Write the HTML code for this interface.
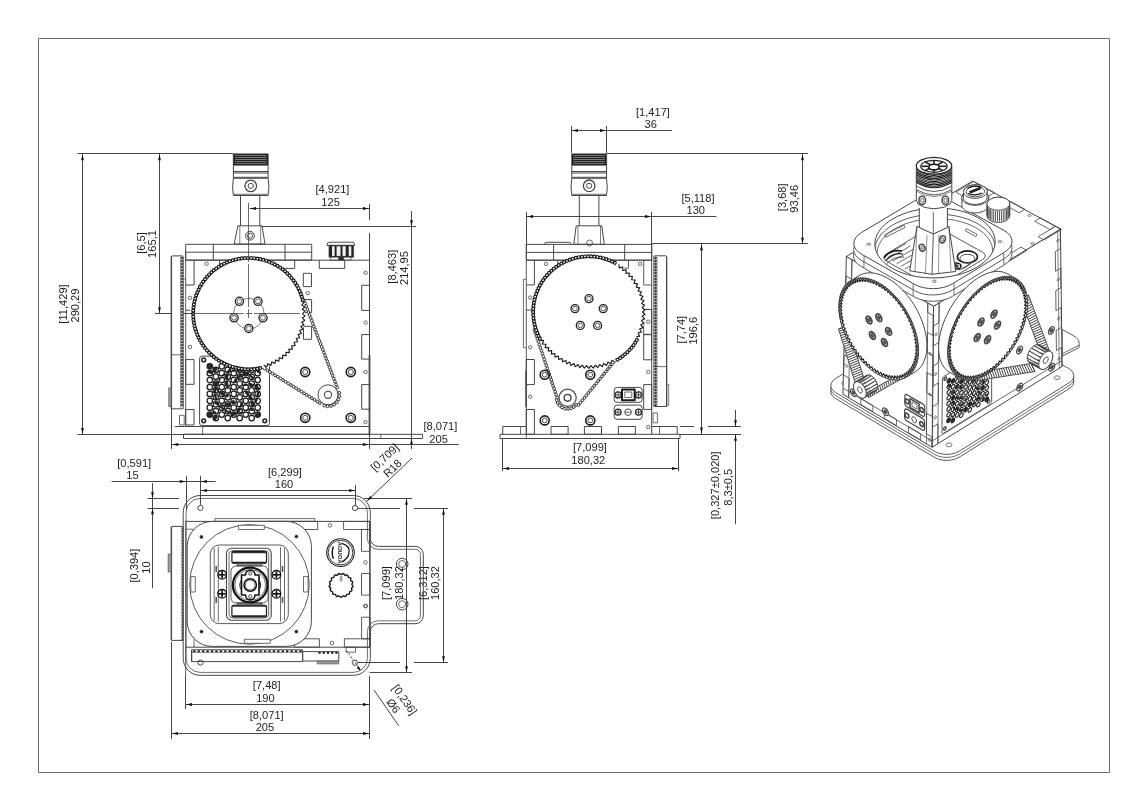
<!DOCTYPE html>
<html><head><meta charset="utf-8"><style>
html,body{margin:0;padding:0;background:#fff;}
svg{display:block;will-change:transform;}
text{font-family:"Liberation Sans",sans-serif;fill:#1e1e1e;stroke:none;}
</style></head><body>
<svg width="1148" height="811" viewBox="0 0 1148 811">
<rect width="1148" height="811" fill="#fff"/>
<g fill="none" stroke="#474747" stroke-width="1" stroke-linecap="butt" stroke-linejoin="round">
<rect x="38.5" y="38.5" width="1071" height="734" stroke="#6a6a6a"/>
<line x1="77.5" y1="153.5" x2="233" y2="153.5"/>
<line x1="82.5" y1="154" x2="82.5" y2="434"/>
<path d="M82.5 154.2 L83.9 160.2 L81.1 160.2 Z" fill="#111" stroke="none"/>
<path d="M82.5 434 L81.1 428 L83.9 428 Z" fill="#111" stroke="none"/>
<line x1="77.5" y1="434.5" x2="185" y2="434.5"/>
<line x1="159.5" y1="154" x2="159.5" y2="313.5"/>
<path d="M159.5 154.2 L160.9 160.2 L158.1 160.2 Z" fill="#111" stroke="none"/>
<path d="M159.5 313.3 L158.1 307.3 L160.9 307.3 Z" fill="#111" stroke="none"/>
<line x1="155" y1="313.5" x2="192" y2="313.5"/>
<text transform="translate(67.25 304) rotate(-90)" text-anchor="middle" font-size="11.1">[11,429]</text>
<text transform="translate(79.15 305.5) rotate(-90)" text-anchor="middle" font-size="11.1">290,29</text>
<text transform="translate(144.75 243) rotate(-90)" text-anchor="middle" font-size="11.1">[6,5]</text>
<text transform="translate(156.15 244) rotate(-90)" text-anchor="middle" font-size="11.1">165,1</text>
<line x1="249.5" y1="208.5" x2="369" y2="208.5"/>
<path d="M250 208.5 L256 207.1 L256 209.9 Z" fill="#111" stroke="none"/>
<path d="M369 208.5 L363 209.9 L363 207.1 Z" fill="#111" stroke="none"/>
<line x1="369.5" y1="204" x2="369.5" y2="220"/>
<text x="332.5" y="193.35" text-anchor="middle" font-size="11.1">[4,921]</text>
<text x="330.6" y="206.15" text-anchor="middle" font-size="11.1">125</text>
<line x1="262" y1="226.5" x2="416" y2="226.5"/>
<line x1="411.5" y1="211" x2="411.5" y2="449"/>
<path d="M411.5 226.3 L410.1 220.3 L412.9 220.3 Z" fill="#111" stroke="none"/>
<path d="M411.5 438.6 L412.9 444.6 L410.1 444.6 Z" fill="#111" stroke="none"/>
<text transform="translate(395.95 266.7) rotate(-90)" text-anchor="middle" font-size="11.1">[8,463]</text>
<text transform="translate(408.25 268) rotate(-90)" text-anchor="middle" font-size="11.1">214,95</text>
<line x1="172" y1="444.5" x2="459" y2="444.5"/>
<path d="M172.2 444.5 L178.2 443.1 L178.2 445.9 Z" fill="#111" stroke="none"/>
<path d="M368.8 444.5 L362.8 445.9 L362.8 443.1 Z" fill="#111" stroke="none"/>
<line x1="171.5" y1="408" x2="171.5" y2="449"/>
<line x1="369.5" y1="426" x2="369.5" y2="449"/>
<text x="440.4" y="429.55" text-anchor="middle" font-size="11.1">[8,071]</text>
<text x="438.6" y="442.65" text-anchor="middle" font-size="11.1">205</text>
<line x1="571.5" y1="126" x2="571.5" y2="153"/>
<line x1="606.5" y1="126" x2="606.5" y2="153"/>
<line x1="571.5" y1="130.5" x2="672" y2="130.5"/>
<path d="M572 130.5 L578 129.1 L578 131.9 Z" fill="#111" stroke="none"/>
<path d="M606 130.5 L600 131.9 L600 129.1 Z" fill="#111" stroke="none"/>
<text x="653" y="115.75" text-anchor="middle" font-size="11.1">[1,417]</text>
<text x="650.7" y="128.35" text-anchor="middle" font-size="11.1">36</text>
<line x1="606.5" y1="153.5" x2="808" y2="153.5"/>
<line x1="802.5" y1="154" x2="802.5" y2="244"/>
<path d="M802.5 154.2 L803.9 160.2 L801.1 160.2 Z" fill="#111" stroke="none"/>
<path d="M802.5 243.8 L801.1 237.8 L803.9 237.8 Z" fill="#111" stroke="none"/>
<line x1="652" y1="243.5" x2="808" y2="243.5"/>
<text transform="translate(785.95 197.3) rotate(-90)" text-anchor="middle" font-size="11.1">[3,68]</text>
<text transform="translate(798.15 198.8) rotate(-90)" text-anchor="middle" font-size="11.1">93,46</text>
<line x1="526.5" y1="212" x2="526.5" y2="244"/>
<line x1="651.5" y1="212" x2="651.5" y2="244"/>
<line x1="526.5" y1="216.5" x2="716.5" y2="216.5"/>
<path d="M527 216.5 L533 215.1 L533 217.9 Z" fill="#111" stroke="none"/>
<path d="M651 216.5 L645 217.9 L645 215.1 Z" fill="#111" stroke="none"/>
<text x="698" y="201.75" text-anchor="middle" font-size="11.1">[5,118]</text>
<text x="695.8" y="213.75" text-anchor="middle" font-size="11.1">130</text>
<line x1="701.5" y1="244" x2="701.5" y2="434"/>
<path d="M701.5 244.2 L702.9 250.2 L700.1 250.2 Z" fill="#111" stroke="none"/>
<path d="M701.5 433.5 L700.1 427.5 L702.9 427.5 Z" fill="#111" stroke="none"/>
<text transform="translate(684.95 329.7) rotate(-90)" text-anchor="middle" font-size="11.1">[7,74]</text>
<text transform="translate(697.25 330.7) rotate(-90)" text-anchor="middle" font-size="11.1">196,6</text>
<line x1="502.5" y1="439" x2="502.5" y2="471"/>
<line x1="678.5" y1="439" x2="678.5" y2="471"/>
<line x1="502.5" y1="468.5" x2="678.5" y2="468.5"/>
<path d="M503 468.5 L509 467.1 L509 469.9 Z" fill="#111" stroke="none"/>
<path d="M678 468.5 L672 469.9 L672 467.1 Z" fill="#111" stroke="none"/>
<text x="590" y="450.95" text-anchor="middle" font-size="11.1">[7,099]</text>
<text x="588.3" y="463.85" text-anchor="middle" font-size="11.1">180,32</text>
<line x1="735.5" y1="410" x2="735.5" y2="426"/>
<line x1="735.5" y1="434.5" x2="735.5" y2="524"/>
<path d="M735.5 426.3 L734.1 420.3 L736.9 420.3 Z" fill="#111" stroke="none"/>
<path d="M735.5 434.7 L736.9 440.7 L734.1 440.7 Z" fill="#111" stroke="none"/>
<path d="M680 426.5 L694 426.5 M708 426.5 L741 426.5" stroke-dasharray="14 0"/>
<line x1="680" y1="434.5" x2="741" y2="434.5"/>
<text transform="translate(719.25 485.3) rotate(-90)" text-anchor="middle" font-size="11.1">[0,327&#177;0,020]</text>
<text transform="translate(731.95 487.3) rotate(-90)" text-anchor="middle" font-size="11.1">8,3&#177;0,5</text>
<line x1="111.5" y1="481.5" x2="215.5" y2="481.5"/>
<path d="M185.8 481.5 L179.8 482.9 L179.8 480.1 Z" fill="#111" stroke="none"/>
<path d="M201 481.5 L207 480.1 L207 482.9 Z" fill="#111" stroke="none"/>
<line x1="186.5" y1="476" x2="186.5" y2="510"/>
<line x1="200.5" y1="476" x2="200.5" y2="505"/>
<text x="134.2" y="466.95" text-anchor="middle" font-size="11.1">[0,591]</text>
<text x="132.4" y="478.95" text-anchor="middle" font-size="11.1">15</text>
<line x1="200.5" y1="490.5" x2="355.5" y2="490.5"/>
<path d="M201 490.5 L207 489.1 L207 491.9 Z" fill="#111" stroke="none"/>
<path d="M355 490.5 L349 491.9 L349 489.1 Z" fill="#111" stroke="none"/>
<line x1="355.5" y1="485" x2="355.5" y2="505"/>
<text x="285" y="475.75" text-anchor="middle" font-size="11.1">[6,299]</text>
<text x="284" y="488.15" text-anchor="middle" font-size="11.1">160</text>
<line x1="152.5" y1="483" x2="152.5" y2="588"/>
<path d="M152.5 498.3 L151.1 492.3 L153.9 492.3 Z" fill="#111" stroke="none"/>
<path d="M152.5 508.2 L153.9 514.2 L151.1 514.2 Z" fill="#111" stroke="none"/>
<line x1="147.5" y1="498.5" x2="179" y2="498.5"/>
<line x1="147.5" y1="508.5" x2="179" y2="508.5"/>
<text transform="translate(138.35 565.6) rotate(-90)" text-anchor="middle" font-size="11.1">[0,394]</text>
<text transform="translate(150.45 567.5) rotate(-90)" text-anchor="middle" font-size="11.1">10</text>
<line x1="364" y1="498.5" x2="412" y2="498.5"/>
<line x1="369.6" y1="672.5" x2="412" y2="672.5"/>
<path d="M358 508.5 L400 508.5 M414 508.5 L448 508.5"/>
<path d="M358 662.5 L400 662.5 M414 662.5 L448 662.5"/>
<line x1="406.5" y1="498.5" x2="406.5" y2="672.5"/>
<path d="M406.5 498.8 L407.9 504.8 L405.1 504.8 Z" fill="#111" stroke="none"/>
<path d="M406.5 672.2 L405.1 666.2 L407.9 666.2 Z" fill="#111" stroke="none"/>
<line x1="443.5" y1="508.5" x2="443.5" y2="662.5"/>
<path d="M443.5 508.8 L444.9 514.8 L442.1 514.8 Z" fill="#111" stroke="none"/>
<path d="M443.5 662.2 L442.1 656.2 L444.9 656.2 Z" fill="#111" stroke="none"/>
<text transform="translate(390.45 583) rotate(-90)" text-anchor="middle" font-size="11.1">[7,099]</text>
<text transform="translate(402.65 583) rotate(-90)" text-anchor="middle" font-size="11.1">180,32</text>
<text transform="translate(426.95 583) rotate(-90)" text-anchor="middle" font-size="11.1">[6,312]</text>
<text transform="translate(439.25 583) rotate(-90)" text-anchor="middle" font-size="11.1">160,32</text>
<line x1="185.5" y1="676" x2="185.5" y2="709"/>
<line x1="171.5" y1="642" x2="171.5" y2="739"/>
<line x1="369.5" y1="676" x2="369.5" y2="739"/>
<line x1="185.5" y1="704.5" x2="369.5" y2="704.5"/>
<path d="M186 704.5 L192 703.1 L192 705.9 Z" fill="#111" stroke="none"/>
<path d="M369 704.5 L363 705.9 L363 703.1 Z" fill="#111" stroke="none"/>
<line x1="171.5" y1="733.5" x2="369.5" y2="733.5"/>
<path d="M172 733.5 L178 732.1 L178 734.9 Z" fill="#111" stroke="none"/>
<path d="M369 733.5 L363 734.9 L363 732.1 Z" fill="#111" stroke="none"/>
<text x="266.7" y="689.25" text-anchor="middle" font-size="11.1">[7,48]</text>
<text x="265.4" y="701.85" text-anchor="middle" font-size="11.1">190</text>
<text x="266.7" y="718.55" text-anchor="middle" font-size="11.1">[8,071]</text>
<text x="264.9" y="731.05" text-anchor="middle" font-size="11.1">205</text>
<line x1="366.5" y1="501.5" x2="412" y2="458"/>
<path d="M366.8 501.2 L370.17 496.04 L372.11 498.07 Z" fill="#111" stroke="none"/>
<text transform="translate(387.3 460.1) rotate(-43.6)" text-anchor="middle" font-size="11.1">[0,709]</text>
<text transform="translate(395 471) rotate(-43.6)" text-anchor="middle" font-size="11.1">R18</text>
<line x1="374" y1="690" x2="398.7" y2="725.8"/>
<path d="M346.5 650.5 L361 671" stroke-dasharray="2.2 1.4"/>
<path d="M360.8 671.2 L356.68 668.04 L358.92 666.36 Z" fill="#111" stroke="none"/>
<text transform="translate(401.6 702) rotate(55)" text-anchor="middle" font-size="11.1">[0,236]</text>
<text transform="translate(390.3 708) rotate(55)" text-anchor="middle" font-size="11.1">&#216;6</text>
<rect x="233.2" y="153.8" width="35.1" height="11.5" stroke-width="0.6" fill="#1c1c1c"/>
<line x1="234.9" y1="155.6" x2="266.6" y2="155.6" stroke="#9a9a9a" stroke-width="0.75"/>
<line x1="234.9" y1="157.55" x2="266.6" y2="157.55" stroke="#9a9a9a" stroke-width="0.75"/>
<line x1="234.9" y1="159.5" x2="266.6" y2="159.5" stroke="#9a9a9a" stroke-width="0.75"/>
<line x1="234.9" y1="161.45" x2="266.6" y2="161.45" stroke="#9a9a9a" stroke-width="0.75"/>
<line x1="234.9" y1="163.4" x2="266.6" y2="163.4" stroke="#9a9a9a" stroke-width="0.75"/>
<line x1="233.4" y1="171.5" x2="268.1" y2="171.5"/>
<line x1="233.4" y1="173" x2="268.1" y2="173"/>
<line x1="233.7" y1="177.3" x2="267.8" y2="177.3"/>
<line x1="233.7" y1="178.3" x2="267.8" y2="178.3"/>
<path d="M233.4 165.3 L233.4 178 Q231.8 187 233.4 195.5 L268.1 195.5 Q269.7 187 268.1 178 L268.1 165.3"/>
<line x1="233.9" y1="194.3" x2="267.6" y2="194.3" stroke-width="0.8"/>
<circle cx="250.75" cy="185.9" r="5.8" stroke-width="1.3"/>
<circle cx="250.75" cy="185.9" r="2.6"/>
<line x1="240.5" y1="195.5" x2="240.5" y2="225.8"/>
<line x1="259.8" y1="195.5" x2="259.8" y2="225.8"/>
<path d="M237.9 225.8 L262 225.8 L265 244 L234.2 244 Z"/>
<line x1="239.8" y1="226" x2="239.8" y2="244" stroke-width="0.7"/>
<line x1="260.7" y1="226" x2="260.7" y2="244" stroke-width="0.7"/>
<circle cx="250" cy="235.7" r="4.4"/>
<circle cx="250" cy="235.7" r="2.6"/>
<rect x="185.7" y="244.3" width="126" height="15.8"/>
<line x1="185.7" y1="252.2" x2="311.6" y2="252.2"/>
<line x1="213.3" y1="244.3" x2="213.3" y2="260"/>
<line x1="285" y1="244.3" x2="285" y2="260"/>
<path d="M327 245.5 Q326.5 242.2 330 242.2 L351.5 242.2 Q355 242.2 354.4 245.5 Z" fill="#fff"/>
<rect x="329" y="245.2" width="24.6" height="12" stroke-width="0.8" fill="#222"/>
<rect x="332" y="246.3" width="2.6" height="9.6" fill="#f2f2f2" stroke="none"/>
<rect x="336.6" y="246.3" width="3.9" height="9.6" fill="#f2f2f2" stroke="none"/>
<rect x="342.5" y="246.3" width="3.2" height="9.6" fill="#f2f2f2" stroke="none"/>
<rect x="348.7" y="246.3" width="2.6" height="9.6" fill="#f2f2f2" stroke="none"/>
<rect x="330.4" y="257.2" width="20.6" height="3" stroke-width="0.8" fill="#fff"/>
<rect x="338.5" y="257.2" width="5.3" height="3" stroke-width="0.6" fill="#222"/>
<line x1="185.7" y1="260.2" x2="369.5" y2="260.2"/>
<line x1="185.7" y1="252" x2="185.7" y2="426.5" stroke-width="0.9"/>
<line x1="369.5" y1="233" x2="369.5" y2="355"/>
<line x1="369.5" y1="355" x2="369.5" y2="434" stroke-width="1.8"/>
<line x1="185.7" y1="426.5" x2="369.5" y2="426.5"/>
<path d="M319.3 260.2 L319.3 268.4 L344.7 268.4 L344.7 260.2"/>
<path d="M219.6 260.2 L219.6 268.4 L294.7 268.4 L294.7 260.2"/>
<path d="M185.7 285 L194.1 285 L194.1 260.2"/>
<path d="M185.7 310.2 L190 310.2"/>
<rect x="185.7" y="359.6" width="8.3" height="24.7"/>
<rect x="185.7" y="409.5" width="8.3" height="15.5"/>
<rect x="361.7" y="285.3" width="7.8" height="25.1"/>
<rect x="361.7" y="334.6" width="7.8" height="24.5"/>
<rect x="361.7" y="384.6" width="7.8" height="24.6"/>
<rect x="303.3" y="273.3" width="8.2" height="13.3"/>
<rect x="303.5" y="299.5" width="8.1" height="13"/>
<rect x="303.5" y="326.3" width="8.1" height="13"/>
<circle cx="206.6" cy="263.8" r="1.7" stroke-width="0.8"/>
<circle cx="190" cy="297.8" r="1.7" stroke-width="0.8"/>
<circle cx="365.6" cy="272.8" r="1.7" stroke-width="0.8"/>
<circle cx="365.6" cy="322.6" r="1.7" stroke-width="0.8"/>
<circle cx="307.7" cy="293.1" r="1.7" stroke-width="0.8"/>
<circle cx="365.5" cy="372" r="1.7" stroke-width="0.8"/>
<circle cx="365.5" cy="422.1" r="1.7" stroke-width="0.8"/>
<circle cx="190" cy="347" r="1.7" stroke-width="0.8"/>
<line x1="202.7" y1="426.5" x2="202.7" y2="434.3" stroke-width="0.8"/>
<line x1="185" y1="434.3" x2="369.5" y2="434.3"/>
<rect x="183.5" y="434.3" width="239.1" height="4.2"/>
<line x1="380.8" y1="434.3" x2="380.8" y2="438.5" stroke-width="0.8"/>
<line x1="175" y1="426.5" x2="185.7" y2="426.5"/>
<path d="M171.4 408.8 L171.4 257 Q171.4 255.9 172.5 255.9 L182.1 255.9 Q183.2 255.9 183.2 257 L183.2 408.8 Z" fill="#fff"/>
<line x1="171.4" y1="256.5" x2="171.4" y2="408.8" stroke-width="1.4"/>
<line x1="171.4" y1="354.8" x2="183.2" y2="354.8" stroke-width="0.8"/>
<circle cx="182" cy="258" r="0.95" stroke-width="0.7" fill="#222"/>
<circle cx="182" cy="261" r="0.95" stroke-width="0.7" fill="#222"/>
<circle cx="182" cy="264" r="0.95" stroke-width="0.7" fill="#222"/>
<circle cx="182" cy="267" r="0.95" stroke-width="0.7" fill="#222"/>
<circle cx="182" cy="270" r="0.95" stroke-width="0.7" fill="#222"/>
<circle cx="182" cy="273" r="0.95" stroke-width="0.7" fill="#222"/>
<circle cx="182" cy="276" r="0.95" stroke-width="0.7" fill="#222"/>
<circle cx="182" cy="279" r="0.95" stroke-width="0.7" fill="#222"/>
<circle cx="182" cy="282" r="0.95" stroke-width="0.7" fill="#222"/>
<circle cx="182" cy="285" r="0.95" stroke-width="0.7" fill="#222"/>
<circle cx="182" cy="288" r="0.95" stroke-width="0.7" fill="#222"/>
<circle cx="182" cy="291" r="0.95" stroke-width="0.7" fill="#222"/>
<circle cx="182" cy="294" r="0.95" stroke-width="0.7" fill="#222"/>
<circle cx="182" cy="297" r="0.95" stroke-width="0.7" fill="#222"/>
<circle cx="182" cy="300" r="0.95" stroke-width="0.7" fill="#222"/>
<circle cx="182" cy="303" r="0.95" stroke-width="0.7" fill="#222"/>
<circle cx="182" cy="306" r="0.95" stroke-width="0.7" fill="#222"/>
<circle cx="182" cy="309" r="0.95" stroke-width="0.7" fill="#222"/>
<circle cx="182" cy="312" r="0.95" stroke-width="0.7" fill="#222"/>
<circle cx="182" cy="315" r="0.95" stroke-width="0.7" fill="#222"/>
<circle cx="182" cy="318" r="0.95" stroke-width="0.7" fill="#222"/>
<circle cx="182" cy="321" r="0.95" stroke-width="0.7" fill="#222"/>
<circle cx="182" cy="324" r="0.95" stroke-width="0.7" fill="#222"/>
<circle cx="182" cy="327" r="0.95" stroke-width="0.7" fill="#222"/>
<circle cx="182" cy="330" r="0.95" stroke-width="0.7" fill="#222"/>
<circle cx="182" cy="333" r="0.95" stroke-width="0.7" fill="#222"/>
<circle cx="182" cy="336" r="0.95" stroke-width="0.7" fill="#222"/>
<circle cx="182" cy="339" r="0.95" stroke-width="0.7" fill="#222"/>
<circle cx="182" cy="342" r="0.95" stroke-width="0.7" fill="#222"/>
<circle cx="182" cy="345" r="0.95" stroke-width="0.7" fill="#222"/>
<circle cx="182" cy="348" r="0.95" stroke-width="0.7" fill="#222"/>
<circle cx="182" cy="351" r="0.95" stroke-width="0.7" fill="#222"/>
<circle cx="182" cy="354" r="0.95" stroke-width="0.7" fill="#222"/>
<circle cx="182" cy="357" r="0.95" stroke-width="0.7" fill="#222"/>
<circle cx="182" cy="360" r="0.95" stroke-width="0.7" fill="#222"/>
<circle cx="182" cy="363" r="0.95" stroke-width="0.7" fill="#222"/>
<circle cx="182" cy="366" r="0.95" stroke-width="0.7" fill="#222"/>
<circle cx="182" cy="369" r="0.95" stroke-width="0.7" fill="#222"/>
<circle cx="182" cy="372" r="0.95" stroke-width="0.7" fill="#222"/>
<circle cx="182" cy="375" r="0.95" stroke-width="0.7" fill="#222"/>
<circle cx="182" cy="378" r="0.95" stroke-width="0.7" fill="#222"/>
<circle cx="182" cy="381" r="0.95" stroke-width="0.7" fill="#222"/>
<circle cx="182" cy="384" r="0.95" stroke-width="0.7" fill="#222"/>
<circle cx="182" cy="387" r="0.95" stroke-width="0.7" fill="#222"/>
<circle cx="182" cy="390" r="0.95" stroke-width="0.7" fill="#222"/>
<circle cx="182" cy="393" r="0.95" stroke-width="0.7" fill="#222"/>
<circle cx="182" cy="396" r="0.95" stroke-width="0.7" fill="#222"/>
<circle cx="182" cy="399" r="0.95" stroke-width="0.7" fill="#222"/>
<circle cx="182" cy="402" r="0.95" stroke-width="0.7" fill="#222"/>
<circle cx="182" cy="405" r="0.95" stroke-width="0.7" fill="#222"/>
<line x1="180.6" y1="257" x2="180.6" y2="408" stroke-width="0.6"/>
<rect x="168.7" y="388" width="2.7" height="18.5" stroke-width="0.6" fill="#999"/>
<rect x="179.5" y="415.4" width="4.7" height="9.6" stroke-width="0.8"/>
<line x1="183.2" y1="279" x2="186" y2="279" stroke-width="0.7"/>
<rect x="199.6" y="356.1" width="69.9" height="69.5" rx="2.5" fill="#fff"/>
<circle cx="203.7" cy="359.9" r="1.9" stroke-width="1.5" stroke="#222"/>
<circle cx="203.7" cy="420.8" r="1.9" stroke-width="1.5" stroke="#222"/>
<circle cx="264.8" cy="420.8" r="1.9" stroke-width="1.5" stroke="#222"/>
<circle cx="264.8" cy="359.9" r="1.9" stroke-width="1.5" stroke="#222"/>
<clipPath id="fg1"><circle cx="209.8" cy="366.3" r="2.7"/><circle cx="209.8" cy="373.2" r="2.7"/><circle cx="209.8" cy="380.1" r="2.7"/><circle cx="209.8" cy="387" r="2.7"/><circle cx="209.8" cy="393.9" r="2.7"/><circle cx="209.8" cy="400.8" r="2.7"/><circle cx="209.8" cy="407.7" r="2.7"/><circle cx="209.8" cy="414.6" r="2.7"/><circle cx="215.78" cy="369.75" r="2.7"/><circle cx="215.78" cy="376.65" r="2.7"/><circle cx="215.78" cy="383.55" r="2.7"/><circle cx="215.78" cy="390.45" r="2.7"/><circle cx="215.78" cy="397.35" r="2.7"/><circle cx="215.78" cy="404.25" r="2.7"/><circle cx="215.78" cy="411.15" r="2.7"/><circle cx="215.78" cy="418.05" r="2.7"/><circle cx="221.76" cy="366.3" r="2.7"/><circle cx="221.76" cy="373.2" r="2.7"/><circle cx="221.76" cy="380.1" r="2.7"/><circle cx="221.76" cy="387" r="2.7"/><circle cx="221.76" cy="393.9" r="2.7"/><circle cx="221.76" cy="400.8" r="2.7"/><circle cx="221.76" cy="407.7" r="2.7"/><circle cx="221.76" cy="414.6" r="2.7"/><circle cx="227.74" cy="369.75" r="2.7"/><circle cx="227.74" cy="376.65" r="2.7"/><circle cx="227.74" cy="383.55" r="2.7"/><circle cx="227.74" cy="390.45" r="2.7"/><circle cx="227.74" cy="397.35" r="2.7"/><circle cx="227.74" cy="404.25" r="2.7"/><circle cx="227.74" cy="411.15" r="2.7"/><circle cx="227.74" cy="418.05" r="2.7"/><circle cx="233.72" cy="366.3" r="2.7"/><circle cx="233.72" cy="373.2" r="2.7"/><circle cx="233.72" cy="380.1" r="2.7"/><circle cx="233.72" cy="387" r="2.7"/><circle cx="233.72" cy="393.9" r="2.7"/><circle cx="233.72" cy="400.8" r="2.7"/><circle cx="233.72" cy="407.7" r="2.7"/><circle cx="233.72" cy="414.6" r="2.7"/><circle cx="239.7" cy="369.75" r="2.7"/><circle cx="239.7" cy="376.65" r="2.7"/><circle cx="239.7" cy="383.55" r="2.7"/><circle cx="239.7" cy="390.45" r="2.7"/><circle cx="239.7" cy="397.35" r="2.7"/><circle cx="239.7" cy="404.25" r="2.7"/><circle cx="239.7" cy="411.15" r="2.7"/><circle cx="239.7" cy="418.05" r="2.7"/><circle cx="245.68" cy="366.3" r="2.7"/><circle cx="245.68" cy="373.2" r="2.7"/><circle cx="245.68" cy="380.1" r="2.7"/><circle cx="245.68" cy="387" r="2.7"/><circle cx="245.68" cy="393.9" r="2.7"/><circle cx="245.68" cy="400.8" r="2.7"/><circle cx="245.68" cy="407.7" r="2.7"/><circle cx="245.68" cy="414.6" r="2.7"/><circle cx="251.66" cy="369.75" r="2.7"/><circle cx="251.66" cy="376.65" r="2.7"/><circle cx="251.66" cy="383.55" r="2.7"/><circle cx="251.66" cy="390.45" r="2.7"/><circle cx="251.66" cy="397.35" r="2.7"/><circle cx="251.66" cy="404.25" r="2.7"/><circle cx="251.66" cy="411.15" r="2.7"/><circle cx="251.66" cy="418.05" r="2.7"/><circle cx="257.64" cy="366.3" r="2.7"/><circle cx="257.64" cy="373.2" r="2.7"/><circle cx="257.64" cy="380.1" r="2.7"/><circle cx="257.64" cy="387" r="2.7"/><circle cx="257.64" cy="393.9" r="2.7"/><circle cx="257.64" cy="400.8" r="2.7"/><circle cx="257.64" cy="407.7" r="2.7"/><circle cx="257.64" cy="414.6" r="2.7"/></clipPath>
<g clip-path="url(#fg1)">
<circle cx="236.5" cy="392" r="21.5" stroke-width="2.2" stroke="#222"/>
<path d="M245.5 392 L247.31 393.22 L248.93 394.84 L250.3 396.84 L251.36 399.18 L252.04 401.8 L252.31 404.65 L252.11 407.68 L251.42 410.8" stroke-width="3.2" stroke="#262626"/>
<path d="M242.11 399.04 L242.28 401.21 L242.03 403.49 L241.32 405.81 L240.15 408.09 L238.53 410.26 L236.46 412.25 L233.98 413.98 L231.1 415.39" stroke-width="3.2" stroke="#262626"/>
<path d="M234.5 400.77 L232.91 402.26 L230.96 403.48 L228.71 404.38 L226.2 404.89 L223.49 404.97 L220.65 404.6 L217.74 403.73 L214.85 402.36" stroke-width="3.2" stroke="#262626"/>
<path d="M228.39 395.9 L226.23 395.59 L224.07 394.83 L221.97 393.62 L220 391.98 L218.24 389.92 L216.77 387.46 L215.63 384.65 L214.9 381.53" stroke-width="3.2" stroke="#262626"/>
<path d="M228.39 388.1 L227.29 386.21 L226.54 384.04 L226.17 381.65 L226.23 379.09 L226.75 376.43 L227.75 373.74 L229.24 371.1 L231.22 368.59" stroke-width="3.2" stroke="#262626"/>
<path d="M234.5 383.23 L235.29 381.19 L236.51 379.25 L238.15 377.47 L240.19 375.92 L242.59 374.67 L245.32 373.77 L248.31 373.29 L251.51 373.27" stroke-width="3.2" stroke="#262626"/>
<path d="M242.11 384.96 L244.19 384.31 L246.47 384.06 L248.89 384.23 L251.37 384.86 L253.85 385.96 L256.25 387.53 L258.49 389.57 L260.5 392.06" stroke-width="3.2" stroke="#262626"/>
<circle cx="211.5" cy="368" r="6" fill="#2a2a2a" stroke="none"/>
<circle cx="261.5" cy="368" r="6" fill="#2a2a2a" stroke="none"/>
<circle cx="211.5" cy="416" r="6" fill="#2a2a2a" stroke="none"/>
<circle cx="261.5" cy="416" r="6" fill="#2a2a2a" stroke="none"/>
</g>
<circle cx="209.8" cy="366.3" r="2.75" stroke-width="1.25" stroke="#1e1e1e"/>
<circle cx="209.8" cy="373.2" r="2.75" stroke-width="1.25" stroke="#1e1e1e"/>
<circle cx="209.8" cy="380.1" r="2.75" stroke-width="1.25" stroke="#1e1e1e"/>
<circle cx="209.8" cy="387" r="2.75" stroke-width="1.25" stroke="#1e1e1e"/>
<circle cx="209.8" cy="393.9" r="2.75" stroke-width="1.25" stroke="#1e1e1e"/>
<circle cx="209.8" cy="400.8" r="2.75" stroke-width="1.25" stroke="#1e1e1e"/>
<circle cx="209.8" cy="407.7" r="2.75" stroke-width="1.25" stroke="#1e1e1e"/>
<circle cx="209.8" cy="414.6" r="2.75" stroke-width="1.25" stroke="#1e1e1e"/>
<circle cx="215.78" cy="369.75" r="2.75" stroke-width="1.25" stroke="#1e1e1e"/>
<circle cx="215.78" cy="376.65" r="2.75" stroke-width="1.25" stroke="#1e1e1e"/>
<circle cx="215.78" cy="383.55" r="2.75" stroke-width="1.25" stroke="#1e1e1e"/>
<circle cx="215.78" cy="390.45" r="2.75" stroke-width="1.25" stroke="#1e1e1e"/>
<circle cx="215.78" cy="397.35" r="2.75" stroke-width="1.25" stroke="#1e1e1e"/>
<circle cx="215.78" cy="404.25" r="2.75" stroke-width="1.25" stroke="#1e1e1e"/>
<circle cx="215.78" cy="411.15" r="2.75" stroke-width="1.25" stroke="#1e1e1e"/>
<circle cx="215.78" cy="418.05" r="2.75" stroke-width="1.25" stroke="#1e1e1e"/>
<circle cx="221.76" cy="366.3" r="2.75" stroke-width="1.25" stroke="#1e1e1e"/>
<circle cx="221.76" cy="373.2" r="2.75" stroke-width="1.25" stroke="#1e1e1e"/>
<circle cx="221.76" cy="380.1" r="2.75" stroke-width="1.25" stroke="#1e1e1e"/>
<circle cx="221.76" cy="387" r="2.75" stroke-width="1.25" stroke="#1e1e1e"/>
<circle cx="221.76" cy="393.9" r="2.75" stroke-width="1.25" stroke="#1e1e1e"/>
<circle cx="221.76" cy="400.8" r="2.75" stroke-width="1.25" stroke="#1e1e1e"/>
<circle cx="221.76" cy="407.7" r="2.75" stroke-width="1.25" stroke="#1e1e1e"/>
<circle cx="221.76" cy="414.6" r="2.75" stroke-width="1.25" stroke="#1e1e1e"/>
<circle cx="227.74" cy="369.75" r="2.75" stroke-width="1.25" stroke="#1e1e1e"/>
<circle cx="227.74" cy="376.65" r="2.75" stroke-width="1.25" stroke="#1e1e1e"/>
<circle cx="227.74" cy="383.55" r="2.75" stroke-width="1.25" stroke="#1e1e1e"/>
<circle cx="227.74" cy="390.45" r="2.75" stroke-width="1.25" stroke="#1e1e1e"/>
<circle cx="227.74" cy="397.35" r="2.75" stroke-width="1.25" stroke="#1e1e1e"/>
<circle cx="227.74" cy="404.25" r="2.75" stroke-width="1.25" stroke="#1e1e1e"/>
<circle cx="227.74" cy="411.15" r="2.75" stroke-width="1.25" stroke="#1e1e1e"/>
<circle cx="227.74" cy="418.05" r="2.75" stroke-width="1.25" stroke="#1e1e1e"/>
<circle cx="233.72" cy="366.3" r="2.75" stroke-width="1.25" stroke="#1e1e1e"/>
<circle cx="233.72" cy="373.2" r="2.75" stroke-width="1.25" stroke="#1e1e1e"/>
<circle cx="233.72" cy="380.1" r="2.75" stroke-width="1.25" stroke="#1e1e1e"/>
<circle cx="233.72" cy="387" r="2.75" stroke-width="1.25" stroke="#1e1e1e"/>
<circle cx="233.72" cy="393.9" r="2.75" stroke-width="1.25" stroke="#1e1e1e"/>
<circle cx="233.72" cy="400.8" r="2.75" stroke-width="1.25" stroke="#1e1e1e"/>
<circle cx="233.72" cy="407.7" r="2.75" stroke-width="1.25" stroke="#1e1e1e"/>
<circle cx="233.72" cy="414.6" r="2.75" stroke-width="1.25" stroke="#1e1e1e"/>
<circle cx="239.7" cy="369.75" r="2.75" stroke-width="1.25" stroke="#1e1e1e"/>
<circle cx="239.7" cy="376.65" r="2.75" stroke-width="1.25" stroke="#1e1e1e"/>
<circle cx="239.7" cy="383.55" r="2.75" stroke-width="1.25" stroke="#1e1e1e"/>
<circle cx="239.7" cy="390.45" r="2.75" stroke-width="1.25" stroke="#1e1e1e"/>
<circle cx="239.7" cy="397.35" r="2.75" stroke-width="1.25" stroke="#1e1e1e"/>
<circle cx="239.7" cy="404.25" r="2.75" stroke-width="1.25" stroke="#1e1e1e"/>
<circle cx="239.7" cy="411.15" r="2.75" stroke-width="1.25" stroke="#1e1e1e"/>
<circle cx="239.7" cy="418.05" r="2.75" stroke-width="1.25" stroke="#1e1e1e"/>
<circle cx="245.68" cy="366.3" r="2.75" stroke-width="1.25" stroke="#1e1e1e"/>
<circle cx="245.68" cy="373.2" r="2.75" stroke-width="1.25" stroke="#1e1e1e"/>
<circle cx="245.68" cy="380.1" r="2.75" stroke-width="1.25" stroke="#1e1e1e"/>
<circle cx="245.68" cy="387" r="2.75" stroke-width="1.25" stroke="#1e1e1e"/>
<circle cx="245.68" cy="393.9" r="2.75" stroke-width="1.25" stroke="#1e1e1e"/>
<circle cx="245.68" cy="400.8" r="2.75" stroke-width="1.25" stroke="#1e1e1e"/>
<circle cx="245.68" cy="407.7" r="2.75" stroke-width="1.25" stroke="#1e1e1e"/>
<circle cx="245.68" cy="414.6" r="2.75" stroke-width="1.25" stroke="#1e1e1e"/>
<circle cx="251.66" cy="369.75" r="2.75" stroke-width="1.25" stroke="#1e1e1e"/>
<circle cx="251.66" cy="376.65" r="2.75" stroke-width="1.25" stroke="#1e1e1e"/>
<circle cx="251.66" cy="383.55" r="2.75" stroke-width="1.25" stroke="#1e1e1e"/>
<circle cx="251.66" cy="390.45" r="2.75" stroke-width="1.25" stroke="#1e1e1e"/>
<circle cx="251.66" cy="397.35" r="2.75" stroke-width="1.25" stroke="#1e1e1e"/>
<circle cx="251.66" cy="404.25" r="2.75" stroke-width="1.25" stroke="#1e1e1e"/>
<circle cx="251.66" cy="411.15" r="2.75" stroke-width="1.25" stroke="#1e1e1e"/>
<circle cx="251.66" cy="418.05" r="2.75" stroke-width="1.25" stroke="#1e1e1e"/>
<circle cx="257.64" cy="366.3" r="2.75" stroke-width="1.25" stroke="#1e1e1e"/>
<circle cx="257.64" cy="373.2" r="2.75" stroke-width="1.25" stroke="#1e1e1e"/>
<circle cx="257.64" cy="380.1" r="2.75" stroke-width="1.25" stroke="#1e1e1e"/>
<circle cx="257.64" cy="387" r="2.75" stroke-width="1.25" stroke="#1e1e1e"/>
<circle cx="257.64" cy="393.9" r="2.75" stroke-width="1.25" stroke="#1e1e1e"/>
<circle cx="257.64" cy="400.8" r="2.75" stroke-width="1.25" stroke="#1e1e1e"/>
<circle cx="257.64" cy="407.7" r="2.75" stroke-width="1.25" stroke="#1e1e1e"/>
<circle cx="257.64" cy="414.6" r="2.75" stroke-width="1.25" stroke="#1e1e1e"/>
<circle cx="305.2" cy="372" r="4.6" stroke-width="1.6" stroke="#1a1a1a"/>
<circle cx="305.2" cy="372" r="2.5" stroke-width="1"/>
<circle cx="350.8" cy="372" r="4.6" stroke-width="1.6" stroke="#1a1a1a"/>
<circle cx="350.8" cy="372" r="2.5" stroke-width="1"/>
<circle cx="305.2" cy="417.8" r="4.6" stroke-width="1.6" stroke="#1a1a1a"/>
<circle cx="305.2" cy="417.8" r="2.5" stroke-width="1"/>
<circle cx="350.8" cy="417.8" r="4.6" stroke-width="1.6" stroke="#1a1a1a"/>
<circle cx="350.8" cy="417.8" r="2.5" stroke-width="1"/>
<circle cx="304" cy="300.5" r="1.4" stroke-width="0.95" fill="#fff" stroke="#2a2a2a"/>
<circle cx="305.11" cy="303.4" r="1.4" stroke-width="0.95" fill="#fff" stroke="#2a2a2a"/>
<circle cx="306.21" cy="306.29" r="1.4" stroke-width="0.95" fill="#fff" stroke="#2a2a2a"/>
<circle cx="307.32" cy="309.19" r="1.4" stroke-width="0.95" fill="#fff" stroke="#2a2a2a"/>
<circle cx="308.42" cy="312.08" r="1.4" stroke-width="0.95" fill="#fff" stroke="#2a2a2a"/>
<circle cx="309.53" cy="314.98" r="1.4" stroke-width="0.95" fill="#fff" stroke="#2a2a2a"/>
<circle cx="310.64" cy="317.88" r="1.4" stroke-width="0.95" fill="#fff" stroke="#2a2a2a"/>
<circle cx="311.74" cy="320.77" r="1.4" stroke-width="0.95" fill="#fff" stroke="#2a2a2a"/>
<circle cx="312.85" cy="323.67" r="1.4" stroke-width="0.95" fill="#fff" stroke="#2a2a2a"/>
<circle cx="313.95" cy="326.56" r="1.4" stroke-width="0.95" fill="#fff" stroke="#2a2a2a"/>
<circle cx="315.06" cy="329.46" r="1.4" stroke-width="0.95" fill="#fff" stroke="#2a2a2a"/>
<circle cx="316.17" cy="332.36" r="1.4" stroke-width="0.95" fill="#fff" stroke="#2a2a2a"/>
<circle cx="317.27" cy="335.25" r="1.4" stroke-width="0.95" fill="#fff" stroke="#2a2a2a"/>
<circle cx="318.38" cy="338.15" r="1.4" stroke-width="0.95" fill="#fff" stroke="#2a2a2a"/>
<circle cx="319.48" cy="341.04" r="1.4" stroke-width="0.95" fill="#fff" stroke="#2a2a2a"/>
<circle cx="320.59" cy="343.94" r="1.4" stroke-width="0.95" fill="#fff" stroke="#2a2a2a"/>
<circle cx="321.7" cy="346.84" r="1.4" stroke-width="0.95" fill="#fff" stroke="#2a2a2a"/>
<circle cx="322.8" cy="349.73" r="1.4" stroke-width="0.95" fill="#fff" stroke="#2a2a2a"/>
<circle cx="323.91" cy="352.63" r="1.4" stroke-width="0.95" fill="#fff" stroke="#2a2a2a"/>
<circle cx="325.01" cy="355.52" r="1.4" stroke-width="0.95" fill="#fff" stroke="#2a2a2a"/>
<circle cx="326.12" cy="358.42" r="1.4" stroke-width="0.95" fill="#fff" stroke="#2a2a2a"/>
<circle cx="327.23" cy="361.32" r="1.4" stroke-width="0.95" fill="#fff" stroke="#2a2a2a"/>
<circle cx="328.33" cy="364.21" r="1.4" stroke-width="0.95" fill="#fff" stroke="#2a2a2a"/>
<circle cx="329.44" cy="367.11" r="1.4" stroke-width="0.95" fill="#fff" stroke="#2a2a2a"/>
<circle cx="330.54" cy="370" r="1.4" stroke-width="0.95" fill="#fff" stroke="#2a2a2a"/>
<circle cx="331.65" cy="372.9" r="1.4" stroke-width="0.95" fill="#fff" stroke="#2a2a2a"/>
<circle cx="332.76" cy="375.8" r="1.4" stroke-width="0.95" fill="#fff" stroke="#2a2a2a"/>
<circle cx="333.86" cy="378.69" r="1.4" stroke-width="0.95" fill="#fff" stroke="#2a2a2a"/>
<circle cx="334.97" cy="381.59" r="1.4" stroke-width="0.95" fill="#fff" stroke="#2a2a2a"/>
<circle cx="336.07" cy="384.48" r="1.4" stroke-width="0.95" fill="#fff" stroke="#2a2a2a"/>
<circle cx="337.18" cy="387.38" r="1.4" stroke-width="0.95" fill="#fff" stroke="#2a2a2a"/>
<circle cx="262" cy="367" r="1.4" stroke-width="0.95" fill="#fff" stroke="#2a2a2a"/>
<circle cx="264.63" cy="368.64" r="1.4" stroke-width="0.95" fill="#fff" stroke="#2a2a2a"/>
<circle cx="267.26" cy="370.29" r="1.4" stroke-width="0.95" fill="#fff" stroke="#2a2a2a"/>
<circle cx="269.89" cy="371.93" r="1.4" stroke-width="0.95" fill="#fff" stroke="#2a2a2a"/>
<circle cx="272.52" cy="373.57" r="1.4" stroke-width="0.95" fill="#fff" stroke="#2a2a2a"/>
<circle cx="275.14" cy="375.21" r="1.4" stroke-width="0.95" fill="#fff" stroke="#2a2a2a"/>
<circle cx="277.77" cy="376.86" r="1.4" stroke-width="0.95" fill="#fff" stroke="#2a2a2a"/>
<circle cx="280.4" cy="378.5" r="1.4" stroke-width="0.95" fill="#fff" stroke="#2a2a2a"/>
<circle cx="283.03" cy="380.14" r="1.4" stroke-width="0.95" fill="#fff" stroke="#2a2a2a"/>
<circle cx="285.66" cy="381.79" r="1.4" stroke-width="0.95" fill="#fff" stroke="#2a2a2a"/>
<circle cx="288.29" cy="383.43" r="1.4" stroke-width="0.95" fill="#fff" stroke="#2a2a2a"/>
<circle cx="290.92" cy="385.07" r="1.4" stroke-width="0.95" fill="#fff" stroke="#2a2a2a"/>
<circle cx="293.55" cy="386.72" r="1.4" stroke-width="0.95" fill="#fff" stroke="#2a2a2a"/>
<circle cx="296.17" cy="388.36" r="1.4" stroke-width="0.95" fill="#fff" stroke="#2a2a2a"/>
<circle cx="298.8" cy="390" r="1.4" stroke-width="0.95" fill="#fff" stroke="#2a2a2a"/>
<circle cx="301.43" cy="391.64" r="1.4" stroke-width="0.95" fill="#fff" stroke="#2a2a2a"/>
<circle cx="304.06" cy="393.29" r="1.4" stroke-width="0.95" fill="#fff" stroke="#2a2a2a"/>
<circle cx="306.69" cy="394.93" r="1.4" stroke-width="0.95" fill="#fff" stroke="#2a2a2a"/>
<circle cx="309.32" cy="396.57" r="1.4" stroke-width="0.95" fill="#fff" stroke="#2a2a2a"/>
<circle cx="311.95" cy="398.22" r="1.4" stroke-width="0.95" fill="#fff" stroke="#2a2a2a"/>
<circle cx="314.58" cy="399.86" r="1.4" stroke-width="0.95" fill="#fff" stroke="#2a2a2a"/>
<circle cx="317.2" cy="401.5" r="1.4" stroke-width="0.95" fill="#fff" stroke="#2a2a2a"/>
<circle cx="319.83" cy="403.15" r="1.4" stroke-width="0.95" fill="#fff" stroke="#2a2a2a"/>
<circle cx="328" cy="394.8" r="10" stroke-width="1" fill="#fff"/>
<circle cx="328" cy="394.8" r="3.6" stroke-width="1.1"/>
<circle cx="339.33" cy="392.8" r="1.4" stroke-width="0.95" fill="#fff" stroke="#2a2a2a"/>
<circle cx="339.41" cy="396.2" r="1.4" stroke-width="0.95" fill="#fff" stroke="#2a2a2a"/>
<circle cx="338.51" cy="399.48" r="1.4" stroke-width="0.95" fill="#fff" stroke="#2a2a2a"/>
<circle cx="336.68" cy="402.34" r="1.4" stroke-width="0.95" fill="#fff" stroke="#2a2a2a"/>
<circle cx="334.09" cy="404.55" r="1.4" stroke-width="0.95" fill="#fff" stroke="#2a2a2a"/>
<circle cx="330.98" cy="405.91" r="1.4" stroke-width="0.95" fill="#fff" stroke="#2a2a2a"/>
<circle cx="327.6" cy="406.29" r="1.4" stroke-width="0.95" fill="#fff" stroke="#2a2a2a"/>
<circle cx="324.26" cy="405.67" r="1.4" stroke-width="0.95" fill="#fff" stroke="#2a2a2a"/>
<circle cx="248.8" cy="313.6" r="56.4" fill="#fff" stroke="none"/>
<path d="M302.4 313.6 L305.05 315.87 L302.23 317.91 L304.69 320.39 L301.71 322.2 L303.96 324.86 L300.84 326.43 L302.88 329.26 L299.64 330.57 L301.44 333.56 L298.11 334.61 L299.66 337.74 L296.26 338.51 L297.56 341.75 L294.1 342.25 L295.13 345.58 L291.65 345.8 L292.41 349.21 L288.92 349.14 L289.4 352.6 L285.93 352.26 L286.13 355.74 L282.7 355.12 L282.62 358.61 L279.25 357.71 L278.89 361.18 L275.6 360.02 L274.96 363.45 L271.78 362.02 L270.87 365.39 L267.81 363.72 L266.63 367 L263.71 365.08" stroke-width="1.15" stroke="#1a1a1a"/>
<path d="M300.84 300.77 L303.96 302.34 L301.71 305 L304.69 306.81 L302.23 309.29 L305.05 311.33 L302.4 313.6" stroke-width="1.15" stroke="#1a1a1a"/>
<circle cx="260.33" cy="368.09" r="1.45" stroke-width="1.15" fill="#fff" stroke="#151515"/>
<circle cx="258.52" cy="366.82" r="0.55" fill="#333" stroke="none"/>
<circle cx="257.28" cy="368.65" r="1.45" stroke-width="1.15" fill="#fff" stroke="#151515"/>
<circle cx="255.55" cy="367.28" r="0.55" fill="#333" stroke="none"/>
<circle cx="254.21" cy="369.04" r="1.45" stroke-width="1.15" fill="#fff" stroke="#151515"/>
<circle cx="252.56" cy="367.57" r="0.55" fill="#333" stroke="none"/>
<circle cx="251.12" cy="369.25" r="1.45" stroke-width="1.15" fill="#fff" stroke="#151515"/>
<circle cx="249.55" cy="367.69" r="0.55" fill="#333" stroke="none"/>
<circle cx="248.03" cy="369.29" r="1.45" stroke-width="1.15" fill="#fff" stroke="#151515"/>
<circle cx="246.54" cy="367.65" r="0.55" fill="#333" stroke="none"/>
<circle cx="244.93" cy="369.17" r="1.45" stroke-width="1.15" fill="#fff" stroke="#151515"/>
<circle cx="243.54" cy="367.44" r="0.55" fill="#333" stroke="none"/>
<circle cx="241.85" cy="368.86" r="1.45" stroke-width="1.15" fill="#fff" stroke="#151515"/>
<circle cx="240.56" cy="367.07" r="0.55" fill="#333" stroke="none"/>
<circle cx="238.79" cy="368.39" r="1.45" stroke-width="1.15" fill="#fff" stroke="#151515"/>
<circle cx="237.6" cy="366.53" r="0.55" fill="#333" stroke="none"/>
<circle cx="235.76" cy="367.75" r="1.45" stroke-width="1.15" fill="#fff" stroke="#151515"/>
<circle cx="234.68" cy="365.82" r="0.55" fill="#333" stroke="none"/>
<circle cx="232.77" cy="366.94" r="1.45" stroke-width="1.15" fill="#fff" stroke="#151515"/>
<circle cx="231.8" cy="364.96" r="0.55" fill="#333" stroke="none"/>
<circle cx="229.83" cy="365.97" r="1.45" stroke-width="1.15" fill="#fff" stroke="#151515"/>
<circle cx="228.97" cy="363.93" r="0.55" fill="#333" stroke="none"/>
<circle cx="226.95" cy="364.84" r="1.45" stroke-width="1.15" fill="#fff" stroke="#151515"/>
<circle cx="226.2" cy="362.75" r="0.55" fill="#333" stroke="none"/>
<circle cx="224.14" cy="363.54" r="1.45" stroke-width="1.15" fill="#fff" stroke="#151515"/>
<circle cx="223.5" cy="361.42" r="0.55" fill="#333" stroke="none"/>
<circle cx="221.4" cy="362.09" r="1.45" stroke-width="1.15" fill="#fff" stroke="#151515"/>
<circle cx="220.89" cy="359.94" r="0.55" fill="#333" stroke="none"/>
<circle cx="218.75" cy="360.5" r="1.45" stroke-width="1.15" fill="#fff" stroke="#151515"/>
<circle cx="218.35" cy="358.32" r="0.55" fill="#333" stroke="none"/>
<circle cx="216.19" cy="358.75" r="1.45" stroke-width="1.15" fill="#fff" stroke="#151515"/>
<circle cx="215.92" cy="356.56" r="0.55" fill="#333" stroke="none"/>
<circle cx="213.73" cy="356.87" r="1.45" stroke-width="1.15" fill="#fff" stroke="#151515"/>
<circle cx="213.58" cy="354.66" r="0.55" fill="#333" stroke="none"/>
<circle cx="211.38" cy="354.85" r="1.45" stroke-width="1.15" fill="#fff" stroke="#151515"/>
<circle cx="211.35" cy="352.64" r="0.55" fill="#333" stroke="none"/>
<circle cx="209.14" cy="352.71" r="1.45" stroke-width="1.15" fill="#fff" stroke="#151515"/>
<circle cx="209.24" cy="350.5" r="0.55" fill="#333" stroke="none"/>
<circle cx="207.03" cy="350.45" r="1.45" stroke-width="1.15" fill="#fff" stroke="#151515"/>
<circle cx="207.25" cy="348.25" r="0.55" fill="#333" stroke="none"/>
<circle cx="205.05" cy="348.07" r="1.45" stroke-width="1.15" fill="#fff" stroke="#151515"/>
<circle cx="205.39" cy="345.88" r="0.55" fill="#333" stroke="none"/>
<circle cx="203.2" cy="345.58" r="1.45" stroke-width="1.15" fill="#fff" stroke="#151515"/>
<circle cx="203.66" cy="343.42" r="0.55" fill="#333" stroke="none"/>
<circle cx="201.49" cy="343" r="1.45" stroke-width="1.15" fill="#fff" stroke="#151515"/>
<circle cx="202.07" cy="340.87" r="0.55" fill="#333" stroke="none"/>
<circle cx="199.93" cy="340.33" r="1.45" stroke-width="1.15" fill="#fff" stroke="#151515"/>
<circle cx="200.63" cy="338.23" r="0.55" fill="#333" stroke="none"/>
<circle cx="198.52" cy="337.57" r="1.45" stroke-width="1.15" fill="#fff" stroke="#151515"/>
<circle cx="199.34" cy="335.51" r="0.55" fill="#333" stroke="none"/>
<circle cx="197.27" cy="334.74" r="1.45" stroke-width="1.15" fill="#fff" stroke="#151515"/>
<circle cx="198.2" cy="332.73" r="0.55" fill="#333" stroke="none"/>
<circle cx="196.17" cy="331.84" r="1.45" stroke-width="1.15" fill="#fff" stroke="#151515"/>
<circle cx="197.21" cy="329.89" r="0.55" fill="#333" stroke="none"/>
<circle cx="195.24" cy="328.89" r="1.45" stroke-width="1.15" fill="#fff" stroke="#151515"/>
<circle cx="196.38" cy="327" r="0.55" fill="#333" stroke="none"/>
<circle cx="194.47" cy="325.89" r="1.45" stroke-width="1.15" fill="#fff" stroke="#151515"/>
<circle cx="195.72" cy="324.06" r="0.55" fill="#333" stroke="none"/>
<circle cx="193.87" cy="322.85" r="1.45" stroke-width="1.15" fill="#fff" stroke="#151515"/>
<circle cx="195.22" cy="321.1" r="0.55" fill="#333" stroke="none"/>
<circle cx="193.44" cy="319.78" r="1.45" stroke-width="1.15" fill="#fff" stroke="#151515"/>
<circle cx="194.89" cy="318.11" r="0.55" fill="#333" stroke="none"/>
<circle cx="193.19" cy="316.7" r="1.45" stroke-width="1.15" fill="#fff" stroke="#151515"/>
<circle cx="194.72" cy="315.1" r="0.55" fill="#333" stroke="none"/>
<circle cx="193.1" cy="313.6" r="1.45" stroke-width="1.15" fill="#fff" stroke="#151515"/>
<circle cx="194.72" cy="312.1" r="0.55" fill="#333" stroke="none"/>
<circle cx="193.19" cy="310.5" r="1.45" stroke-width="1.15" fill="#fff" stroke="#151515"/>
<circle cx="194.89" cy="309.09" r="0.55" fill="#333" stroke="none"/>
<circle cx="193.44" cy="307.42" r="1.45" stroke-width="1.15" fill="#fff" stroke="#151515"/>
<circle cx="195.22" cy="306.1" r="0.55" fill="#333" stroke="none"/>
<circle cx="193.87" cy="304.35" r="1.45" stroke-width="1.15" fill="#fff" stroke="#151515"/>
<circle cx="195.72" cy="303.14" r="0.55" fill="#333" stroke="none"/>
<circle cx="194.47" cy="301.31" r="1.45" stroke-width="1.15" fill="#fff" stroke="#151515"/>
<circle cx="196.38" cy="300.2" r="0.55" fill="#333" stroke="none"/>
<circle cx="195.24" cy="298.31" r="1.45" stroke-width="1.15" fill="#fff" stroke="#151515"/>
<circle cx="197.21" cy="297.31" r="0.55" fill="#333" stroke="none"/>
<circle cx="196.17" cy="295.36" r="1.45" stroke-width="1.15" fill="#fff" stroke="#151515"/>
<circle cx="198.2" cy="294.47" r="0.55" fill="#333" stroke="none"/>
<circle cx="197.27" cy="292.46" r="1.45" stroke-width="1.15" fill="#fff" stroke="#151515"/>
<circle cx="199.34" cy="291.69" r="0.55" fill="#333" stroke="none"/>
<circle cx="198.52" cy="289.63" r="1.45" stroke-width="1.15" fill="#fff" stroke="#151515"/>
<circle cx="200.63" cy="288.97" r="0.55" fill="#333" stroke="none"/>
<circle cx="199.93" cy="286.87" r="1.45" stroke-width="1.15" fill="#fff" stroke="#151515"/>
<circle cx="202.07" cy="286.33" r="0.55" fill="#333" stroke="none"/>
<circle cx="201.49" cy="284.2" r="1.45" stroke-width="1.15" fill="#fff" stroke="#151515"/>
<circle cx="203.66" cy="283.78" r="0.55" fill="#333" stroke="none"/>
<circle cx="203.2" cy="281.62" r="1.45" stroke-width="1.15" fill="#fff" stroke="#151515"/>
<circle cx="205.39" cy="281.32" r="0.55" fill="#333" stroke="none"/>
<circle cx="205.05" cy="279.13" r="1.45" stroke-width="1.15" fill="#fff" stroke="#151515"/>
<circle cx="207.25" cy="278.95" r="0.55" fill="#333" stroke="none"/>
<circle cx="207.03" cy="276.75" r="1.45" stroke-width="1.15" fill="#fff" stroke="#151515"/>
<circle cx="209.24" cy="276.7" r="0.55" fill="#333" stroke="none"/>
<circle cx="209.14" cy="274.49" r="1.45" stroke-width="1.15" fill="#fff" stroke="#151515"/>
<circle cx="211.35" cy="274.56" r="0.55" fill="#333" stroke="none"/>
<circle cx="211.38" cy="272.35" r="1.45" stroke-width="1.15" fill="#fff" stroke="#151515"/>
<circle cx="213.58" cy="272.54" r="0.55" fill="#333" stroke="none"/>
<circle cx="213.73" cy="270.33" r="1.45" stroke-width="1.15" fill="#fff" stroke="#151515"/>
<circle cx="215.92" cy="270.64" r="0.55" fill="#333" stroke="none"/>
<circle cx="216.19" cy="268.45" r="1.45" stroke-width="1.15" fill="#fff" stroke="#151515"/>
<circle cx="218.35" cy="268.88" r="0.55" fill="#333" stroke="none"/>
<circle cx="218.75" cy="266.7" r="1.45" stroke-width="1.15" fill="#fff" stroke="#151515"/>
<circle cx="220.89" cy="267.26" r="0.55" fill="#333" stroke="none"/>
<circle cx="221.4" cy="265.11" r="1.45" stroke-width="1.15" fill="#fff" stroke="#151515"/>
<circle cx="223.5" cy="265.78" r="0.55" fill="#333" stroke="none"/>
<circle cx="224.14" cy="263.66" r="1.45" stroke-width="1.15" fill="#fff" stroke="#151515"/>
<circle cx="226.2" cy="264.45" r="0.55" fill="#333" stroke="none"/>
<circle cx="226.95" cy="262.36" r="1.45" stroke-width="1.15" fill="#fff" stroke="#151515"/>
<circle cx="228.97" cy="263.27" r="0.55" fill="#333" stroke="none"/>
<circle cx="229.83" cy="261.23" r="1.45" stroke-width="1.15" fill="#fff" stroke="#151515"/>
<circle cx="231.8" cy="262.24" r="0.55" fill="#333" stroke="none"/>
<circle cx="232.77" cy="260.26" r="1.45" stroke-width="1.15" fill="#fff" stroke="#151515"/>
<circle cx="234.68" cy="261.38" r="0.55" fill="#333" stroke="none"/>
<circle cx="235.76" cy="259.45" r="1.45" stroke-width="1.15" fill="#fff" stroke="#151515"/>
<circle cx="237.6" cy="260.67" r="0.55" fill="#333" stroke="none"/>
<circle cx="238.79" cy="258.81" r="1.45" stroke-width="1.15" fill="#fff" stroke="#151515"/>
<circle cx="240.56" cy="260.13" r="0.55" fill="#333" stroke="none"/>
<circle cx="241.85" cy="258.34" r="1.45" stroke-width="1.15" fill="#fff" stroke="#151515"/>
<circle cx="243.54" cy="259.76" r="0.55" fill="#333" stroke="none"/>
<circle cx="244.93" cy="258.03" r="1.45" stroke-width="1.15" fill="#fff" stroke="#151515"/>
<circle cx="246.54" cy="259.55" r="0.55" fill="#333" stroke="none"/>
<circle cx="248.03" cy="257.91" r="1.45" stroke-width="1.15" fill="#fff" stroke="#151515"/>
<circle cx="249.55" cy="259.51" r="0.55" fill="#333" stroke="none"/>
<circle cx="251.12" cy="257.95" r="1.45" stroke-width="1.15" fill="#fff" stroke="#151515"/>
<circle cx="252.56" cy="259.63" r="0.55" fill="#333" stroke="none"/>
<circle cx="254.21" cy="258.16" r="1.45" stroke-width="1.15" fill="#fff" stroke="#151515"/>
<circle cx="255.55" cy="259.92" r="0.55" fill="#333" stroke="none"/>
<circle cx="257.28" cy="258.55" r="1.45" stroke-width="1.15" fill="#fff" stroke="#151515"/>
<circle cx="258.52" cy="260.38" r="0.55" fill="#333" stroke="none"/>
<circle cx="260.33" cy="259.11" r="1.45" stroke-width="1.15" fill="#fff" stroke="#151515"/>
<circle cx="261.47" cy="261" r="0.55" fill="#333" stroke="none"/>
<circle cx="263.34" cy="259.83" r="1.45" stroke-width="1.15" fill="#fff" stroke="#151515"/>
<circle cx="264.37" cy="261.79" r="0.55" fill="#333" stroke="none"/>
<circle cx="266.31" cy="260.72" r="1.45" stroke-width="1.15" fill="#fff" stroke="#151515"/>
<circle cx="267.22" cy="262.73" r="0.55" fill="#333" stroke="none"/>
<circle cx="269.22" cy="261.78" r="1.45" stroke-width="1.15" fill="#fff" stroke="#151515"/>
<circle cx="270.02" cy="263.84" r="0.55" fill="#333" stroke="none"/>
<circle cx="272.07" cy="262.99" r="1.45" stroke-width="1.15" fill="#fff" stroke="#151515"/>
<circle cx="272.76" cy="265.09" r="0.55" fill="#333" stroke="none"/>
<circle cx="274.84" cy="264.36" r="1.45" stroke-width="1.15" fill="#fff" stroke="#151515"/>
<circle cx="275.41" cy="266.5" r="0.55" fill="#333" stroke="none"/>
<circle cx="277.54" cy="265.89" r="1.45" stroke-width="1.15" fill="#fff" stroke="#151515"/>
<circle cx="277.99" cy="268.05" r="0.55" fill="#333" stroke="none"/>
<circle cx="280.15" cy="267.56" r="1.45" stroke-width="1.15" fill="#fff" stroke="#151515"/>
<circle cx="280.48" cy="269.74" r="0.55" fill="#333" stroke="none"/>
<circle cx="282.66" cy="269.37" r="1.45" stroke-width="1.15" fill="#fff" stroke="#151515"/>
<circle cx="282.87" cy="271.57" r="0.55" fill="#333" stroke="none"/>
<circle cx="285.06" cy="271.32" r="1.45" stroke-width="1.15" fill="#fff" stroke="#151515"/>
<circle cx="285.15" cy="273.53" r="0.55" fill="#333" stroke="none"/>
<circle cx="287.36" cy="273.4" r="1.45" stroke-width="1.15" fill="#fff" stroke="#151515"/>
<circle cx="287.32" cy="275.61" r="0.55" fill="#333" stroke="none"/>
<circle cx="289.53" cy="275.61" r="1.45" stroke-width="1.15" fill="#fff" stroke="#151515"/>
<circle cx="289.37" cy="277.81" r="0.55" fill="#333" stroke="none"/>
<circle cx="291.58" cy="277.93" r="1.45" stroke-width="1.15" fill="#fff" stroke="#151515"/>
<circle cx="291.3" cy="280.12" r="0.55" fill="#333" stroke="none"/>
<circle cx="293.5" cy="280.36" r="1.45" stroke-width="1.15" fill="#fff" stroke="#151515"/>
<circle cx="293.09" cy="282.54" r="0.55" fill="#333" stroke="none"/>
<circle cx="295.27" cy="282.9" r="1.45" stroke-width="1.15" fill="#fff" stroke="#151515"/>
<circle cx="294.75" cy="285.04" r="0.55" fill="#333" stroke="none"/>
<circle cx="296.91" cy="285.53" r="1.45" stroke-width="1.15" fill="#fff" stroke="#151515"/>
<circle cx="296.27" cy="287.64" r="0.55" fill="#333" stroke="none"/>
<circle cx="298.39" cy="288.24" r="1.45" stroke-width="1.15" fill="#fff" stroke="#151515"/>
<circle cx="297.64" cy="290.32" r="0.55" fill="#333" stroke="none"/>
<circle cx="299.73" cy="291.04" r="1.45" stroke-width="1.15" fill="#fff" stroke="#151515"/>
<circle cx="298.85" cy="293.07" r="0.55" fill="#333" stroke="none"/>
<circle cx="300.9" cy="293.9" r="1.45" stroke-width="1.15" fill="#fff" stroke="#151515"/>
<circle cx="299.92" cy="295.88" r="0.55" fill="#333" stroke="none"/>
<circle cx="301.92" cy="296.83" r="1.45" stroke-width="1.15" fill="#fff" stroke="#151515"/>
<circle cx="300.82" cy="298.75" r="0.55" fill="#333" stroke="none"/>
<circle cx="302.77" cy="299.81" r="1.45" stroke-width="1.15" fill="#fff" stroke="#151515"/>
<circle cx="248.8" cy="313.6" r="15.3" stroke-width="0.7"/>
<circle cx="239.4" cy="301.3" r="4.1" fill="#fff" stroke="none"/>
<circle cx="239.4" cy="301.3" r="4.1" stroke-width="1.3" stroke="#222"/>
<circle cx="239.4" cy="301.3" r="2.4" stroke-width="0.9"/>
<circle cx="258" cy="301.3" r="4.1" fill="#fff" stroke="none"/>
<circle cx="258" cy="301.3" r="4.1" stroke-width="1.3" stroke="#222"/>
<circle cx="258" cy="301.3" r="2.4" stroke-width="0.9"/>
<circle cx="234" cy="317.8" r="4.1" fill="#fff" stroke="none"/>
<circle cx="234" cy="317.8" r="4.1" stroke-width="1.3" stroke="#222"/>
<circle cx="234" cy="317.8" r="2.4" stroke-width="0.9"/>
<circle cx="263" cy="317.8" r="4.1" fill="#fff" stroke="none"/>
<circle cx="263" cy="317.8" r="4.1" stroke-width="1.3" stroke="#222"/>
<circle cx="263" cy="317.8" r="2.4" stroke-width="0.9"/>
<circle cx="248.8" cy="328.4" r="4.1" fill="#fff" stroke="none"/>
<circle cx="248.8" cy="328.4" r="4.1" stroke-width="1.3" stroke="#222"/>
<circle cx="248.8" cy="328.4" r="2.4" stroke-width="0.9"/>
<path d="M192 313.5 L244 313.5 M246 313.5 L252 313.5 M254 313.5 L300 313.5" stroke-width="0.8"/>
<path d="M248.5 203 L248.5 262 M248.5 264 L248.5 307 M248.5 309 L248.5 318" stroke-width="0.8"/>
<rect x="571.6" y="153.8" width="35.1" height="11.5" stroke-width="0.6" fill="#1c1c1c"/>
<line x1="573.3" y1="155.6" x2="605" y2="155.6" stroke="#9a9a9a" stroke-width="0.75"/>
<line x1="573.3" y1="157.55" x2="605" y2="157.55" stroke="#9a9a9a" stroke-width="0.75"/>
<line x1="573.3" y1="159.5" x2="605" y2="159.5" stroke="#9a9a9a" stroke-width="0.75"/>
<line x1="573.3" y1="161.45" x2="605" y2="161.45" stroke="#9a9a9a" stroke-width="0.75"/>
<line x1="573.3" y1="163.4" x2="605" y2="163.4" stroke="#9a9a9a" stroke-width="0.75"/>
<line x1="571.8" y1="171.5" x2="606.5" y2="171.5"/>
<line x1="571.8" y1="173" x2="606.5" y2="173"/>
<line x1="572.1" y1="177.3" x2="606.2" y2="177.3"/>
<line x1="572.1" y1="178.3" x2="606.2" y2="178.3"/>
<path d="M571.8 165.3 L571.8 178 Q570.2 187 571.8 195.5 L606.5 195.5 Q608.1 187 606.5 178 L606.5 165.3"/>
<line x1="572.3" y1="194.3" x2="606" y2="194.3" stroke-width="0.8"/>
<circle cx="589.15" cy="185.8" r="5.8" stroke-width="1.3"/>
<circle cx="589.15" cy="185.8" r="2.6"/>
<line x1="579.3" y1="195.5" x2="579.3" y2="225.8"/>
<line x1="598.9" y1="195.5" x2="598.9" y2="225.8"/>
<path d="M576.2 225.8 L601.8 225.8 L604.3 244.3 L573.8 244.3 Z"/>
<line x1="578" y1="226" x2="578" y2="244" stroke-width="0.7"/>
<line x1="600.5" y1="226" x2="600.5" y2="244" stroke-width="0.7"/>
<circle cx="589.5" cy="243" r="3" stroke-width="0.8"/>
<path d="M544.4 244.4 L545.5 242.3 L569.8 242.3 L570.9 244.4"/>
<rect x="526.3" y="244.4" width="125.4" height="15.8"/>
<line x1="526.3" y1="252.4" x2="651.7" y2="252.4"/>
<line x1="553.6" y1="244.4" x2="553.6" y2="260.2"/>
<line x1="624.7" y1="244.4" x2="624.7" y2="260.2"/>
<line x1="526.3" y1="260.2" x2="651.7" y2="260.2"/>
<line x1="526.3" y1="244" x2="526.3" y2="434.3" stroke-width="0.9"/>
<line x1="526.1" y1="370.4" x2="526.1" y2="407.3" stroke-width="1.6"/>
<line x1="651.7" y1="244" x2="651.7" y2="434.3"/>
<path d="M523.4 279.3 L523.4 347.7 L526.3 347.7" stroke-width="0.8"/>
<path d="M523.4 279.3 L526.3 279.3" stroke-width="0.8"/>
<path d="M526.3 284.9 L534.4 284.9 L534.4 260.2"/>
<line x1="526.3" y1="310.1" x2="534.4" y2="310.1"/>
<rect x="526.3" y="359.5" width="8.1" height="25.1"/>
<rect x="526.3" y="409.5" width="8.1" height="24.8"/>
<path d="M651.7 285 L643.7 285 L643.7 260.2" stroke-width="0.9"/>
<rect x="643.7" y="309.5" width="8" height="25.2"/>
<rect x="643.7" y="334.3" width="8" height="25.5"/>
<rect x="643.7" y="384.6" width="8" height="24.8"/>
<path d="M557.8 260.2 L557.8 268.2 L628.5 268.2 L628.5 260.2" stroke-width="0.9"/>
<circle cx="546" cy="263.9" r="1.7" stroke-width="0.8"/>
<circle cx="530.2" cy="297.6" r="1.7" stroke-width="0.8"/>
<circle cx="530.2" cy="347.3" r="1.7" stroke-width="0.8"/>
<circle cx="530.2" cy="396.7" r="1.7" stroke-width="0.8"/>
<circle cx="648.2" cy="371.8" r="1.7" stroke-width="0.8"/>
<circle cx="648.2" cy="427.1" r="1.7" stroke-width="0.8"/>
<circle cx="640.1" cy="263.9" r="1.7" stroke-width="0.8"/>
<circle cx="648.2" cy="321.7" r="1.7" stroke-width="0.8"/>
<rect x="500" y="434.3" width="180" height="4.2"/>
<line x1="526.3" y1="434.3" x2="526.3" y2="438.5" stroke-width="0.8"/>
<path d="M502.8 434.3 L502.8 426.5 L526.3 426.5"/>
<line x1="520.5" y1="426.5" x2="520.5" y2="434.3" stroke-width="0.8"/>
<rect x="551" y="426.5" width="17.1" height="7.8"/>
<rect x="584.4" y="426.5" width="17.1" height="7.8"/>
<rect x="618.4" y="426.5" width="17" height="7.8"/>
<path d="M651.7 426.5 L677.2 426.5 L677.2 434.3"/>
<line x1="659.5" y1="426.5" x2="659.5" y2="434.3" stroke-width="0.8"/>
<path d="M653.9 406.5 L653.9 256.8 Q653.9 255.8 655 255.8 L665.6 255.8 Q666.6 255.8 666.6 256.8 L666.6 406.5 Z" fill="#fff"/>
<line x1="666.6" y1="256.5" x2="666.6" y2="406.5" stroke-width="1.2"/>
<line x1="653.9" y1="366.6" x2="666.6" y2="366.6" stroke-width="0.8"/>
<circle cx="655.6" cy="258" r="1" stroke-width="0.7" fill="#222"/>
<circle cx="655.6" cy="261" r="1" stroke-width="0.7" fill="#222"/>
<circle cx="655.6" cy="264" r="1" stroke-width="0.7" fill="#222"/>
<circle cx="655.6" cy="267" r="1" stroke-width="0.7" fill="#222"/>
<circle cx="655.6" cy="270" r="1" stroke-width="0.7" fill="#222"/>
<circle cx="655.6" cy="273" r="1" stroke-width="0.7" fill="#222"/>
<circle cx="655.6" cy="276" r="1" stroke-width="0.7" fill="#222"/>
<circle cx="655.6" cy="279" r="1" stroke-width="0.7" fill="#222"/>
<circle cx="655.6" cy="282" r="1" stroke-width="0.7" fill="#222"/>
<circle cx="655.6" cy="285" r="1" stroke-width="0.7" fill="#222"/>
<circle cx="655.6" cy="288" r="1" stroke-width="0.7" fill="#222"/>
<circle cx="655.6" cy="291" r="1" stroke-width="0.7" fill="#222"/>
<circle cx="655.6" cy="294" r="1" stroke-width="0.7" fill="#222"/>
<circle cx="655.6" cy="297" r="1" stroke-width="0.7" fill="#222"/>
<circle cx="655.6" cy="300" r="1" stroke-width="0.7" fill="#222"/>
<circle cx="655.6" cy="303" r="1" stroke-width="0.7" fill="#222"/>
<circle cx="655.6" cy="306" r="1" stroke-width="0.7" fill="#222"/>
<circle cx="655.6" cy="309" r="1" stroke-width="0.7" fill="#222"/>
<circle cx="655.6" cy="312" r="1" stroke-width="0.7" fill="#222"/>
<circle cx="655.6" cy="315" r="1" stroke-width="0.7" fill="#222"/>
<circle cx="655.6" cy="318" r="1" stroke-width="0.7" fill="#222"/>
<circle cx="655.6" cy="321" r="1" stroke-width="0.7" fill="#222"/>
<circle cx="655.6" cy="324" r="1" stroke-width="0.7" fill="#222"/>
<circle cx="655.6" cy="327" r="1" stroke-width="0.7" fill="#222"/>
<circle cx="655.6" cy="330" r="1" stroke-width="0.7" fill="#222"/>
<circle cx="655.6" cy="333" r="1" stroke-width="0.7" fill="#222"/>
<circle cx="655.6" cy="336" r="1" stroke-width="0.7" fill="#222"/>
<circle cx="655.6" cy="339" r="1" stroke-width="0.7" fill="#222"/>
<circle cx="655.6" cy="342" r="1" stroke-width="0.7" fill="#222"/>
<circle cx="655.6" cy="345" r="1" stroke-width="0.7" fill="#222"/>
<circle cx="655.6" cy="348" r="1" stroke-width="0.7" fill="#222"/>
<circle cx="655.6" cy="351" r="1" stroke-width="0.7" fill="#222"/>
<circle cx="655.6" cy="354" r="1" stroke-width="0.7" fill="#222"/>
<circle cx="655.6" cy="357" r="1" stroke-width="0.7" fill="#222"/>
<circle cx="655.6" cy="360" r="1" stroke-width="0.7" fill="#222"/>
<circle cx="655.6" cy="363" r="1" stroke-width="0.7" fill="#222"/>
<circle cx="655.6" cy="366" r="1" stroke-width="0.7" fill="#222"/>
<circle cx="655.6" cy="369" r="1" stroke-width="0.7" fill="#222"/>
<circle cx="655.6" cy="372" r="1" stroke-width="0.7" fill="#222"/>
<circle cx="655.6" cy="375" r="1" stroke-width="0.7" fill="#222"/>
<circle cx="655.6" cy="378" r="1" stroke-width="0.7" fill="#222"/>
<circle cx="655.6" cy="381" r="1" stroke-width="0.7" fill="#222"/>
<circle cx="655.6" cy="384" r="1" stroke-width="0.7" fill="#222"/>
<circle cx="655.6" cy="387" r="1" stroke-width="0.7" fill="#222"/>
<circle cx="655.6" cy="390" r="1" stroke-width="0.7" fill="#222"/>
<circle cx="655.6" cy="393" r="1" stroke-width="0.7" fill="#222"/>
<circle cx="655.6" cy="396" r="1" stroke-width="0.7" fill="#222"/>
<circle cx="655.6" cy="399" r="1" stroke-width="0.7" fill="#222"/>
<circle cx="655.6" cy="402" r="1" stroke-width="0.7" fill="#222"/>
<circle cx="655.6" cy="405" r="1" stroke-width="0.7" fill="#222"/>
<line x1="657" y1="257" x2="657" y2="405" stroke-width="0.6"/>
<rect x="666.6" y="384.6" width="2.1" height="20.5" stroke-width="0.7"/>
<rect x="653.1" y="412.9" width="4.3" height="9.9" stroke-width="0.8"/>
<circle cx="534.5" cy="330" r="1.4" stroke-width="0.95" fill="#fff" stroke="#2a2a2a"/>
<circle cx="535.48" cy="332.94" r="1.4" stroke-width="0.95" fill="#fff" stroke="#2a2a2a"/>
<circle cx="536.46" cy="335.88" r="1.4" stroke-width="0.95" fill="#fff" stroke="#2a2a2a"/>
<circle cx="537.44" cy="338.82" r="1.4" stroke-width="0.95" fill="#fff" stroke="#2a2a2a"/>
<circle cx="538.42" cy="341.76" r="1.4" stroke-width="0.95" fill="#fff" stroke="#2a2a2a"/>
<circle cx="539.4" cy="344.7" r="1.4" stroke-width="0.95" fill="#fff" stroke="#2a2a2a"/>
<circle cx="540.38" cy="347.65" r="1.4" stroke-width="0.95" fill="#fff" stroke="#2a2a2a"/>
<circle cx="541.36" cy="350.59" r="1.4" stroke-width="0.95" fill="#fff" stroke="#2a2a2a"/>
<circle cx="542.34" cy="353.53" r="1.4" stroke-width="0.95" fill="#fff" stroke="#2a2a2a"/>
<circle cx="543.32" cy="356.47" r="1.4" stroke-width="0.95" fill="#fff" stroke="#2a2a2a"/>
<circle cx="544.3" cy="359.41" r="1.4" stroke-width="0.95" fill="#fff" stroke="#2a2a2a"/>
<circle cx="545.28" cy="362.35" r="1.4" stroke-width="0.95" fill="#fff" stroke="#2a2a2a"/>
<circle cx="546.26" cy="365.29" r="1.4" stroke-width="0.95" fill="#fff" stroke="#2a2a2a"/>
<circle cx="547.24" cy="368.23" r="1.4" stroke-width="0.95" fill="#fff" stroke="#2a2a2a"/>
<circle cx="548.22" cy="371.17" r="1.4" stroke-width="0.95" fill="#fff" stroke="#2a2a2a"/>
<circle cx="549.2" cy="374.11" r="1.4" stroke-width="0.95" fill="#fff" stroke="#2a2a2a"/>
<circle cx="550.18" cy="377.05" r="1.4" stroke-width="0.95" fill="#fff" stroke="#2a2a2a"/>
<circle cx="551.17" cy="380" r="1.4" stroke-width="0.95" fill="#fff" stroke="#2a2a2a"/>
<circle cx="552.15" cy="382.94" r="1.4" stroke-width="0.95" fill="#fff" stroke="#2a2a2a"/>
<circle cx="553.13" cy="385.88" r="1.4" stroke-width="0.95" fill="#fff" stroke="#2a2a2a"/>
<circle cx="554.11" cy="388.82" r="1.4" stroke-width="0.95" fill="#fff" stroke="#2a2a2a"/>
<circle cx="555.09" cy="391.76" r="1.4" stroke-width="0.95" fill="#fff" stroke="#2a2a2a"/>
<circle cx="556.07" cy="394.7" r="1.4" stroke-width="0.95" fill="#fff" stroke="#2a2a2a"/>
<circle cx="557.05" cy="397.64" r="1.4" stroke-width="0.95" fill="#fff" stroke="#2a2a2a"/>
<circle cx="578.5" cy="405" r="1.4" stroke-width="0.95" fill="#fff" stroke="#2a2a2a"/>
<circle cx="580.47" cy="402.6" r="1.4" stroke-width="0.95" fill="#fff" stroke="#2a2a2a"/>
<circle cx="582.43" cy="400.21" r="1.4" stroke-width="0.95" fill="#fff" stroke="#2a2a2a"/>
<circle cx="584.4" cy="397.81" r="1.4" stroke-width="0.95" fill="#fff" stroke="#2a2a2a"/>
<circle cx="586.37" cy="395.42" r="1.4" stroke-width="0.95" fill="#fff" stroke="#2a2a2a"/>
<circle cx="588.33" cy="393.02" r="1.4" stroke-width="0.95" fill="#fff" stroke="#2a2a2a"/>
<circle cx="590.3" cy="390.62" r="1.4" stroke-width="0.95" fill="#fff" stroke="#2a2a2a"/>
<circle cx="592.27" cy="388.23" r="1.4" stroke-width="0.95" fill="#fff" stroke="#2a2a2a"/>
<circle cx="594.23" cy="385.83" r="1.4" stroke-width="0.95" fill="#fff" stroke="#2a2a2a"/>
<circle cx="596.2" cy="383.43" r="1.4" stroke-width="0.95" fill="#fff" stroke="#2a2a2a"/>
<circle cx="598.17" cy="381.04" r="1.4" stroke-width="0.95" fill="#fff" stroke="#2a2a2a"/>
<circle cx="600.13" cy="378.64" r="1.4" stroke-width="0.95" fill="#fff" stroke="#2a2a2a"/>
<circle cx="602.1" cy="376.25" r="1.4" stroke-width="0.95" fill="#fff" stroke="#2a2a2a"/>
<circle cx="604.07" cy="373.85" r="1.4" stroke-width="0.95" fill="#fff" stroke="#2a2a2a"/>
<circle cx="606.03" cy="371.45" r="1.4" stroke-width="0.95" fill="#fff" stroke="#2a2a2a"/>
<circle cx="608" cy="369.06" r="1.4" stroke-width="0.95" fill="#fff" stroke="#2a2a2a"/>
<circle cx="609.97" cy="366.66" r="1.4" stroke-width="0.95" fill="#fff" stroke="#2a2a2a"/>
<circle cx="611.93" cy="364.26" r="1.4" stroke-width="0.95" fill="#fff" stroke="#2a2a2a"/>
<circle cx="613.9" cy="361.87" r="1.4" stroke-width="0.95" fill="#fff" stroke="#2a2a2a"/>
<circle cx="615.87" cy="359.47" r="1.4" stroke-width="0.95" fill="#fff" stroke="#2a2a2a"/>
<circle cx="617.83" cy="357.08" r="1.4" stroke-width="0.95" fill="#fff" stroke="#2a2a2a"/>
<circle cx="619.8" cy="354.68" r="1.4" stroke-width="0.95" fill="#fff" stroke="#2a2a2a"/>
<circle cx="621.77" cy="352.28" r="1.4" stroke-width="0.95" fill="#fff" stroke="#2a2a2a"/>
<circle cx="567.6" cy="397.8" r="8.6" stroke-width="1.2" fill="#fff"/>
<circle cx="567.6" cy="397.8" r="3.4" stroke-width="1.4"/>
<circle cx="576.1" cy="404.93" r="1.4" stroke-width="0.95" fill="#fff" stroke="#2a2a2a"/>
<circle cx="573.81" cy="407" r="1.4" stroke-width="0.95" fill="#fff" stroke="#2a2a2a"/>
<circle cx="571.03" cy="408.36" r="1.4" stroke-width="0.95" fill="#fff" stroke="#2a2a2a"/>
<circle cx="567.99" cy="408.89" r="1.4" stroke-width="0.95" fill="#fff" stroke="#2a2a2a"/>
<circle cx="564.91" cy="408.57" r="1.4" stroke-width="0.95" fill="#fff" stroke="#2a2a2a"/>
<circle cx="562.05" cy="407.41" r="1.4" stroke-width="0.95" fill="#fff" stroke="#2a2a2a"/>
<circle cx="559.62" cy="405.51" r="1.4" stroke-width="0.95" fill="#fff" stroke="#2a2a2a"/>
<circle cx="557.8" cy="403.01" r="1.4" stroke-width="0.95" fill="#fff" stroke="#2a2a2a"/>
<circle cx="556.74" cy="400.11" r="1.4" stroke-width="0.95" fill="#fff" stroke="#2a2a2a"/>
<circle cx="588.8" cy="312" r="56.4" fill="#fff" stroke="none"/>
<path d="M642.4 312 L645.05 314.27 L642.23 316.31 L644.69 318.79 L641.71 320.6 L643.96 323.26 L640.84 324.83 L642.88 327.66 L639.64 328.97 L641.44 331.96 L638.11 333.01 L639.66 336.14 L636.26 336.91" stroke-width="1.15" stroke="#1a1a1a"/>
<path d="M614.96 361.85 L611.78 360.42 L610.87 363.79 L607.81 362.12 L606.63 365.4 L603.71 363.48 L602.27 366.66 L599.52 364.52 L597.83 367.57 L595.26 365.21 L593.33 368.12 L590.96 365.56 L588.8 368.3 L586.64 365.56 L584.27 368.12 L582.34 365.21 L579.77 367.57 L578.08 364.52 L575.33 366.66 L573.89 363.48 L570.97 365.4 L569.79 362.12 L566.73 363.79 L565.82 360.42 L562.64 361.85 L562 358.42 L558.71 359.58 L558.35 356.11 L554.98 357.01 L554.9 353.52 L551.47 354.14 L551.67 350.66 L548.2 351 L548.68 347.54 L545.19 347.61 L545.95 344.2 L542.47 343.98 L543.5 340.65 L540.04 340.15" stroke-width="1.15" stroke="#1a1a1a"/>
<path d="M618.89 264.42 L619.25 267.89 L622.62 266.99 L622.7 270.48 L626.13 269.86 L625.93 273.34 L629.4 273 L628.92 276.46 L632.41 276.39 L631.65 279.8 L635.13 280.02 L634.1 283.35 L637.56 283.85 L636.26 287.09 L639.66 287.86 L638.11 290.99 L641.44 292.04 L639.64 295.03 L642.88 296.34 L640.84 299.17 L643.96 300.74 L641.71 303.4 L644.69 305.21 L642.23 307.69 L645.05 309.73 L642.4 312" stroke-width="1.15" stroke="#1a1a1a"/>
<circle cx="636.91" cy="340.07" r="1.45" stroke-width="1.15" fill="#fff" stroke="#151515"/>
<circle cx="634.75" cy="340.56" r="0.55" fill="#333" stroke="none"/>
<circle cx="635.27" cy="342.7" r="1.45" stroke-width="1.15" fill="#fff" stroke="#151515"/>
<circle cx="633.09" cy="343.06" r="0.55" fill="#333" stroke="none"/>
<circle cx="633.5" cy="345.24" r="1.45" stroke-width="1.15" fill="#fff" stroke="#151515"/>
<circle cx="631.3" cy="345.48" r="0.55" fill="#333" stroke="none"/>
<circle cx="631.58" cy="347.67" r="1.45" stroke-width="1.15" fill="#fff" stroke="#151515"/>
<circle cx="629.37" cy="347.79" r="0.55" fill="#333" stroke="none"/>
<circle cx="629.53" cy="349.99" r="1.45" stroke-width="1.15" fill="#fff" stroke="#151515"/>
<circle cx="627.32" cy="349.99" r="0.55" fill="#333" stroke="none"/>
<circle cx="627.36" cy="352.2" r="1.45" stroke-width="1.15" fill="#fff" stroke="#151515"/>
<circle cx="625.15" cy="352.07" r="0.55" fill="#333" stroke="none"/>
<circle cx="625.06" cy="354.28" r="1.45" stroke-width="1.15" fill="#fff" stroke="#151515"/>
<circle cx="622.87" cy="354.03" r="0.55" fill="#333" stroke="none"/>
<circle cx="622.66" cy="356.23" r="1.45" stroke-width="1.15" fill="#fff" stroke="#151515"/>
<circle cx="620.48" cy="355.86" r="0.55" fill="#333" stroke="none"/>
<circle cx="620.15" cy="358.04" r="1.45" stroke-width="1.15" fill="#fff" stroke="#151515"/>
<circle cx="617.99" cy="357.55" r="0.55" fill="#333" stroke="none"/>
<circle cx="617.54" cy="359.71" r="1.45" stroke-width="1.15" fill="#fff" stroke="#151515"/>
<circle cx="615.41" cy="359.1" r="0.55" fill="#333" stroke="none"/>
<circle cx="539.93" cy="338.73" r="1.45" stroke-width="1.15" fill="#fff" stroke="#151515"/>
<circle cx="540.63" cy="336.63" r="0.55" fill="#333" stroke="none"/>
<circle cx="538.52" cy="335.97" r="1.45" stroke-width="1.15" fill="#fff" stroke="#151515"/>
<circle cx="539.34" cy="333.91" r="0.55" fill="#333" stroke="none"/>
<circle cx="537.27" cy="333.14" r="1.45" stroke-width="1.15" fill="#fff" stroke="#151515"/>
<circle cx="538.2" cy="331.13" r="0.55" fill="#333" stroke="none"/>
<circle cx="536.17" cy="330.24" r="1.45" stroke-width="1.15" fill="#fff" stroke="#151515"/>
<circle cx="537.21" cy="328.29" r="0.55" fill="#333" stroke="none"/>
<circle cx="535.24" cy="327.29" r="1.45" stroke-width="1.15" fill="#fff" stroke="#151515"/>
<circle cx="536.38" cy="325.4" r="0.55" fill="#333" stroke="none"/>
<circle cx="534.47" cy="324.29" r="1.45" stroke-width="1.15" fill="#fff" stroke="#151515"/>
<circle cx="535.72" cy="322.46" r="0.55" fill="#333" stroke="none"/>
<circle cx="533.87" cy="321.25" r="1.45" stroke-width="1.15" fill="#fff" stroke="#151515"/>
<circle cx="535.22" cy="319.5" r="0.55" fill="#333" stroke="none"/>
<circle cx="533.44" cy="318.18" r="1.45" stroke-width="1.15" fill="#fff" stroke="#151515"/>
<circle cx="534.89" cy="316.51" r="0.55" fill="#333" stroke="none"/>
<circle cx="533.19" cy="315.1" r="1.45" stroke-width="1.15" fill="#fff" stroke="#151515"/>
<circle cx="534.72" cy="313.5" r="0.55" fill="#333" stroke="none"/>
<circle cx="533.1" cy="312" r="1.45" stroke-width="1.15" fill="#fff" stroke="#151515"/>
<circle cx="534.72" cy="310.5" r="0.55" fill="#333" stroke="none"/>
<circle cx="533.19" cy="308.9" r="1.45" stroke-width="1.15" fill="#fff" stroke="#151515"/>
<circle cx="534.89" cy="307.49" r="0.55" fill="#333" stroke="none"/>
<circle cx="533.44" cy="305.82" r="1.45" stroke-width="1.15" fill="#fff" stroke="#151515"/>
<circle cx="535.22" cy="304.5" r="0.55" fill="#333" stroke="none"/>
<circle cx="533.87" cy="302.75" r="1.45" stroke-width="1.15" fill="#fff" stroke="#151515"/>
<circle cx="535.72" cy="301.54" r="0.55" fill="#333" stroke="none"/>
<circle cx="534.47" cy="299.71" r="1.45" stroke-width="1.15" fill="#fff" stroke="#151515"/>
<circle cx="536.38" cy="298.6" r="0.55" fill="#333" stroke="none"/>
<circle cx="535.24" cy="296.71" r="1.45" stroke-width="1.15" fill="#fff" stroke="#151515"/>
<circle cx="537.21" cy="295.71" r="0.55" fill="#333" stroke="none"/>
<circle cx="536.17" cy="293.76" r="1.45" stroke-width="1.15" fill="#fff" stroke="#151515"/>
<circle cx="538.2" cy="292.87" r="0.55" fill="#333" stroke="none"/>
<circle cx="537.27" cy="290.86" r="1.45" stroke-width="1.15" fill="#fff" stroke="#151515"/>
<circle cx="539.34" cy="290.09" r="0.55" fill="#333" stroke="none"/>
<circle cx="538.52" cy="288.03" r="1.45" stroke-width="1.15" fill="#fff" stroke="#151515"/>
<circle cx="540.63" cy="287.37" r="0.55" fill="#333" stroke="none"/>
<circle cx="539.93" cy="285.27" r="1.45" stroke-width="1.15" fill="#fff" stroke="#151515"/>
<circle cx="542.07" cy="284.73" r="0.55" fill="#333" stroke="none"/>
<circle cx="541.49" cy="282.6" r="1.45" stroke-width="1.15" fill="#fff" stroke="#151515"/>
<circle cx="543.66" cy="282.18" r="0.55" fill="#333" stroke="none"/>
<circle cx="543.2" cy="280.02" r="1.45" stroke-width="1.15" fill="#fff" stroke="#151515"/>
<circle cx="545.39" cy="279.72" r="0.55" fill="#333" stroke="none"/>
<circle cx="545.05" cy="277.53" r="1.45" stroke-width="1.15" fill="#fff" stroke="#151515"/>
<circle cx="547.25" cy="277.35" r="0.55" fill="#333" stroke="none"/>
<circle cx="547.03" cy="275.15" r="1.45" stroke-width="1.15" fill="#fff" stroke="#151515"/>
<circle cx="549.24" cy="275.1" r="0.55" fill="#333" stroke="none"/>
<circle cx="549.14" cy="272.89" r="1.45" stroke-width="1.15" fill="#fff" stroke="#151515"/>
<circle cx="551.35" cy="272.96" r="0.55" fill="#333" stroke="none"/>
<circle cx="551.38" cy="270.75" r="1.45" stroke-width="1.15" fill="#fff" stroke="#151515"/>
<circle cx="553.58" cy="270.94" r="0.55" fill="#333" stroke="none"/>
<circle cx="553.73" cy="268.73" r="1.45" stroke-width="1.15" fill="#fff" stroke="#151515"/>
<circle cx="555.92" cy="269.04" r="0.55" fill="#333" stroke="none"/>
<circle cx="556.19" cy="266.85" r="1.45" stroke-width="1.15" fill="#fff" stroke="#151515"/>
<circle cx="558.35" cy="267.28" r="0.55" fill="#333" stroke="none"/>
<circle cx="558.75" cy="265.1" r="1.45" stroke-width="1.15" fill="#fff" stroke="#151515"/>
<circle cx="560.89" cy="265.66" r="0.55" fill="#333" stroke="none"/>
<circle cx="561.4" cy="263.51" r="1.45" stroke-width="1.15" fill="#fff" stroke="#151515"/>
<circle cx="563.5" cy="264.18" r="0.55" fill="#333" stroke="none"/>
<circle cx="564.14" cy="262.06" r="1.45" stroke-width="1.15" fill="#fff" stroke="#151515"/>
<circle cx="566.2" cy="262.85" r="0.55" fill="#333" stroke="none"/>
<circle cx="566.95" cy="260.76" r="1.45" stroke-width="1.15" fill="#fff" stroke="#151515"/>
<circle cx="568.97" cy="261.67" r="0.55" fill="#333" stroke="none"/>
<circle cx="569.83" cy="259.63" r="1.45" stroke-width="1.15" fill="#fff" stroke="#151515"/>
<circle cx="571.8" cy="260.64" r="0.55" fill="#333" stroke="none"/>
<circle cx="572.77" cy="258.66" r="1.45" stroke-width="1.15" fill="#fff" stroke="#151515"/>
<circle cx="574.68" cy="259.78" r="0.55" fill="#333" stroke="none"/>
<circle cx="575.76" cy="257.85" r="1.45" stroke-width="1.15" fill="#fff" stroke="#151515"/>
<circle cx="577.6" cy="259.07" r="0.55" fill="#333" stroke="none"/>
<circle cx="578.79" cy="257.21" r="1.45" stroke-width="1.15" fill="#fff" stroke="#151515"/>
<circle cx="580.56" cy="258.53" r="0.55" fill="#333" stroke="none"/>
<circle cx="581.85" cy="256.74" r="1.45" stroke-width="1.15" fill="#fff" stroke="#151515"/>
<circle cx="583.54" cy="258.16" r="0.55" fill="#333" stroke="none"/>
<circle cx="584.93" cy="256.43" r="1.45" stroke-width="1.15" fill="#fff" stroke="#151515"/>
<circle cx="586.54" cy="257.95" r="0.55" fill="#333" stroke="none"/>
<circle cx="588.03" cy="256.31" r="1.45" stroke-width="1.15" fill="#fff" stroke="#151515"/>
<circle cx="589.55" cy="257.91" r="0.55" fill="#333" stroke="none"/>
<circle cx="591.12" cy="256.35" r="1.45" stroke-width="1.15" fill="#fff" stroke="#151515"/>
<circle cx="592.56" cy="258.03" r="0.55" fill="#333" stroke="none"/>
<circle cx="594.21" cy="256.56" r="1.45" stroke-width="1.15" fill="#fff" stroke="#151515"/>
<circle cx="595.55" cy="258.32" r="0.55" fill="#333" stroke="none"/>
<circle cx="597.28" cy="256.95" r="1.45" stroke-width="1.15" fill="#fff" stroke="#151515"/>
<circle cx="598.52" cy="258.78" r="0.55" fill="#333" stroke="none"/>
<circle cx="600.33" cy="257.51" r="1.45" stroke-width="1.15" fill="#fff" stroke="#151515"/>
<circle cx="601.47" cy="259.4" r="0.55" fill="#333" stroke="none"/>
<circle cx="603.34" cy="258.23" r="1.45" stroke-width="1.15" fill="#fff" stroke="#151515"/>
<circle cx="604.37" cy="260.19" r="0.55" fill="#333" stroke="none"/>
<circle cx="606.31" cy="259.12" r="1.45" stroke-width="1.15" fill="#fff" stroke="#151515"/>
<circle cx="607.22" cy="261.13" r="0.55" fill="#333" stroke="none"/>
<circle cx="609.22" cy="260.18" r="1.45" stroke-width="1.15" fill="#fff" stroke="#151515"/>
<circle cx="610.02" cy="262.24" r="0.55" fill="#333" stroke="none"/>
<circle cx="612.07" cy="261.39" r="1.45" stroke-width="1.15" fill="#fff" stroke="#151515"/>
<circle cx="612.76" cy="263.49" r="0.55" fill="#333" stroke="none"/>
<circle cx="614.84" cy="262.76" r="1.45" stroke-width="1.15" fill="#fff" stroke="#151515"/>
<circle cx="615.41" cy="264.9" r="0.55" fill="#333" stroke="none"/>
<circle cx="589" cy="298.6" r="4" stroke-width="1.3" stroke="#222"/>
<circle cx="589" cy="298.6" r="2.3" stroke-width="0.9"/>
<circle cx="575" cy="308.6" r="4" stroke-width="1.3" stroke="#222"/>
<circle cx="575" cy="308.6" r="2.3" stroke-width="0.9"/>
<circle cx="603.2" cy="308.6" r="4" stroke-width="1.3" stroke="#222"/>
<circle cx="603.2" cy="308.6" r="2.3" stroke-width="0.9"/>
<circle cx="580.3" cy="325.4" r="4" stroke-width="1.3" stroke="#222"/>
<circle cx="580.3" cy="325.4" r="2.3" stroke-width="0.9"/>
<circle cx="597.6" cy="325.4" r="4" stroke-width="1.3" stroke="#222"/>
<circle cx="597.6" cy="325.4" r="2.3" stroke-width="0.9"/>
<circle cx="544.7" cy="374.7" r="4.5" stroke-width="1.6" stroke="#1a1a1a"/>
<circle cx="544.7" cy="374.7" r="2.4" stroke-width="1"/>
<circle cx="590.3" cy="374.7" r="4.5" stroke-width="1.6" stroke="#1a1a1a"/>
<circle cx="590.3" cy="374.7" r="2.4" stroke-width="1"/>
<circle cx="544.7" cy="420.4" r="4.5" stroke-width="1.6" stroke="#1a1a1a"/>
<circle cx="544.7" cy="420.4" r="2.4" stroke-width="1"/>
<circle cx="590.3" cy="420.4" r="4.5" stroke-width="1.6" stroke="#1a1a1a"/>
<circle cx="590.3" cy="420.4" r="2.4" stroke-width="1"/>
<rect x="614.2" y="387.4" width="28" height="14.9" rx="3" stroke-width="1"/>
<rect x="614.2" y="405.1" width="28" height="14.2" rx="3" stroke-width="1"/>
<circle cx="618.1" cy="394.9" r="3" stroke-width="1.2" stroke="#222"/>
<line x1="615.85" y1="394.9" x2="620.35" y2="394.9"/>
<line x1="618.1" y1="392.65" x2="618.1" y2="397.15"/>
<circle cx="638.5" cy="394.9" r="3" stroke-width="1.2" stroke="#222"/>
<line x1="636.25" y1="394.9" x2="640.75" y2="394.9"/>
<line x1="638.5" y1="392.65" x2="638.5" y2="397.15"/>
<circle cx="618.1" cy="412.2" r="3" stroke-width="1.2" stroke="#222"/>
<line x1="615.85" y1="412.2" x2="620.35" y2="412.2"/>
<line x1="618.1" y1="409.95" x2="618.1" y2="414.45"/>
<circle cx="638.5" cy="412.2" r="3" stroke-width="1.2" stroke="#222"/>
<line x1="636.25" y1="412.2" x2="640.75" y2="412.2"/>
<line x1="638.5" y1="409.95" x2="638.5" y2="414.45"/>
<rect x="622" y="389.5" width="12.7" height="10.7" stroke-width="2" stroke="#1a1a1a"/>
<rect x="624.8" y="392" width="7" height="5.5" stroke-width="0.8"/>
<circle cx="628.1" cy="412.2" r="3.3" stroke-width="1"/>
<line x1="625" y1="412.2" x2="631.2" y2="412.2" stroke-width="0.8"/>
<path d="M200.2 495.5 L353.3 495.5 A17 17 0 0 1 370.3 512.5 L370.3 538.4 A8 8 0 0 0 378.3 546.4 L415.3 546.4 A8 8 0 0 1 423.3 554.4 L423.3 615.7 A8 8 0 0 1 415.3 623.7 L378.3 623.7 A8 8 0 0 0 370.3 631.7 L370.3 658.3 A17 17 0 0 1 353.3 675.3 L200.2 675.3 A17 17 0 0 1 183.2 658.3 L183.2 512.5 A17 17 0 0 1 200.2 495.5 Z" stroke-width="1"/>
<path d="M200.2 498.4 L353.3 498.4 A14.1 14.1 0 0 1 367.4 512.5 L367.4 538.4 A10.9 10.9 0 0 0 378.3 549.3 L415.3 549.3 A5.1 5.1 0 0 1 420.4 554.4 L420.4 615.7 A5.1 5.1 0 0 1 415.3 620.8 L378.3 620.8 A10.9 10.9 0 0 0 367.4 631.7 L367.4 658.3 A14.1 14.1 0 0 1 353.3 672.4 L200.2 672.4 A14.1 14.1 0 0 1 186.1 658.3 L186.1 512.5 A14.1 14.1 0 0 1 200.2 498.4 Z" stroke-width="0.8"/>
<circle cx="200.5" cy="507.9" r="2.6" stroke-width="1"/>
<circle cx="355" cy="508" r="2.6" stroke-width="1"/>
<circle cx="200.5" cy="662.6" r="2.6" stroke-width="1"/>
<circle cx="354.9" cy="662.7" r="2.6" stroke-width="1"/>
<circle cx="402.2" cy="564" r="5.8" stroke-width="1"/>
<circle cx="402.2" cy="564" r="3.5" stroke-width="0.8"/>
<circle cx="402.2" cy="604.2" r="5.8" stroke-width="1"/>
<circle cx="402.2" cy="604.2" r="3.5" stroke-width="0.8"/>
<line x1="185.7" y1="521.4" x2="369.9" y2="521.4"/>
<line x1="185.7" y1="647.2" x2="369.9" y2="647.2"/>
<line x1="369.9" y1="521.4" x2="369.9" y2="647.2" stroke-width="1.5"/>
<line x1="185.7" y1="521.4" x2="185.7" y2="676" stroke-width="0.9"/>
<rect x="214.9" y="518.6" width="100" height="2.8" stroke-width="0.8"/>
<rect x="267.2" y="521.4" width="50.5" height="8.1" stroke-width="0.9"/>
<rect x="343.6" y="521.4" width="26.3" height="8.1" stroke-width="0.9"/>
<rect x="294.4" y="638.8" width="25" height="8.4" stroke-width="0.9"/>
<rect x="344.4" y="638.8" width="25.5" height="8.4" stroke-width="0.9"/>
<rect x="361.5" y="529.5" width="8.4" height="21.8" stroke-width="0.9"/>
<rect x="361.5" y="573.5" width="8.4" height="21.6" stroke-width="0.9"/>
<rect x="361.6" y="617.2" width="8.3" height="21.6" stroke-width="0.9"/>
<line x1="185.7" y1="529.2" x2="193.4" y2="529.2" stroke-width="0.8"/>
<line x1="193.4" y1="529.2" x2="193.4" y2="540" stroke-width="0.8"/>
<line x1="194.1" y1="639.4" x2="194.1" y2="647.2" stroke-width="0.8"/>
<circle cx="330" cy="525.4" r="1.8" stroke-width="0.8"/>
<circle cx="365.4" cy="562.4" r="1.8" stroke-width="0.8"/>
<circle cx="365.4" cy="606" r="1.8" stroke-width="0.8"/>
<circle cx="331.9" cy="643" r="1.8" stroke-width="0.8"/>
<circle cx="365.7" cy="606.1" r="1.8" stroke-width="0.8"/>
<rect x="187.2" y="521.4" width="124.2" height="125" rx="25" stroke-width="1" fill="#fff"/>
<circle cx="201.4" cy="536.9" r="1.6" stroke-width="0.5" fill="#222"/>
<circle cx="296.4" cy="536.5" r="1.6" stroke-width="0.5" fill="#222"/>
<circle cx="201.5" cy="631.6" r="1.6" stroke-width="0.5" fill="#222"/>
<circle cx="296.3" cy="631.6" r="1.6" stroke-width="0.5" fill="#222"/>
<circle cx="249.5" cy="584.4" r="59.8" stroke-width="0.9"/>
<rect x="238.4" y="525.3" width="25.9" height="4.2" stroke-width="0.8" fill="#fff"/>
<rect x="244.3" y="639.3" width="25.9" height="4" stroke-width="0.8" fill="#fff"/>
<rect x="303.5" y="576.6" width="4.5" height="15.4" stroke-width="0.8" fill="#fff"/>
<rect x="190.8" y="576.6" width="4.5" height="15.4" stroke-width="0.8" fill="#fff"/>
<rect x="210.3" y="545" width="78" height="78.6" rx="9" stroke-width="0.9" fill="#fff"/>
<line x1="214.2" y1="548" x2="214.2" y2="620.5" stroke-width="0.8"/>
<line x1="218.3" y1="547" x2="218.3" y2="621.5" stroke-width="0.8"/>
<line x1="280.5" y1="547" x2="280.5" y2="621.5" stroke-width="0.8"/>
<line x1="284.5" y1="548" x2="284.5" y2="620.5" stroke-width="0.8"/>
<line x1="216.2" y1="566" x2="216.2" y2="572" stroke-width="1.6" stroke="#555"/>
<line x1="282.5" y1="566" x2="282.5" y2="572" stroke-width="1.6" stroke="#555"/>
<line x1="216.2" y1="597" x2="216.2" y2="603" stroke-width="1.6" stroke="#555"/>
<line x1="282.5" y1="597" x2="282.5" y2="603" stroke-width="1.6" stroke="#555"/>
<rect x="226.5" y="548.3" width="44.7" height="71.9" rx="5" stroke-width="1.1"/>
<rect x="229" y="550.5" width="39.7" height="67.5" rx="4" stroke-width="0.8"/>
<rect x="231.9" y="551.7" width="34.6" height="11.5" rx="1.5" stroke-width="1.2" stroke="#1a1a1a"/>
<line x1="232.5" y1="562.6" x2="266" y2="562.6" stroke-width="1.8" stroke="#222"/>
<line x1="232.5" y1="552.6" x2="266" y2="552.6" stroke-width="1.3" stroke="#333"/>
<rect x="231.9" y="605.3" width="34.6" height="11.5" rx="1.5" stroke-width="1.2" stroke="#1a1a1a"/>
<line x1="232.5" y1="616.2" x2="266" y2="616.2" stroke-width="1.8" stroke="#222"/>
<line x1="232.5" y1="606.2" x2="266" y2="606.2" stroke-width="1.3" stroke="#333"/>
<rect x="237" y="563.6" width="25" height="2.4" stroke-width="0.6" fill="#888"/>
<rect x="237" y="602.6" width="25" height="2.4" stroke-width="0.6" fill="#888"/>
<rect x="231" y="566" width="37" height="37" rx="5" stroke-width="0.9"/>
<circle cx="250.2" cy="585" r="17.3" stroke-width="2.2" stroke="#111"/>
<circle cx="250.2" cy="585" r="15.4" stroke-width="0.8"/>
<path d="M241.5 575 L245.5 575 A4.7 4.7 0 0 1 255 575 L259 575 L259 595 L255 595 A4.7 4.7 0 0 1 245.5 595 L241.5 595 Z" stroke-width="1.6" stroke="#111"/>
<circle cx="250.2" cy="573.5" r="1.6" stroke-width="1"/>
<circle cx="250.2" cy="596.5" r="1.6" stroke-width="1"/>
<path d="M241.5 580 A9 9 0 0 0 241.5 590" stroke-width="1" stroke="#1a1a1a"/>
<path d="M259 580 A9 9 0 0 1 259 590" stroke-width="1" stroke="#1a1a1a"/>
<circle cx="250.2" cy="585" r="6.2" stroke-width="1.5" stroke="#111"/>
<circle cx="250.2" cy="585" r="4.8" stroke-width="0.7"/>
<circle cx="222.1" cy="574.8" r="4.3" stroke-width="1.3" stroke="#111"/>
<line x1="218.66" y1="574.8" x2="225.54" y2="574.8" stroke-width="1.7" stroke="#111"/>
<line x1="222.1" y1="571.36" x2="222.1" y2="578.24" stroke-width="1.7" stroke="#111"/>
<circle cx="276.4" cy="574.8" r="4.3" stroke-width="1.3" stroke="#111"/>
<line x1="272.96" y1="574.8" x2="279.84" y2="574.8" stroke-width="1.7" stroke="#111"/>
<line x1="276.4" y1="571.36" x2="276.4" y2="578.24" stroke-width="1.7" stroke="#111"/>
<circle cx="222.1" cy="593.8" r="4.3" stroke-width="1.3" stroke="#111"/>
<line x1="218.66" y1="593.8" x2="225.54" y2="593.8" stroke-width="1.7" stroke="#111"/>
<line x1="222.1" y1="590.36" x2="222.1" y2="597.24" stroke-width="1.7" stroke="#111"/>
<circle cx="276.4" cy="593.8" r="4.3" stroke-width="1.3" stroke="#111"/>
<line x1="272.96" y1="593.8" x2="279.84" y2="593.8" stroke-width="1.7" stroke="#111"/>
<line x1="276.4" y1="590.36" x2="276.4" y2="597.24" stroke-width="1.7" stroke="#111"/>
<circle cx="340.5" cy="552.6" r="13.8" stroke-width="1.1" stroke="#222"/>
<circle cx="340.5" cy="552.6" r="12.3" stroke-width="0.9" stroke="#222"/>
<path d="M333.3 546.5 Q331.2 552.6 333.3 558.7" stroke-width="1.5" stroke="#1a1a1a"/>
<path d="M342 543.3 Q350.5 546 349 552.6 Q348.5 558.5 342 561.8" stroke-width="1.3" stroke="#1a1a1a"/>
<text x="0" y="0" text-anchor="middle" font-size="11.1"></text>
<text transform="translate(337.6 552.6) rotate(90)" text-anchor="middle" font-size="6" font-weight="bold">AOUDA</text>
<path d="M352.5 585.3 L352.95 585.92 L353.02 586.55 L352.63 587.13 L352.01 587.62 L351.55 588.1 L351.48 588.67 L351.71 589.37 L351.92 590.12 L351.79 590.74 L351.23 591.15 L350.48 591.39 L349.86 591.67 L349.57 592.16 L349.53 592.89 L349.46 593.66 L349.13 594.22 L348.48 594.41 L347.69 594.37 L347 594.39 L346.54 594.72 L346.23 595.37 L345.9 596.08 L345.4 596.5 L344.73 596.48 L344.01 596.16 L343.36 595.91 L342.8 596.03 L342.28 596.51 L341.72 597.06 L341.1 597.3 L340.48 597.06 L339.92 596.51 L339.4 596.03 L338.84 595.91 L338.19 596.16 L337.47 596.48 L336.8 596.5 L336.3 596.08 L335.97 595.37 L335.66 594.72 L335.2 594.39 L334.51 594.37 L333.72 594.41 L333.07 594.22 L332.74 593.66 L332.67 592.89 L332.63 592.16 L332.34 591.67 L331.72 591.39 L330.97 591.15 L330.41 590.74 L330.28 590.12 L330.49 589.37 L330.72 588.67 L330.65 588.1 L330.19 587.62 L329.57 587.13 L329.18 586.55 L329.25 585.92 L329.7 585.3 L330.18 584.73 L330.35 584.17 L330.11 583.56 L329.71 582.88 L329.53 582.2 L329.8 581.63 L330.43 581.2 L331.09 580.84 L331.47 580.39 L331.49 579.75 L331.36 578.97 L331.42 578.26 L331.85 577.81 L332.58 577.63 L333.34 577.54 L333.87 577.27 L334.13 576.69 L334.29 575.93 L334.59 575.27 L335.14 574.98 L335.88 575.06 L336.63 575.25 L337.23 575.22 L337.69 574.79 L338.11 574.14 L338.62 573.61 L339.23 573.51 L339.9 573.84 L340.52 574.29 L341.1 574.5 L341.68 574.29 L342.3 573.84 L342.97 573.51 L343.58 573.61 L344.09 574.14 L344.51 574.79 L344.97 575.22 L345.57 575.25 L346.32 575.06 L347.06 574.98 L347.61 575.27 L347.91 575.93 L348.07 576.69 L348.33 577.27 L348.86 577.54 L349.62 577.63 L350.35 577.81 L350.78 578.26 L350.84 578.97 L350.71 579.75 L350.73 580.39 L351.11 580.84 L351.77 581.2 L352.4 581.63 L352.67 582.2 L352.49 582.88 L352.09 583.56 L351.85 584.17 L352.02 584.73 L352.5 585.3" stroke-width="1.4" stroke="#1a1a1a"/>
<rect x="340.3" y="576.3" width="1.6" height="5" rx="0.8" stroke-width="0.7"/>
<rect x="171.4" y="526.4" width="11.6" height="114" stroke-width="1"/>
<line x1="171.4" y1="527" x2="171.4" y2="640" stroke-width="1.4"/>
<circle cx="182.3" cy="528.5" r="0.9" stroke-width="0.8"/>
<circle cx="182.3" cy="531.5" r="0.9" stroke-width="0.8"/>
<circle cx="182.3" cy="534.5" r="0.9" stroke-width="0.8"/>
<circle cx="182.3" cy="537.5" r="0.9" stroke-width="0.8"/>
<circle cx="182.3" cy="540.5" r="0.9" stroke-width="0.8"/>
<circle cx="182.3" cy="543.5" r="0.9" stroke-width="0.8"/>
<circle cx="182.3" cy="546.5" r="0.9" stroke-width="0.8"/>
<circle cx="182.3" cy="549.5" r="0.9" stroke-width="0.8"/>
<circle cx="182.3" cy="552.5" r="0.9" stroke-width="0.8"/>
<circle cx="182.3" cy="555.5" r="0.9" stroke-width="0.8"/>
<circle cx="182.3" cy="558.5" r="0.9" stroke-width="0.8"/>
<circle cx="182.3" cy="561.5" r="0.9" stroke-width="0.8"/>
<circle cx="182.3" cy="564.5" r="0.9" stroke-width="0.8"/>
<circle cx="182.3" cy="567.5" r="0.9" stroke-width="0.8"/>
<circle cx="182.3" cy="570.5" r="0.9" stroke-width="0.8"/>
<circle cx="182.3" cy="573.5" r="0.9" stroke-width="0.8"/>
<circle cx="182.3" cy="576.5" r="0.9" stroke-width="0.8"/>
<circle cx="182.3" cy="579.5" r="0.9" stroke-width="0.8"/>
<circle cx="182.3" cy="582.5" r="0.9" stroke-width="0.8"/>
<circle cx="182.3" cy="585.5" r="0.9" stroke-width="0.8"/>
<circle cx="182.3" cy="588.5" r="0.9" stroke-width="0.8"/>
<circle cx="182.3" cy="591.5" r="0.9" stroke-width="0.8"/>
<circle cx="182.3" cy="594.5" r="0.9" stroke-width="0.8"/>
<circle cx="182.3" cy="597.5" r="0.9" stroke-width="0.8"/>
<circle cx="182.3" cy="600.5" r="0.9" stroke-width="0.8"/>
<circle cx="182.3" cy="603.5" r="0.9" stroke-width="0.8"/>
<circle cx="182.3" cy="606.5" r="0.9" stroke-width="0.8"/>
<circle cx="182.3" cy="609.5" r="0.9" stroke-width="0.8"/>
<circle cx="182.3" cy="612.5" r="0.9" stroke-width="0.8"/>
<circle cx="182.3" cy="615.5" r="0.9" stroke-width="0.8"/>
<circle cx="182.3" cy="618.5" r="0.9" stroke-width="0.8"/>
<circle cx="182.3" cy="621.5" r="0.9" stroke-width="0.8"/>
<circle cx="182.3" cy="624.5" r="0.9" stroke-width="0.8"/>
<circle cx="182.3" cy="627.5" r="0.9" stroke-width="0.8"/>
<circle cx="182.3" cy="630.5" r="0.9" stroke-width="0.8"/>
<circle cx="182.3" cy="633.5" r="0.9" stroke-width="0.8"/>
<circle cx="182.3" cy="636.5" r="0.9" stroke-width="0.8"/>
<circle cx="182.3" cy="639.5" r="0.9" stroke-width="0.8"/>
<rect x="168.1" y="554.1" width="3.3" height="17.9" stroke-width="0.6" fill="#999"/>
<rect x="191.6" y="649.8" width="111" height="11.8" stroke-width="1"/>
<rect x="193.2" y="650.4" width="2.3" height="1.8" fill="#1a1a1a" stroke="none"/>
<rect x="197.62" y="650.4" width="2.3" height="1.8" fill="#1a1a1a" stroke="none"/>
<rect x="202.04" y="650.4" width="2.3" height="1.8" fill="#1a1a1a" stroke="none"/>
<rect x="206.46" y="650.4" width="2.3" height="1.8" fill="#1a1a1a" stroke="none"/>
<rect x="210.88" y="650.4" width="2.3" height="1.8" fill="#1a1a1a" stroke="none"/>
<rect x="215.3" y="650.4" width="2.3" height="1.8" fill="#1a1a1a" stroke="none"/>
<rect x="219.72" y="650.4" width="2.3" height="1.8" fill="#1a1a1a" stroke="none"/>
<rect x="224.14" y="650.4" width="2.3" height="1.8" fill="#1a1a1a" stroke="none"/>
<rect x="228.56" y="650.4" width="2.3" height="1.8" fill="#1a1a1a" stroke="none"/>
<rect x="232.98" y="650.4" width="2.3" height="1.8" fill="#1a1a1a" stroke="none"/>
<rect x="237.4" y="650.4" width="2.3" height="1.8" fill="#1a1a1a" stroke="none"/>
<rect x="241.82" y="650.4" width="2.3" height="1.8" fill="#1a1a1a" stroke="none"/>
<rect x="246.24" y="650.4" width="2.3" height="1.8" fill="#1a1a1a" stroke="none"/>
<rect x="250.66" y="650.4" width="2.3" height="1.8" fill="#1a1a1a" stroke="none"/>
<rect x="255.08" y="650.4" width="2.3" height="1.8" fill="#1a1a1a" stroke="none"/>
<rect x="259.5" y="650.4" width="2.3" height="1.8" fill="#1a1a1a" stroke="none"/>
<rect x="263.92" y="650.4" width="2.3" height="1.8" fill="#1a1a1a" stroke="none"/>
<rect x="268.34" y="650.4" width="2.3" height="1.8" fill="#1a1a1a" stroke="none"/>
<rect x="272.76" y="650.4" width="2.3" height="1.8" fill="#1a1a1a" stroke="none"/>
<rect x="277.18" y="650.4" width="2.3" height="1.8" fill="#1a1a1a" stroke="none"/>
<rect x="281.6" y="650.4" width="2.3" height="1.8" fill="#1a1a1a" stroke="none"/>
<rect x="286.02" y="650.4" width="2.3" height="1.8" fill="#1a1a1a" stroke="none"/>
<rect x="290.44" y="650.4" width="2.3" height="1.8" fill="#1a1a1a" stroke="none"/>
<rect x="294.86" y="650.4" width="2.3" height="1.8" fill="#1a1a1a" stroke="none"/>
<rect x="299.28" y="650.4" width="2.3" height="1.8" fill="#1a1a1a" stroke="none"/>
<line x1="191.6" y1="652.6" x2="302.7" y2="652.6" stroke-width="0.6"/>
<rect x="302.7" y="651.6" width="36.1" height="9.4" stroke-width="1"/>
<rect x="318.5" y="652" width="2.2" height="1.8" fill="#1a1a1a" stroke="none"/>
<rect x="322.7" y="652" width="2.2" height="1.8" fill="#1a1a1a" stroke="none"/>
<rect x="326.9" y="652" width="2.2" height="1.8" fill="#1a1a1a" stroke="none"/>
<rect x="331.1" y="652" width="2.2" height="1.8" fill="#1a1a1a" stroke="none"/>
<rect x="335.3" y="652" width="2.2" height="1.8" fill="#1a1a1a" stroke="none"/>
<rect x="317.2" y="661" width="21.6" height="3" stroke-width="0.5" fill="#999"/>
<rect x="346" y="647.2" width="9.5" height="5" stroke-width="0.8"/>
<line x1="191.6" y1="649.8" x2="191.6" y2="661.6" stroke-width="1.2"/>
<path d="M944.76 317.69 L948.23 316.05 L952.27 314.99 L956.62 314.58 L960.97 314.84 L965.03 315.76 L968.53 317.27 L1068.62 374.22 L1071.42 376.29 L1073.21 378.73 L1073.88 381.37 L1073.38 384.03 L1071.74 386.53 L1069.07 388.69 L959.2 457.18 L955.63 458.89 L951.45 460 L946.97 460.42 L942.49 460.11 L938.31 459.12 L934.72 457.49 L835.5 398.48 L832.84 396.4 L831.2 393.97 L830.67 391.34 L831.3 388.69 L833.04 386.21 L835.77 384.07 Z" stroke-width="0.9" fill="#fff"/>
<path d="M944.78 314.84 L948.25 313.21 L952.29 312.15 L956.63 311.74 L960.98 312 L965.04 312.91 L968.54 314.43 L1068.58 371.3 L1071.38 373.37 L1073.17 375.81 L1073.84 378.44 L1073.34 381.1 L1071.7 383.59 L1069.03 385.76 L959.22 454.17 L955.64 455.89 L951.47 457 L946.99 457.41 L942.51 457.11 L938.34 456.11 L934.75 454.49 L835.57 395.56 L832.92 393.48 L831.28 391.05 L830.75 388.42 L831.38 385.78 L833.12 383.3 L835.85 381.16 Z" stroke-width="0.8" fill="#fff"/>
<path d="M944.8 312 L948.27 310.37 L952.31 309.31 L956.65 308.9 L961 309.16 L965.06 310.07 L968.55 311.58 L1068.55 368.39 L1071.34 370.45 L1073.13 372.88 L1073.8 375.52 L1073.3 378.17 L1071.66 380.66 L1069 382.83 L959.23 451.18 L955.66 452.89 L951.49 454 L947.02 454.41 L942.54 454.11 L938.36 453.12 L934.78 451.49 L835.65 392.64 L833 390.57 L831.36 388.14 L830.83 385.51 L831.46 382.87 L833.2 380.4 L835.92 378.26 Z" stroke-width="0.9" fill="#fff"/>
<path d="M846.9 381.93 L847.53 382.5 L847.75 383.18 L847.51 383.87 L846.85 384.47 L845.88 384.87 L844.73 385.02 L843.59 384.9 L842.63 384.53 L841.99 383.96 L841.78 383.27 L842.02 382.59 L842.67 381.99 L843.65 381.59 L844.79 381.44 L845.93 381.56 Z" stroke-width="0.8"/>
<path d="M954.26 316.57 L954.9 317.13 L955.13 317.79 L954.91 318.47 L954.27 319.05 L953.31 319.44 L952.18 319.6 L951.04 319.48 L950.08 319.12 L949.43 318.56 L949.2 317.9 L949.42 317.22 L950.06 316.65 L951.02 316.25 L952.16 316.1 L953.29 316.21 Z" stroke-width="0.8"/>
<path d="M951.13 443.52 L951.79 444.11 L952.03 444.81 L951.8 445.52 L951.15 446.13 L950.16 446.55 L948.99 446.7 L947.83 446.58 L946.83 446.19 L946.17 445.6 L945.94 444.89 L946.16 444.18 L946.82 443.58 L947.81 443.16 L948.97 443.01 L950.14 443.13 Z" stroke-width="0.8"/>
<path d="M1059.16 376.38 L1059.83 376.95 L1060.08 377.64 L1059.87 378.33 L1059.23 378.93 L1058.26 379.34 L1057.11 379.49 L1055.94 379.37 L1054.95 378.99 L1054.28 378.42 L1054.03 377.73 L1054.24 377.04 L1054.88 376.45 L1055.85 376.04 L1057 375.88 L1058.16 376 Z" stroke-width="0.8"/>
<path d="M1062.2 329.4 L1075.5 337 Q1079.6 339.6 1079.2 343.5 L1079 347.5 L1062.2 356.2 Z" stroke-width="0.9" fill="#fff"/>
<line x1="1079" y1="345.2" x2="1062.2" y2="353.8" stroke-width="0.8"/>
<path d="M933.54 306.17 L1060.44 229.1 L1062.08 366.55 L932.12 447.22 Z" stroke-width="1" fill="#fff"/>
<path d="M846.37 256.45 L933.54 306.17 L932.12 447.22 L842.88 394.28 Z" stroke-width="1" fill="#fff"/>
<path d="M846.37 256.45 L972.55 181.05 L1060.44 229.1 L933.54 306.17 Z" stroke-width="1" fill="#fff"/>
<path d="M1057.71 230.76 L1059.28 368.29" stroke-width="0.7"/>
<path d="M939.14 302.77 L937.85 443.66" stroke-width="0.7"/>
<path d="M927.93 302.97 L926.37 443.82" stroke-width="0.7"/>
<path d="M851.84 259.57 L848.47 397.6" stroke-width="0.7"/>
<path d="M939.14 302.77 L938.96 322.6 L933.55 325.89 L933.35 345.88 L938.78 342.57 L938.59 362.67 L933.15 366.01 L932.94 386.27 L938.41 382.92 L938.22 403.3 L932.74 406.68 L932.53 427.23 L938.03 423.82 L937.85 443.66" stroke-width="0.85"/>
<path d="M927.72 302.85 L927.62 312.35 L933.23 315.56 L933.03 335.48 L927.4 332.24 L927.17 352.26 L932.83 355.53 L932.63 375.73 L926.95 372.42 L926.73 392.73 L932.42 396.06 L932.21 416.53 L926.5 413.17 L926.27 433.76 L932 437.15 L931.9 447.09" stroke-width="0.85"/>
<path d="M1060.24 229.22 L1060.47 248.58 L1055.32 251.71 L1055.54 271.21 L1060.7 268.06 L1060.93 287.67 L1055.75 290.85 L1055.97 310.62 L1061.17 307.42 L1061.4 327.31 L1056.19 330.52 L1056.41 350.57 L1061.64 347.33 L1061.87 366.68" stroke-width="0.85"/>
<path d="M852.11 259.72 L851.64 279.16 L846.09 275.97 L845.59 295.51 L851.16 298.72 L850.68 318.42 L845.1 315.18 L844.6 334.99 L850.2 338.26 L849.71 358.22 L844.09 354.93 L843.58 375 L849.22 378.33 L848.75 397.76" stroke-width="0.85"/>
<path d="M1059.05 239.91 L1058.84 240.82 L1058.26 241.65 L1057.55 242.09 L1056.96 241.96 L1056.73 241.32 L1056.94 240.41 L1057.52 239.58 L1058.24 239.14 L1058.82 239.27 Z" stroke-width="0.7"/>
<path d="M1059.51 278.73 L1059.29 279.65 L1058.71 280.49 L1057.99 280.94 L1057.4 280.81 L1057.16 280.16 L1057.38 279.24 L1057.96 278.4 L1058.68 277.96 L1059.27 278.08 Z" stroke-width="0.7"/>
<path d="M1059.89 317.81 L1059.68 318.74 L1059.09 319.59 L1058.36 320.04 L1057.77 319.92 L1057.53 319.26 L1057.75 318.32 L1058.33 317.47 L1059.06 317.02 L1059.66 317.15 Z" stroke-width="0.7"/>
<path d="M1060.36 357.94 L1060.14 358.88 L1059.56 359.75 L1058.82 360.2 L1058.22 360.07 L1057.99 359.41 L1058.2 358.46 L1058.79 357.6 L1059.53 357.14 L1060.12 357.27 Z" stroke-width="0.7"/>
<path d="M937.25 333.79 L937.01 334.73 L936.41 335.59 L935.67 336.04 L935.08 335.91 L934.86 335.25 L935.09 334.31 L935.7 333.46 L936.43 333.01 L937.03 333.13 Z" stroke-width="0.7"/>
<path d="M936.88 373.37 L936.64 374.32 L936.03 375.19 L935.29 375.65 L934.69 375.52 L934.47 374.85 L934.71 373.9 L935.31 373.03 L936.06 372.57 L936.65 372.7 Z" stroke-width="0.7"/>
<path d="M936.47 416.61 L936.23 417.58 L935.62 418.46 L934.87 418.92 L934.27 418.79 L934.04 418.11 L934.28 417.15 L934.89 416.26 L935.64 415.8 L936.24 415.93 Z" stroke-width="0.7"/>
<path d="M849.68 288.01 L849.44 288.67 L848.84 288.82 L848.12 288.4 L847.55 287.58 L847.35 286.67 L847.59 286.02 L848.19 285.87 L848.91 286.29 L849.48 287.1 Z" stroke-width="0.7"/>
<path d="M848.72 327.16 L848.47 327.82 L847.87 327.97 L847.15 327.55 L846.57 326.71 L846.37 325.79 L846.61 325.13 L847.21 324.98 L847.94 325.4 L848.51 326.24 Z" stroke-width="0.7"/>
<path d="M847.75 366.59 L847.5 367.26 L846.9 367.41 L846.17 366.98 L845.59 366.14 L845.38 365.2 L845.63 364.53 L846.23 364.39 L846.96 364.81 L847.54 365.66 Z" stroke-width="0.7"/>
<path d="M931.14 395.14 L930.9 395.82 L930.29 395.97 L929.54 395.54 L928.94 394.68 L928.72 393.73 L928.96 393.05 L929.57 392.9 L930.32 393.34 L930.92 394.19 Z" stroke-width="0.7"/>
<path d="M930.67 440.61 L930.43 441.3 L929.81 441.45 L929.06 441 L928.45 440.13 L928.23 439.16 L928.47 438.47 L929.09 438.32 L929.84 438.77 L930.44 439.64 Z" stroke-width="0.7"/>
<path d="M931.56 354.55 L931.32 355.23 L930.71 355.38 L929.97 354.95 L929.38 354.1 L929.16 353.16 L929.39 352.49 L930 352.34 L930.74 352.77 L931.34 353.62 Z" stroke-width="0.7"/>
<path d="M955.89 192.11 L973.79 181.41 L979.37 184.46 L961.46 195.18 Z" stroke-width="0.8"/>
<path d="M973.65 187.88 L979.37 184.46 L994.43 192.7 L988.71 196.13 Z" stroke-width="0.8"/>
<path d="M1004.12 204.57 L1009.84 201.12 L1024.91 209.36 L1019.18 212.82 Z" stroke-width="0.8"/>
<path d="M1034.74 221.26 L1040.41 217.83 L1055.63 226.15 L1049.95 229.59 Z" stroke-width="0.8"/>
<path d="M1038.18 236.74 L1055.63 226.15 L1061.56 229.4 L1044.11 240 Z" stroke-width="0.8"/>
<path d="M1003.81 257.59 L1021.02 247.15 L1026.95 250.42 L1009.73 260.88 Z" stroke-width="0.8"/>
<path d="M950.59 198.44 L951.08 198.98 L950.91 199.6 L950.15 200.05 L949.09 200.17 L948.13 199.91 L947.64 199.37 L947.8 198.75 L948.56 198.3 L949.62 198.18 Z" stroke-width="0.7"/>
<path d="M1000.29 198.01 L1000.79 198.55 L1000.63 199.17 L999.87 199.62 L998.8 199.74 L997.84 199.48 L997.34 198.94 L997.5 198.32 L998.25 197.87 L999.32 197.75 Z" stroke-width="0.7"/>
<path d="M1030.7 214.65 L1031.21 215.19 L1031.06 215.82 L1030.3 216.27 L1029.22 216.39 L1028.25 216.13 L1027.74 215.58 L1027.9 214.96 L1028.66 214.5 L1029.73 214.38 Z" stroke-width="0.7"/>
<path d="M1033.81 242.82 L1034.32 243.38 L1034.16 244 L1033.4 244.47 L1032.32 244.59 L1031.34 244.32 L1030.83 243.77 L1030.98 243.14 L1031.75 242.67 L1032.83 242.55 Z" stroke-width="0.7"/>
<path d="M989.91 348.11 L990.79 347.84 L991.43 348.18 L991.66 349.04 L991.66 401.33 L991.42 402.5 L990.78 403.65 L989.89 404.48 L943.71 433.11 L942.82 433.39 L942.17 433.04 L941.94 432.15 L942.39 379.34 L942.63 378.18 L943.29 377.04 L944.17 376.22 Z" stroke-width="0.9" fill="#fff"/>
<path d="M946.63 377.78 L946.36 378.84 L945.68 379.82 L944.85 380.33 L944.18 380.18 L943.94 379.43 L944.2 378.37 L944.88 377.4 L945.71 376.89 L946.38 377.03 Z" stroke-width="1.3"/>
<path d="M946.24 427.6 L945.97 428.68 L945.29 429.67 L944.45 430.19 L943.78 430.04 L943.53 429.28 L943.79 428.2 L944.48 427.21 L945.31 426.69 L945.99 426.84 Z" stroke-width="1.3"/>
<path d="M989.68 400.68 L989.42 401.75 L988.75 402.74 L987.92 403.25 L987.24 403.1 L986.99 402.35 L987.25 401.28 L987.92 400.29 L988.75 399.78 L989.42 399.93 Z" stroke-width="1.3"/>
<path d="M989.7 351.29 L989.44 352.35 L988.78 353.31 L987.95 353.82 L987.29 353.68 L987.03 352.93 L987.29 351.88 L987.95 350.91 L988.78 350.41 L989.45 350.55 Z" stroke-width="1.3"/>
<clipPath id="fgi"><path d="M950.66 379.66 L950.31 381.09 L949.4 382.4 L948.29 383.08 L947.39 382.89 L947.05 381.88 L947.41 380.45 L948.31 379.14 L949.43 378.46 L950.33 378.65 Z"/><path d="M950.62 385.26 L950.27 386.7 L949.36 388.01 L948.24 388.7 L947.35 388.5 L947.01 387.49 L947.36 386.06 L948.27 384.75 L949.39 384.06 L950.29 384.26 Z"/><path d="M950.58 390.88 L950.23 392.32 L949.32 393.63 L948.2 394.32 L947.3 394.12 L946.97 393.11 L947.32 391.68 L948.23 390.36 L949.35 389.68 L950.25 389.87 Z"/><path d="M950.54 396.51 L950.19 397.95 L949.28 399.26 L948.16 399.95 L947.26 399.75 L946.92 398.74 L947.28 397.31 L948.19 395.99 L949.31 395.3 L950.21 395.5 Z"/><path d="M950.51 402.15 L950.15 403.59 L949.24 404.91 L948.12 405.6 L947.22 405.4 L946.88 404.39 L947.24 402.95 L948.15 401.63 L949.27 400.94 L950.17 401.14 Z"/><path d="M950.47 407.8 L950.11 409.24 L949.2 410.56 L948.08 411.25 L947.17 411.05 L946.84 410.04 L947.19 408.6 L948.11 407.28 L949.23 406.58 L950.13 406.78 Z"/><path d="M950.43 413.46 L950.07 414.9 L949.16 416.23 L948.03 416.92 L947.13 416.72 L946.79 415.7 L947.15 414.26 L948.06 412.94 L949.19 412.24 L950.09 412.44 Z"/><path d="M950.39 419.13 L950.03 420.58 L949.11 421.9 L947.99 422.6 L947.09 422.4 L946.75 421.38 L947.11 419.93 L948.02 418.61 L949.14 417.91 L950.05 418.11 Z"/><path d="M954.88 379.85 L954.52 381.28 L953.62 382.59 L952.5 383.28 L951.6 383.08 L951.27 382.08 L951.62 380.65 L952.53 379.34 L953.64 378.65 L954.54 378.85 Z"/><path d="M954.84 385.46 L954.49 386.89 L953.58 388.2 L952.46 388.89 L951.56 388.69 L951.23 387.69 L951.58 386.25 L952.49 384.94 L953.61 384.26 L954.5 384.45 Z"/><path d="M954.81 391.08 L954.45 392.51 L953.54 393.83 L952.43 394.52 L951.53 394.32 L951.19 393.31 L951.54 391.87 L952.45 390.56 L953.57 389.87 L954.47 390.07 Z"/><path d="M954.77 396.71 L954.42 398.14 L953.51 399.46 L952.39 400.15 L951.49 399.95 L951.15 398.94 L951.5 397.5 L952.41 396.19 L953.53 395.5 L954.43 395.7 Z"/><path d="M954.73 402.35 L954.38 403.79 L953.47 405.1 L952.35 405.8 L951.45 405.6 L951.11 404.58 L951.47 403.14 L952.38 401.83 L953.5 401.13 L954.4 401.33 Z"/><path d="M954.7 408 L954.34 409.44 L953.43 410.76 L952.31 411.45 L951.41 411.25 L951.07 410.24 L951.43 408.79 L952.34 407.48 L953.46 406.78 L954.36 406.98 Z"/><path d="M954.66 413.66 L954.31 415.1 L953.4 416.42 L952.27 417.12 L951.37 416.92 L951.03 415.9 L951.39 414.46 L952.3 413.13 L953.42 412.44 L954.32 412.64 Z"/><path d="M954.63 419.33 L954.27 420.78 L953.36 422.1 L952.24 422.8 L951.33 422.6 L950.99 421.58 L951.35 420.13 L952.26 418.8 L953.38 418.11 L954.29 418.31 Z"/><path d="M959.12 374.45 L958.77 375.88 L957.87 377.19 L956.75 377.87 L955.85 377.68 L955.52 376.67 L955.87 375.24 L956.78 373.94 L957.89 373.25 L958.79 373.45 Z"/><path d="M959.09 380.05 L958.74 381.48 L957.83 382.79 L956.72 383.47 L955.82 383.28 L955.48 382.27 L955.83 380.84 L956.74 379.53 L957.86 378.85 L958.75 379.04 Z"/><path d="M959.06 385.66 L958.71 387.09 L957.8 388.4 L956.68 389.09 L955.79 388.89 L955.45 387.88 L955.8 386.45 L956.71 385.14 L957.82 384.45 L958.72 384.65 Z"/><path d="M959.03 391.27 L958.68 392.71 L957.77 394.02 L956.65 394.71 L955.75 394.52 L955.41 393.51 L955.77 392.07 L956.67 390.76 L957.79 390.07 L958.69 390.27 Z"/><path d="M959 396.9 L958.64 398.34 L957.73 399.66 L956.62 400.35 L955.72 400.15 L955.38 399.14 L955.73 397.7 L956.64 396.39 L957.76 395.7 L958.66 395.89 Z"/><path d="M958.97 402.54 L958.61 403.98 L957.7 405.3 L956.58 405.99 L955.68 405.8 L955.34 404.78 L955.7 403.34 L956.61 402.02 L957.73 401.33 L958.63 401.53 Z"/><path d="M958.93 408.19 L958.58 409.64 L957.67 410.96 L956.55 411.65 L955.65 411.45 L955.31 410.44 L955.66 408.99 L956.57 407.67 L957.69 406.98 L958.59 407.18 Z"/><path d="M958.9 413.85 L958.55 415.3 L957.64 416.62 L956.51 417.32 L955.61 417.12 L955.27 416.1 L955.63 414.66 L956.54 413.33 L957.66 412.64 L958.56 412.84 Z"/><path d="M963.33 374.65 L962.98 376.07 L962.08 377.38 L960.96 378.07 L960.07 377.87 L959.73 376.87 L960.08 375.44 L960.99 374.13 L962.1 373.45 L963 373.65 Z"/><path d="M963.31 380.25 L962.96 381.67 L962.05 382.98 L960.93 383.67 L960.04 383.47 L959.7 382.47 L960.05 381.04 L960.96 379.73 L962.07 379.04 L962.97 379.24 Z"/><path d="M963.28 385.85 L962.93 387.29 L962.02 388.6 L960.9 389.29 L960.01 389.09 L959.67 388.08 L960.02 386.65 L960.93 385.34 L962.04 384.65 L962.94 384.85 Z"/><path d="M963.25 391.47 L962.9 392.91 L961.99 394.22 L960.88 394.91 L959.98 394.71 L959.64 393.7 L959.99 392.27 L960.9 390.95 L962.01 390.27 L962.91 390.46 Z"/><path d="M963.22 397.1 L962.87 398.54 L961.96 399.85 L960.85 400.55 L959.94 400.35 L959.61 399.34 L959.96 397.9 L960.87 396.58 L961.98 395.89 L962.88 396.09 Z"/><path d="M963.2 402.74 L962.84 404.18 L961.93 405.5 L960.82 406.19 L959.91 405.99 L959.57 404.98 L959.93 403.54 L960.84 402.22 L961.96 401.53 L962.86 401.73 Z"/><path d="M963.17 408.39 L962.82 409.84 L961.91 411.16 L960.79 411.85 L959.88 411.65 L959.54 410.64 L959.9 409.19 L960.81 407.87 L961.93 407.18 L962.83 407.38 Z"/><path d="M963.14 414.05 L962.79 415.5 L961.88 416.82 L960.76 417.52 L959.85 417.32 L959.51 416.3 L959.87 414.86 L960.78 413.53 L961.9 412.84 L962.8 413.04 Z"/><path d="M967.57 369.26 L967.22 370.68 L966.32 371.98 L965.2 372.67 L964.31 372.47 L963.97 371.47 L964.32 370.05 L965.22 368.74 L966.33 368.06 L967.23 368.25 Z"/><path d="M967.55 374.84 L967.2 376.27 L966.29 377.58 L965.18 378.26 L964.28 378.07 L963.94 377.06 L964.29 375.63 L965.2 374.33 L966.31 373.64 L967.21 373.84 Z"/><path d="M967.52 380.44 L967.17 381.87 L966.27 383.18 L965.15 383.87 L964.25 383.67 L963.92 382.66 L964.27 381.23 L965.17 379.93 L966.28 379.24 L967.18 379.44 Z"/><path d="M967.5 386.05 L967.15 387.48 L966.24 388.79 L965.13 389.48 L964.23 389.28 L963.89 388.28 L964.24 386.84 L965.14 385.53 L966.26 384.85 L967.16 385.04 Z"/><path d="M967.47 391.67 L967.12 393.1 L966.22 394.42 L965.1 395.11 L964.2 394.91 L963.86 393.9 L964.21 392.46 L965.12 391.15 L966.24 390.46 L967.13 390.66 Z"/><path d="M967.45 397.3 L967.1 398.74 L966.19 400.05 L965.07 400.74 L964.17 400.55 L963.83 399.53 L964.19 398.1 L965.09 396.78 L966.21 396.09 L967.11 396.29 Z"/><path d="M967.43 402.94 L967.08 404.38 L966.17 405.7 L965.05 406.39 L964.15 406.19 L963.81 405.18 L964.16 403.74 L965.07 402.42 L966.19 401.73 L967.09 401.93 Z"/><path d="M967.4 408.59 L967.05 410.03 L966.14 411.36 L965.02 412.05 L964.12 411.85 L963.78 410.83 L964.13 409.39 L965.04 408.07 L966.16 407.38 L967.06 407.58 Z"/><path d="M971.78 369.45 L971.43 370.87 L970.53 372.18 L969.41 372.86 L968.52 372.67 L968.18 371.67 L968.53 370.24 L969.43 368.94 L970.54 368.25 L971.44 368.45 Z"/><path d="M971.76 375.04 L971.41 376.47 L970.51 377.77 L969.39 378.46 L968.49 378.26 L968.16 377.26 L968.5 375.83 L969.41 374.52 L970.52 373.84 L971.42 374.04 Z"/><path d="M971.74 380.64 L971.39 382.07 L970.48 383.38 L969.37 384.06 L968.47 383.87 L968.13 382.86 L968.48 381.43 L969.39 380.12 L970.5 379.44 L971.4 379.63 Z"/><path d="M971.72 386.25 L971.37 387.68 L970.46 388.99 L969.35 389.68 L968.45 389.48 L968.11 388.47 L968.46 387.04 L969.36 385.73 L970.48 385.04 L971.38 385.24 Z"/><path d="M971.7 391.87 L971.35 393.3 L970.44 394.61 L969.33 395.3 L968.43 395.11 L968.09 394.1 L968.44 392.66 L969.34 391.35 L970.46 390.66 L971.36 390.86 Z"/><path d="M971.68 397.5 L971.33 398.93 L970.42 400.25 L969.31 400.94 L968.4 400.74 L968.06 399.73 L968.41 398.29 L969.32 396.98 L970.44 396.29 L971.34 396.49 Z"/><path d="M971.66 403.14 L971.31 404.58 L970.4 405.9 L969.28 406.59 L968.38 406.39 L968.04 405.38 L968.39 403.94 L969.3 402.62 L970.42 401.93 L971.32 402.12 Z"/><path d="M971.64 408.79 L971.29 410.23 L970.38 411.55 L969.26 412.25 L968.36 412.05 L968.02 411.03 L968.37 409.59 L969.28 408.27 L970.4 407.58 L971.3 407.77 Z"/><path d="M976 364.07 L975.65 365.49 L974.75 366.79 L973.64 367.47 L972.75 367.28 L972.41 366.28 L972.75 364.86 L973.65 363.56 L974.76 362.87 L975.66 363.07 Z"/><path d="M975.98 369.64 L975.64 371.07 L974.74 372.37 L973.62 373.06 L972.73 372.86 L972.39 371.86 L972.74 370.44 L973.64 369.13 L974.75 368.45 L975.64 368.64 Z"/><path d="M975.97 375.23 L975.62 376.66 L974.72 377.97 L973.61 378.65 L972.71 378.46 L972.37 377.45 L972.72 376.03 L973.62 374.72 L974.73 374.03 L975.63 374.23 Z"/><path d="M975.95 380.83 L975.61 382.26 L974.7 383.57 L973.59 384.26 L972.69 384.06 L972.35 383.06 L972.7 381.63 L973.6 380.32 L974.72 379.63 L975.61 379.83 Z"/><path d="M975.94 386.44 L975.59 387.87 L974.69 389.19 L973.57 389.87 L972.67 389.68 L972.33 388.67 L972.68 387.24 L973.58 385.93 L974.7 385.24 L975.6 385.43 Z"/><path d="M975.92 392.06 L975.58 393.5 L974.67 394.81 L973.55 395.5 L972.65 395.3 L972.31 394.29 L972.66 392.86 L973.57 391.55 L974.68 390.86 L975.58 391.05 Z"/><path d="M975.91 397.69 L975.56 399.13 L974.65 400.45 L973.54 401.14 L972.63 400.94 L972.29 399.93 L972.64 398.49 L973.55 397.18 L974.67 396.48 L975.57 396.68 Z"/><path d="M975.89 403.34 L975.54 404.78 L974.64 406.1 L973.52 406.79 L972.62 406.59 L972.27 405.58 L972.62 404.13 L973.53 402.82 L974.65 402.12 L975.55 402.32 Z"/><path d="M980.21 364.26 L979.86 365.68 L978.96 366.98 L977.85 367.67 L976.95 367.47 L976.61 366.47 L976.96 365.05 L977.86 363.75 L978.97 363.07 L979.86 363.26 Z"/><path d="M980.19 369.84 L979.85 371.26 L978.95 372.57 L977.84 373.25 L976.94 373.06 L976.6 372.06 L976.94 370.63 L977.85 369.33 L978.96 368.64 L979.85 368.84 Z"/><path d="M980.18 375.43 L979.84 376.86 L978.93 378.16 L977.82 378.85 L976.92 378.65 L976.58 377.65 L976.93 376.22 L977.83 374.91 L978.94 374.23 L979.84 374.43 Z"/><path d="M980.17 381.03 L979.82 382.46 L978.92 383.77 L977.81 384.45 L976.91 384.26 L976.57 383.25 L976.92 381.82 L977.82 380.51 L978.93 379.83 L979.83 380.02 Z"/><path d="M980.16 386.64 L979.81 388.07 L978.91 389.38 L977.79 390.07 L976.89 389.87 L976.55 388.87 L976.9 387.43 L977.8 386.12 L978.92 385.43 L979.82 385.63 Z"/><path d="M980.15 392.26 L979.8 393.69 L978.9 395.01 L977.78 395.7 L976.88 395.5 L976.54 394.49 L976.89 393.06 L977.79 391.74 L978.91 391.05 L979.81 391.25 Z"/><path d="M980.14 397.89 L979.79 399.33 L978.88 400.65 L977.77 401.34 L976.87 401.14 L976.52 400.13 L976.87 398.69 L977.78 397.37 L978.89 396.68 L979.79 396.88 Z"/><path d="M980.13 403.53 L979.78 404.97 L978.87 406.29 L977.75 406.99 L976.85 406.79 L976.51 405.77 L976.86 404.33 L977.76 403.01 L978.88 402.32 L979.78 402.52 Z"/><path d="M984.42 358.89 L984.07 360.31 L983.18 361.61 L982.07 362.29 L981.17 362.09 L980.83 361.09 L981.18 359.67 L982.07 358.38 L983.18 357.69 L984.08 357.89 Z"/><path d="M984.41 364.46 L984.07 365.88 L983.17 367.18 L982.06 367.86 L981.16 367.67 L980.82 366.67 L981.17 365.24 L982.06 363.94 L983.17 363.26 L984.07 363.46 Z"/><path d="M984.4 370.03 L984.06 371.46 L983.16 372.76 L982.05 373.45 L981.15 373.25 L980.81 372.25 L981.15 370.82 L982.05 369.52 L983.17 368.84 L984.06 369.03 Z"/><path d="M984.4 375.62 L984.05 377.05 L983.15 378.36 L982.04 379.04 L981.14 378.85 L980.8 377.84 L981.14 376.42 L982.05 375.11 L983.16 374.42 L984.05 374.62 Z"/><path d="M984.39 381.22 L984.04 382.65 L983.14 383.96 L982.03 384.65 L981.13 384.45 L980.79 383.45 L981.13 382.02 L982.04 380.71 L983.15 380.02 L984.05 380.22 Z"/><path d="M984.38 386.83 L984.04 388.27 L983.13 389.58 L982.02 390.27 L981.12 390.07 L980.78 389.06 L981.12 387.63 L982.03 386.32 L983.14 385.63 L984.04 385.83 Z"/><path d="M984.37 392.46 L984.03 393.89 L983.12 395.21 L982.01 395.9 L981.11 395.7 L980.77 394.69 L981.11 393.25 L982.02 391.94 L983.13 391.25 L984.03 391.45 Z"/><path d="M984.37 398.09 L984.02 399.53 L983.12 400.84 L982 401.54 L981.1 401.34 L980.75 400.32 L981.1 398.89 L982.01 397.57 L983.12 396.88 L984.02 397.08 Z"/><path d="M988.62 359.08 L988.28 360.5 L987.38 361.8 L986.27 362.48 L985.38 362.29 L985.03 361.29 L985.38 359.87 L986.28 358.57 L987.38 357.89 L988.28 358.08 Z"/><path d="M988.62 364.65 L988.27 366.07 L987.38 367.37 L986.27 368.06 L985.37 367.86 L985.03 366.86 L985.37 365.44 L986.27 364.14 L987.38 363.45 L988.28 363.65 Z"/><path d="M988.61 370.23 L988.27 371.65 L987.37 372.96 L986.26 373.64 L985.36 373.45 L985.02 372.44 L985.37 371.02 L986.26 369.72 L987.37 369.03 L988.27 369.23 Z"/><path d="M988.61 375.82 L988.27 377.25 L987.37 378.55 L986.25 379.24 L985.36 379.04 L985.01 378.04 L985.36 376.61 L986.26 375.3 L987.37 374.62 L988.27 374.82 Z"/><path d="M988.61 381.42 L988.26 382.85 L987.36 384.16 L986.25 384.85 L985.35 384.65 L985.01 383.64 L985.35 382.21 L986.25 380.9 L987.37 380.22 L988.26 380.41 Z"/><path d="M988.6 387.03 L988.26 388.46 L987.36 389.78 L986.24 390.47 L985.34 390.27 L985 389.26 L985.35 387.83 L986.25 386.51 L987.36 385.83 L988.26 386.02 Z"/><path d="M988.6 392.65 L988.26 394.09 L987.35 395.4 L986.24 396.09 L985.34 395.9 L984.99 394.89 L985.34 393.45 L986.24 392.14 L987.36 391.45 L988.26 391.64 Z"/><path d="M988.6 398.29 L988.25 399.72 L987.35 401.04 L986.23 401.73 L985.33 401.53 L984.99 400.52 L985.33 399.08 L986.24 397.77 L987.35 397.08 L988.25 397.28 Z"/></clipPath>
<g clip-path="url(#fgi)">
<path d="M983.55 381.01 L983.36 383.86 L982.8 386.87 L981.88 389.98 L980.63 393.09 L979.07 396.14 L977.25 399.06 L975.21 401.76 L973 404.19 L970.67 406.27 L968.28 407.97 L965.89 409.23 L963.56 410.03 L961.35 410.34 L959.31 410.16 L957.5 409.49 L955.95 408.35 L954.72 406.77 L953.81 404.78 L953.27 402.44 L953.1 399.81 L953.31 396.95 L953.89 393.92 L954.82 390.82 L956.08 387.71 L957.65 384.66 L959.47 381.76 L961.51 379.08 L963.72 376.67 L966.04 374.61 L968.42 372.93 L970.79 371.68 L973.1 370.9 L975.3 370.59 L977.32 370.76 L979.13 371.42 L980.67 372.55 L981.91 374.11 L982.82 376.08 L983.37 378.4 Z" stroke-width="2.4" stroke="#1e1e1e"/>
<path d="M974.72 386.46 L975.99 386.67 L977.14 387.28 L978.1 388.31 L978.84 389.75 L979.33 391.59 L979.51 393.8 L979.36 396.35 L978.87 399.21" stroke-width="2.4" stroke="#222"/>
<path d="M972.3 393.68 L972.42 395.38 L972.23 397.35 L971.72 399.56 L970.89 401.93 L969.73 404.42 L968.26 406.96 L966.48 409.47 L964.44 411.89" stroke-width="2.4" stroke="#222"/>
<path d="M966.9 398.43 L965.77 400.35 L964.38 402.2 L962.78 403.92 L960.99 405.44 L959.07 406.7 L957.05 407.64 L954.99 408.21 L952.94 408.36" stroke-width="2.4" stroke="#222"/>
<path d="M962.59 397.13 L961.06 397.82 L959.53 398.15 L958.04 398.08 L956.65 397.6 L955.42 396.69 L954.38 395.33 L953.59 393.53 L953.09 391.31" stroke-width="2.4" stroke="#222"/>
<path d="M962.62 390.76 L961.85 389.71 L961.32 388.27 L961.07 386.48 L961.13 384.37 L961.5 381.98 L962.22 379.37 L963.29 376.58 L964.69 373.68" stroke-width="2.4" stroke="#222"/>
<path d="M966.96 384.13 L967.53 382.13 L968.4 380.02 L969.56 377.86 L971.01 375.72 L972.71 373.66 L974.63 371.75 L976.74 370.06 L979 368.65" stroke-width="2.4" stroke="#222"/>
<path d="M972.34 382.22 L973.81 380.79 L975.42 379.58 L977.13 378.67 L978.88 378.1 L980.63 377.91 L982.32 378.14 L983.9 378.82 L985.31 379.97" stroke-width="2.4" stroke="#222"/>
<path d="M955 379.17 L954.42 381.96 L952.85 384.7 L950.72 386.66 L948.6 387.32 L947.05 386.49 L946.5 384.4 L947.09 381.61 L948.66 378.87 L950.79 376.92 L952.91 376.26 L954.45 377.09 Z" fill="#2a2a2a" stroke="none"/>
<path d="M990.26 357.47 L989.69 360.23 L988.15 362.96 L986.04 364.91 L983.92 365.56 L982.38 364.74 L981.82 362.66 L982.39 359.89 L983.94 357.17 L986.05 355.23 L988.15 354.58 L989.69 355.4 Z" fill="#2a2a2a" stroke="none"/>
<path d="M954.75 418.39 L954.17 421.21 L952.59 423.99 L950.44 425.98 L948.31 426.64 L946.75 425.8 L946.2 423.69 L946.79 420.86 L948.37 418.08 L950.51 416.1 L952.64 415.44 L954.2 416.28 Z" fill="#2a2a2a" stroke="none"/>
<path d="M990.25 396.41 L989.68 399.21 L988.12 401.97 L986 403.95 L983.87 404.6 L982.32 403.77 L981.75 401.67 L982.32 398.86 L983.88 396.11 L986.01 394.14 L988.13 393.48 L989.68 394.31 Z" fill="#2a2a2a" stroke="none"/>
</g>
<path d="M950.7 379.64 L950.34 381.09 L949.41 382.43 L948.27 383.13 L947.36 382.93 L947.02 381.9 L947.38 380.44 L948.3 379.11 L949.44 378.41 L950.36 378.61 Z" stroke-width="1.1" stroke="#222"/>
<path d="M950.66 385.24 L950.3 386.7 L949.37 388.04 L948.23 388.74 L947.32 388.54 L946.97 387.51 L947.34 386.05 L948.26 384.72 L949.4 384.02 L950.32 384.22 Z" stroke-width="1.1" stroke="#222"/>
<path d="M950.62 390.86 L950.26 392.32 L949.33 393.66 L948.19 394.36 L947.27 394.16 L946.93 393.13 L947.29 391.67 L948.22 390.33 L949.36 389.63 L950.28 389.83 Z" stroke-width="1.1" stroke="#222"/>
<path d="M950.58 396.49 L950.22 397.95 L949.29 399.29 L948.15 400 L947.23 399.8 L946.89 398.77 L947.25 397.3 L948.18 395.96 L949.32 395.26 L950.24 395.46 Z" stroke-width="1.1" stroke="#222"/>
<path d="M950.54 402.13 L950.18 403.59 L949.25 404.94 L948.11 405.64 L947.19 405.44 L946.84 404.41 L947.21 402.94 L948.14 401.6 L949.28 400.89 L950.2 401.09 Z" stroke-width="1.1" stroke="#222"/>
<path d="M950.5 407.77 L950.14 409.25 L949.21 410.59 L948.06 411.3 L947.14 411.1 L946.8 410.06 L947.16 408.59 L948.09 407.24 L949.24 406.54 L950.16 406.74 Z" stroke-width="1.1" stroke="#222"/>
<path d="M950.46 413.43 L950.1 414.91 L949.17 416.26 L948.02 416.97 L947.1 416.76 L946.76 415.73 L947.12 414.25 L948.05 412.9 L949.2 412.2 L950.12 412.4 Z" stroke-width="1.1" stroke="#222"/>
<path d="M950.42 419.11 L950.06 420.58 L949.13 421.93 L947.98 422.64 L947.06 422.44 L946.71 421.4 L947.08 419.92 L948.01 418.57 L949.16 417.86 L950.08 418.07 Z" stroke-width="1.1" stroke="#222"/>
<path d="M954.91 379.83 L954.55 381.29 L953.63 382.62 L952.49 383.32 L951.57 383.12 L951.23 382.1 L951.59 380.64 L952.52 379.31 L953.65 378.61 L954.57 378.81 Z" stroke-width="1.1" stroke="#222"/>
<path d="M954.88 385.44 L954.52 386.9 L953.59 388.24 L952.45 388.94 L951.54 388.74 L951.19 387.71 L951.55 386.25 L952.48 384.91 L953.62 384.21 L954.53 384.41 Z" stroke-width="1.1" stroke="#222"/>
<path d="M954.84 391.06 L954.48 392.52 L953.55 393.86 L952.41 394.56 L951.5 394.36 L951.15 393.33 L951.51 391.87 L952.44 390.53 L953.58 389.83 L954.5 390.03 Z" stroke-width="1.1" stroke="#222"/>
<path d="M954.81 396.68 L954.45 398.15 L953.52 399.49 L952.38 400.2 L951.46 399.99 L951.11 398.96 L951.48 397.5 L952.4 396.16 L953.54 395.45 L954.46 395.65 Z" stroke-width="1.1" stroke="#222"/>
<path d="M954.77 402.32 L954.41 403.79 L953.48 405.14 L952.34 405.84 L951.42 405.64 L951.08 404.61 L951.44 403.14 L952.37 401.79 L953.51 401.09 L954.43 401.29 Z" stroke-width="1.1" stroke="#222"/>
<path d="M954.73 407.97 L954.37 409.44 L953.44 410.79 L952.3 411.5 L951.38 411.3 L951.04 410.26 L951.4 408.79 L952.33 407.44 L953.47 406.74 L954.39 406.94 Z" stroke-width="1.1" stroke="#222"/>
<path d="M954.7 413.63 L954.34 415.11 L953.41 416.46 L952.26 417.17 L951.34 416.96 L951 415.92 L951.36 414.45 L952.29 413.1 L953.43 412.39 L954.35 412.6 Z" stroke-width="1.1" stroke="#222"/>
<path d="M954.66 419.31 L954.3 420.78 L953.37 422.13 L952.22 422.84 L951.3 422.64 L950.96 421.6 L951.32 420.12 L952.25 418.77 L953.4 418.06 L954.32 418.27 Z" stroke-width="1.1" stroke="#222"/>
<path d="M959.16 374.43 L958.8 375.89 L957.88 377.22 L956.74 377.92 L955.83 377.72 L955.48 376.69 L955.84 375.24 L956.76 373.91 L957.9 373.21 L958.81 373.41 Z" stroke-width="1.1" stroke="#222"/>
<path d="M959.13 380.03 L958.77 381.49 L957.84 382.82 L956.71 383.52 L955.79 383.32 L955.45 382.29 L955.81 380.84 L956.73 379.5 L957.87 378.8 L958.78 379 Z" stroke-width="1.1" stroke="#222"/>
<path d="M959.1 385.63 L958.74 387.1 L957.81 388.43 L956.67 389.13 L955.76 388.93 L955.41 387.91 L955.77 386.44 L956.7 385.11 L957.83 384.41 L958.75 384.61 Z" stroke-width="1.1" stroke="#222"/>
<path d="M959.06 391.25 L958.7 392.72 L957.78 394.06 L956.64 394.76 L955.72 394.56 L955.38 393.53 L955.74 392.06 L956.66 390.73 L957.8 390.02 L958.72 390.22 Z" stroke-width="1.1" stroke="#222"/>
<path d="M959.03 396.88 L958.67 398.35 L957.75 399.69 L956.6 400.39 L955.69 400.19 L955.34 399.16 L955.7 397.69 L956.63 396.35 L957.77 395.65 L958.69 395.85 Z" stroke-width="1.1" stroke="#222"/>
<path d="M959 402.52 L958.64 403.99 L957.71 405.33 L956.57 406.04 L955.65 405.84 L955.31 404.8 L955.67 403.34 L956.6 401.99 L957.74 401.29 L958.65 401.49 Z" stroke-width="1.1" stroke="#222"/>
<path d="M958.97 408.17 L958.61 409.64 L957.68 410.99 L956.54 411.7 L955.62 411.49 L955.27 410.46 L955.63 408.99 L956.56 407.64 L957.7 406.94 L958.62 407.14 Z" stroke-width="1.1" stroke="#222"/>
<path d="M958.94 413.83 L958.58 415.31 L957.65 416.66 L956.5 417.36 L955.58 417.16 L955.24 416.12 L955.6 414.65 L956.53 413.3 L957.67 412.59 L958.59 412.8 Z" stroke-width="1.1" stroke="#222"/>
<path d="M963.37 374.63 L963.01 376.08 L962.09 377.41 L960.95 378.11 L960.04 377.91 L959.69 376.89 L960.05 375.43 L960.97 374.1 L962.11 373.4 L963.02 373.6 Z" stroke-width="1.1" stroke="#222"/>
<path d="M963.34 380.22 L962.98 381.68 L962.06 383.02 L960.92 383.72 L960.01 383.52 L959.66 382.49 L960.02 381.03 L960.94 379.7 L962.08 379 L963 379.2 Z" stroke-width="1.1" stroke="#222"/>
<path d="M963.31 385.83 L962.96 387.29 L962.03 388.63 L960.89 389.33 L959.98 389.13 L959.63 388.1 L959.99 386.64 L960.92 385.31 L962.05 384.6 L962.97 384.8 Z" stroke-width="1.1" stroke="#222"/>
<path d="M963.29 391.45 L962.93 392.91 L962 394.25 L960.86 394.96 L959.95 394.75 L959.6 393.72 L959.96 392.26 L960.89 390.92 L962.02 390.22 L962.94 390.42 Z" stroke-width="1.1" stroke="#222"/>
<path d="M963.26 397.08 L962.9 398.55 L961.97 399.89 L960.83 400.59 L959.92 400.39 L959.57 399.36 L959.93 397.89 L960.86 396.55 L962 395.85 L962.91 396.05 Z" stroke-width="1.1" stroke="#222"/>
<path d="M963.23 402.72 L962.87 404.19 L961.95 405.53 L960.8 406.24 L959.88 406.04 L959.54 405 L959.9 403.53 L960.83 402.19 L961.97 401.48 L962.89 401.69 Z" stroke-width="1.1" stroke="#222"/>
<path d="M963.2 408.37 L962.84 409.84 L961.92 411.19 L960.77 411.9 L959.85 411.69 L959.51 410.66 L959.87 409.19 L960.8 407.84 L961.94 407.13 L962.86 407.34 Z" stroke-width="1.1" stroke="#222"/>
<path d="M963.18 414.03 L962.82 415.51 L961.89 416.86 L960.74 417.56 L959.82 417.36 L959.48 416.32 L959.84 414.85 L960.77 413.5 L961.91 412.79 L962.83 413 Z" stroke-width="1.1" stroke="#222"/>
<path d="M967.6 369.23 L967.25 370.69 L966.33 372.02 L965.19 372.71 L964.28 372.51 L963.93 371.49 L964.29 370.04 L965.21 368.71 L966.34 368.01 L967.26 368.21 Z" stroke-width="1.1" stroke="#222"/>
<path d="M967.58 374.82 L967.22 376.28 L966.3 377.61 L965.17 378.31 L964.25 378.11 L963.91 377.08 L964.26 375.63 L965.19 374.3 L966.32 373.6 L967.23 373.8 Z" stroke-width="1.1" stroke="#222"/>
<path d="M967.56 380.42 L967.2 381.88 L966.28 383.21 L965.14 383.91 L964.23 383.71 L963.88 382.69 L964.24 381.23 L965.16 379.89 L966.3 379.19 L967.21 379.39 Z" stroke-width="1.1" stroke="#222"/>
<path d="M967.53 386.03 L967.18 387.49 L966.25 388.82 L965.12 389.53 L964.2 389.33 L963.85 388.3 L964.21 386.84 L965.13 385.5 L966.27 384.8 L967.19 385 Z" stroke-width="1.1" stroke="#222"/>
<path d="M967.51 391.65 L967.15 393.11 L966.23 394.45 L965.09 395.15 L964.17 394.95 L963.83 393.92 L964.18 392.46 L965.11 391.12 L966.25 390.42 L967.16 390.62 Z" stroke-width="1.1" stroke="#222"/>
<path d="M967.49 397.28 L967.13 398.74 L966.2 400.08 L965.06 400.79 L964.14 400.59 L963.8 399.56 L964.16 398.09 L965.08 396.75 L966.22 396.04 L967.14 396.25 Z" stroke-width="1.1" stroke="#222"/>
<path d="M967.46 402.92 L967.11 404.39 L966.18 405.73 L965.04 406.44 L964.12 406.23 L963.77 405.2 L964.13 403.73 L965.06 402.39 L966.2 401.68 L967.12 401.88 Z" stroke-width="1.1" stroke="#222"/>
<path d="M967.44 408.57 L967.08 410.04 L966.15 411.39 L965.01 412.09 L964.09 411.89 L963.74 410.86 L964.1 409.38 L965.03 408.04 L966.17 407.33 L967.09 407.53 Z" stroke-width="1.1" stroke="#222"/>
<path d="M971.81 369.43 L971.46 370.88 L970.54 372.21 L969.4 372.91 L968.49 372.71 L968.14 371.69 L968.5 370.23 L969.42 368.91 L970.55 368.21 L971.47 368.41 Z" stroke-width="1.1" stroke="#222"/>
<path d="M971.79 375.02 L971.44 376.47 L970.52 377.8 L969.38 378.5 L968.47 378.3 L968.12 377.28 L968.48 375.82 L969.4 374.49 L970.53 373.79 L971.45 373.99 Z" stroke-width="1.1" stroke="#222"/>
<path d="M971.77 380.61 L971.42 382.07 L970.5 383.41 L969.36 384.11 L968.44 383.91 L968.1 382.88 L968.45 381.42 L969.37 380.09 L970.51 379.39 L971.43 379.59 Z" stroke-width="1.1" stroke="#222"/>
<path d="M971.75 386.22 L971.4 387.68 L970.48 389.02 L969.34 389.72 L968.42 389.52 L968.07 388.49 L968.43 387.03 L969.35 385.7 L970.49 385 L971.41 385.2 Z" stroke-width="1.1" stroke="#222"/>
<path d="M971.73 391.84 L971.38 393.31 L970.45 394.65 L969.32 395.35 L968.4 395.15 L968.05 394.12 L968.41 392.66 L969.33 391.32 L970.47 390.61 L971.39 390.82 Z" stroke-width="1.1" stroke="#222"/>
<path d="M971.71 397.47 L971.36 398.94 L970.43 400.28 L969.29 400.99 L968.38 400.79 L968.03 399.75 L968.39 398.29 L969.31 396.95 L970.45 396.24 L971.37 396.44 Z" stroke-width="1.1" stroke="#222"/>
<path d="M971.7 403.12 L971.34 404.58 L970.41 405.93 L969.27 406.64 L968.35 406.43 L968 405.4 L968.36 403.93 L969.29 402.59 L970.43 401.88 L971.35 402.08 Z" stroke-width="1.1" stroke="#222"/>
<path d="M971.68 408.77 L971.32 410.24 L970.39 411.59 L969.25 412.29 L968.33 412.09 L967.98 411.06 L968.34 409.58 L969.27 408.24 L970.41 407.53 L971.33 407.73 Z" stroke-width="1.1" stroke="#222"/>
<path d="M976.04 364.05 L975.68 365.5 L974.76 366.82 L973.63 367.52 L972.72 367.32 L972.37 366.3 L972.73 364.85 L973.64 363.52 L974.78 362.83 L975.69 363.03 Z" stroke-width="1.1" stroke="#222"/>
<path d="M976.02 369.62 L975.67 371.08 L974.75 372.41 L973.61 373.1 L972.7 372.9 L972.35 371.88 L972.71 370.43 L973.63 369.1 L974.76 368.4 L975.67 368.6 Z" stroke-width="1.1" stroke="#222"/>
<path d="M976 375.21 L975.65 376.67 L974.73 378 L973.6 378.7 L972.68 378.5 L972.33 377.47 L972.69 376.02 L973.61 374.69 L974.74 373.99 L975.66 374.19 Z" stroke-width="1.1" stroke="#222"/>
<path d="M975.99 380.81 L975.64 382.27 L974.71 383.6 L973.58 384.3 L972.66 384.1 L972.31 383.08 L972.67 381.62 L973.59 380.29 L974.73 379.59 L975.64 379.79 Z" stroke-width="1.1" stroke="#222"/>
<path d="M975.97 386.42 L975.62 387.88 L974.7 389.22 L973.56 389.92 L972.64 389.72 L972.3 388.69 L972.65 387.23 L973.57 385.89 L974.71 385.19 L975.63 385.39 Z" stroke-width="1.1" stroke="#222"/>
<path d="M975.96 392.04 L975.6 393.5 L974.68 394.84 L973.54 395.55 L972.62 395.35 L972.28 394.32 L972.63 392.85 L973.56 391.51 L974.69 390.81 L975.61 391.01 Z" stroke-width="1.1" stroke="#222"/>
<path d="M975.94 397.67 L975.59 399.14 L974.66 400.48 L973.53 401.19 L972.61 400.98 L972.26 399.95 L972.61 398.48 L973.54 397.14 L974.68 396.44 L975.59 396.64 Z" stroke-width="1.1" stroke="#222"/>
<path d="M975.93 403.31 L975.57 404.78 L974.65 406.13 L973.51 406.83 L972.59 406.63 L972.24 405.6 L972.6 404.13 L973.52 402.78 L974.66 402.08 L975.58 402.28 Z" stroke-width="1.1" stroke="#222"/>
<path d="M980.24 364.24 L979.89 365.69 L978.97 367.02 L977.84 367.71 L976.92 367.51 L976.58 366.49 L976.93 365.04 L977.85 363.72 L978.98 363.02 L979.89 363.22 Z" stroke-width="1.1" stroke="#222"/>
<path d="M980.23 369.82 L979.88 371.27 L978.96 372.6 L977.82 373.3 L976.91 373.1 L976.56 372.08 L976.92 370.62 L977.83 369.29 L978.97 368.6 L979.88 368.8 Z" stroke-width="1.1" stroke="#222"/>
<path d="M980.22 375.41 L979.87 376.86 L978.95 378.19 L977.81 378.89 L976.9 378.69 L976.55 377.67 L976.9 376.21 L977.82 374.88 L978.95 374.18 L979.87 374.38 Z" stroke-width="1.1" stroke="#222"/>
<path d="M980.21 381.01 L979.85 382.46 L978.93 383.8 L977.8 384.5 L976.88 384.3 L976.53 383.27 L976.89 381.82 L977.81 380.48 L978.94 379.78 L979.86 379.98 Z" stroke-width="1.1" stroke="#222"/>
<path d="M980.2 386.62 L979.84 388.08 L978.92 389.41 L977.78 390.12 L976.87 389.92 L976.52 388.89 L976.87 387.43 L977.79 386.09 L978.93 385.39 L979.85 385.59 Z" stroke-width="1.1" stroke="#222"/>
<path d="M980.18 392.24 L979.83 393.7 L978.91 395.04 L977.77 395.74 L976.85 395.54 L976.5 394.51 L976.86 393.05 L977.78 391.71 L978.92 391.01 L979.84 391.21 Z" stroke-width="1.1" stroke="#222"/>
<path d="M980.17 397.87 L979.82 399.34 L978.9 400.68 L977.76 401.38 L976.84 401.18 L976.49 400.15 L976.84 398.68 L977.77 397.34 L978.9 396.64 L979.82 396.84 Z" stroke-width="1.1" stroke="#222"/>
<path d="M980.16 403.51 L979.81 404.98 L978.88 406.33 L977.74 407.03 L976.82 406.83 L976.47 405.8 L976.83 404.33 L977.75 402.98 L978.89 402.28 L979.81 402.48 Z" stroke-width="1.1" stroke="#222"/>
<path d="M984.45 358.87 L984.1 360.31 L983.19 361.64 L982.06 362.33 L981.14 362.13 L980.8 361.12 L981.15 359.67 L982.06 358.34 L983.19 357.65 L984.11 357.85 Z" stroke-width="1.1" stroke="#222"/>
<path d="M984.45 364.43 L984.1 365.88 L983.18 367.21 L982.05 367.91 L981.13 367.71 L980.78 366.69 L981.14 365.24 L982.05 363.91 L983.18 363.22 L984.1 363.41 Z" stroke-width="1.1" stroke="#222"/>
<path d="M984.44 370.01 L984.09 371.47 L983.17 372.8 L982.04 373.49 L981.12 373.29 L980.77 372.27 L981.13 370.82 L982.04 369.49 L983.18 368.79 L984.09 368.99 Z" stroke-width="1.1" stroke="#222"/>
<path d="M984.43 375.6 L984.08 377.06 L983.16 378.39 L982.03 379.09 L981.11 378.89 L980.76 377.87 L981.12 376.41 L982.03 375.08 L983.17 374.38 L984.08 374.58 Z" stroke-width="1.1" stroke="#222"/>
<path d="M984.42 381.2 L984.07 382.66 L983.15 384 L982.02 384.7 L981.1 384.5 L980.75 383.47 L981.11 382.01 L982.02 380.68 L983.16 379.98 L984.08 380.18 Z" stroke-width="1.1" stroke="#222"/>
<path d="M984.42 386.81 L984.06 388.27 L983.14 389.61 L982.01 390.31 L981.09 390.11 L980.74 389.08 L981.09 387.62 L982.01 386.29 L983.15 385.58 L984.07 385.79 Z" stroke-width="1.1" stroke="#222"/>
<path d="M984.41 392.43 L984.06 393.9 L983.14 395.24 L982 395.94 L981.08 395.74 L980.73 394.71 L981.08 393.25 L982.01 391.91 L983.14 391.2 L984.06 391.41 Z" stroke-width="1.1" stroke="#222"/>
<path d="M984.4 398.07 L984.05 399.53 L983.13 400.88 L981.99 401.58 L981.07 401.38 L980.72 400.35 L981.07 398.88 L982 397.54 L983.13 396.83 L984.05 397.04 Z" stroke-width="1.1" stroke="#222"/>
<path d="M988.66 359.06 L988.31 360.51 L987.39 361.83 L986.26 362.53 L985.35 362.33 L985 361.31 L985.35 359.86 L986.26 358.54 L987.39 357.84 L988.31 358.04 Z" stroke-width="1.1" stroke="#222"/>
<path d="M988.65 364.63 L988.3 366.08 L987.39 367.41 L986.26 368.1 L985.34 367.9 L984.99 366.88 L985.34 365.43 L986.26 364.11 L987.39 363.41 L988.3 363.61 Z" stroke-width="1.1" stroke="#222"/>
<path d="M988.65 370.21 L988.3 371.66 L987.38 372.99 L986.25 373.69 L985.33 373.49 L984.99 372.47 L985.34 371.01 L986.25 369.68 L987.39 368.99 L988.3 369.19 Z" stroke-width="1.1" stroke="#222"/>
<path d="M988.65 375.8 L988.3 377.25 L987.38 378.59 L986.24 379.29 L985.33 379.08 L984.98 378.06 L985.33 376.6 L986.25 375.27 L987.38 374.57 L988.3 374.77 Z" stroke-width="1.1" stroke="#222"/>
<path d="M988.64 381.4 L988.29 382.86 L987.37 384.19 L986.24 384.89 L985.32 384.69 L984.97 383.67 L985.32 382.21 L986.24 380.87 L987.38 380.17 L988.29 380.37 Z" stroke-width="1.1" stroke="#222"/>
<path d="M988.64 387.01 L988.29 388.47 L987.37 389.81 L986.23 390.51 L985.31 390.31 L984.96 389.28 L985.32 387.82 L986.24 386.48 L987.37 385.78 L988.29 385.98 Z" stroke-width="1.1" stroke="#222"/>
<path d="M988.64 392.63 L988.28 394.1 L987.36 395.44 L986.23 396.14 L985.31 395.94 L984.96 394.91 L985.31 393.44 L986.23 392.1 L987.37 391.4 L988.29 391.6 Z" stroke-width="1.1" stroke="#222"/>
<path d="M988.63 398.26 L988.28 399.73 L987.36 401.07 L986.22 401.78 L985.3 401.58 L984.95 400.54 L985.3 399.08 L986.23 397.74 L987.36 397.03 L988.28 397.23 Z" stroke-width="1.1" stroke="#222"/>
<path d="M1022.57 348.19 L1022.28 349.87 L1021.46 351.58 L1020.25 352.99 L1018.91 353.82 L1017.7 353.9 L1016.86 353.21 L1016.56 351.89 L1016.85 350.21 L1017.68 348.5 L1018.88 347.09 L1020.22 346.26 L1021.43 346.19 L1022.27 346.87 Z" stroke-width="1.2" fill="#fff"/>
<path d="M1021.11 349.09 L1020.82 350.31 L1020.05 351.43 L1019.1 352.01 L1018.33 351.85 L1018.03 350.99 L1018.32 349.77 L1019.08 348.65 L1020.03 348.07 L1020.81 348.23 Z" stroke-width="0.9" fill="#444"/>
<path d="M1054.36 328.6 L1054.08 330.27 L1053.27 331.97 L1052.07 333.37 L1050.74 334.2 L1049.54 334.27 L1048.69 333.59 L1048.38 332.28 L1048.67 330.61 L1049.48 328.9 L1050.68 327.5 L1052.01 326.69 L1053.21 326.61 L1054.05 327.29 Z" stroke-width="1.2" fill="#fff"/>
<path d="M1052.9 329.5 L1052.62 330.71 L1051.87 331.82 L1050.92 332.4 L1050.15 332.23 L1049.85 331.38 L1050.13 330.17 L1050.89 329.06 L1051.83 328.48 L1052.6 328.64 Z" stroke-width="0.9" fill="#444"/>
<path d="M1022.77 385.18 L1022.48 386.88 L1021.64 388.62 L1020.43 390.05 L1019.08 390.88 L1017.86 390.96 L1017.02 390.26 L1016.71 388.93 L1017 387.23 L1017.84 385.49 L1019.05 384.06 L1020.4 383.23 L1021.61 383.15 L1022.46 383.85 Z" stroke-width="1.2" fill="#fff"/>
<path d="M1021.29 386.09 L1021 387.33 L1020.23 388.46 L1019.27 389.05 L1018.49 388.88 L1018.19 388.01 L1018.48 386.78 L1019.25 385.65 L1020.21 385.05 L1020.99 385.22 Z" stroke-width="0.9" fill="#444"/>
<path d="M1054.76 365.35 L1054.48 367.04 L1053.65 368.77 L1052.45 370.19 L1051.11 371.02 L1049.9 371.1 L1049.05 370.4 L1048.74 369.08 L1049.02 367.39 L1049.85 365.66 L1051.05 364.24 L1052.38 363.41 L1053.6 363.34 L1054.44 364.03 Z" stroke-width="1.2" fill="#fff"/>
<path d="M1053.29 366.26 L1053.01 367.49 L1052.24 368.61 L1051.29 369.2 L1050.51 369.03 L1050.21 368.17 L1050.49 366.94 L1051.26 365.82 L1052.21 365.23 L1052.98 365.4 Z" stroke-width="0.9" fill="#444"/>
<path d="M932.18 441 L1062.01 360.49" stroke-width="0.8"/>
<path d="M843.04 388.2 L932.18 441" stroke-width="0.8"/>
<path d="M860.88 398.34 L872.89 405.46 L872.77 411.58 L860.74 404.44 Z" stroke-width="0.8"/>
<path d="M884.39 412.27 L896.5 419.44 L896.4 425.6 L884.28 418.41 Z" stroke-width="0.8"/>
<path d="M908.51 426.55 L920.65 433.74 L920.57 439.94 L908.43 432.73 Z" stroke-width="0.8"/>
<path d="M922.67 403.86 L923.73 404.82 L924.5 406.17 L924.78 407.57 L924.69 414.87 L924.39 415.93 L923.6 416.37 L922.52 416.07 L906.87 406.85 L905.81 405.89 L905.05 404.54 L904.78 403.14 L904.89 395.88 L905.19 394.83 L905.98 394.39 L907.05 394.69 Z" stroke-width="1.2" fill="#fff"/>
<path d="M922.5 418.37 L923.56 419.33 L924.34 420.7 L924.61 422.1 L924.53 428.86 L924.23 429.93 L923.44 430.37 L922.36 430.06 L906.67 420.79 L905.61 419.82 L904.84 418.46 L904.57 417.06 L904.67 410.34 L904.98 409.28 L905.77 408.84 L906.84 409.14 Z" stroke-width="1.2" fill="#fff"/>
<path d="M909.16 402.52 L908.88 403.48 L908.17 403.87 L907.21 403.6 L906.26 402.74 L905.57 401.52 L905.33 400.27 L905.6 399.32 L906.31 398.93 L907.27 399.19 L908.23 400.05 L908.92 401.27 Z" stroke-width="1.6" fill="#fff"/>
<path d="M923.67 411.06 L923.39 412.01 L922.68 412.41 L921.71 412.14 L920.76 411.28 L920.06 410.05 L919.82 408.8 L920.09 407.84 L920.8 407.45 L921.77 407.71 L922.73 408.58 L923.42 409.8 Z" stroke-width="1.6" fill="#fff"/>
<path d="M908.96 416.69 L908.68 417.64 L907.97 418.04 L907.01 417.77 L906.05 416.91 L905.36 415.68 L905.12 414.42 L905.39 413.47 L906.11 413.07 L907.07 413.34 L908.02 414.2 L908.72 415.43 Z" stroke-width="1.6" fill="#fff"/>
<path d="M923.5 425.28 L923.23 426.24 L922.51 426.63 L921.55 426.36 L920.58 425.49 L919.89 424.26 L919.64 423 L919.92 422.04 L920.63 421.64 L921.6 421.92 L922.56 422.78 L923.26 424.01 Z" stroke-width="1.6" fill="#fff"/>
<path d="M910.07 398.62 L919.09 403.92 L918.98 412.68 L909.95 407.36 Z" stroke-width="1.6"/>
<path d="M912.03 401.82 L917 404.75 L916.94 409.25 L911.97 406.32 Z" stroke-width="0.8"/>
<path d="M916.51 421.15 L916.17 422.32 L915.3 422.8 L914.12 422.47 L912.95 421.41 L912.1 419.91 L911.8 418.37 L912.14 417.2 L913.01 416.72 L914.19 417.05 L915.36 418.1 L916.21 419.6 Z" stroke-width="1"/>
<path d="M857.16 357.6 L856.84 358.89 L856 359.59 L854.81 359.55 L853.51 358.79 L852.35 357.45 L851.57 355.81 L851.32 354.18 L851.64 352.89 L852.48 352.19 L853.67 352.23 L854.96 352.99 L856.12 354.32 L856.9 355.97 Z" stroke-width="1.2" fill="#fff"/>
<path d="M855.7 356.74 L855.4 357.57 L854.65 357.75 L853.75 357.22 L853.03 356.19 L852.78 355.03 L853.08 354.21 L853.82 354.02 L854.73 354.55 L855.44 355.59 Z" stroke-width="0.9" fill="#444"/>
<path d="M889.06 376.29 L888.74 377.59 L887.9 378.3 L886.71 378.26 L885.39 377.49 L884.22 376.14 L883.42 374.48 L883.16 372.83 L883.48 371.53 L884.32 370.83 L885.51 370.87 L886.82 371.64 L888 372.99 L888.79 374.65 Z" stroke-width="1.2" fill="#fff"/>
<path d="M887.58 375.43 L887.28 376.26 L886.54 376.44 L885.62 375.91 L884.9 374.86 L884.63 373.7 L884.93 372.87 L885.68 372.68 L886.59 373.22 L887.32 374.26 Z" stroke-width="0.9" fill="#444"/>
<path d="M856.31 394.47 L855.98 395.78 L855.14 396.49 L853.95 396.45 L852.64 395.67 L851.47 394.31 L850.69 392.65 L850.43 391 L850.76 389.69 L851.6 388.99 L852.79 389.03 L854.1 389.8 L855.26 391.15 L856.05 392.82 Z" stroke-width="1.2" fill="#fff"/>
<path d="M854.84 393.6 L854.53 394.44 L853.79 394.62 L852.88 394.09 L852.16 393.03 L851.9 391.86 L852.2 391.03 L852.95 390.85 L853.86 391.38 L854.58 392.44 Z" stroke-width="0.9" fill="#444"/>
<path d="M888.41 413.48 L888.09 414.8 L887.24 415.5 L886.04 415.46 L884.72 414.68 L883.54 413.31 L882.74 411.63 L882.47 409.96 L882.79 408.65 L883.64 407.94 L884.84 407.98 L886.16 408.76 L887.34 410.13 L888.14 411.81 Z" stroke-width="1.2" fill="#fff"/>
<path d="M886.92 412.6 L886.62 413.44 L885.87 413.63 L884.95 413.08 L884.22 412.02 L883.95 410.84 L884.26 410 L885.01 409.81 L885.93 410.36 L886.66 411.42 Z" stroke-width="0.9" fill="#444"/>
<path d="M913.12 213.8 L917.09 211.84 L921.61 210.35 L926.53 209.38 L931.63 208.99 L936.75 209.17 L941.66 209.93 L946.2 211.23 L950.19 213.03 L1004.11 242.89 L1007.45 245.15 L1009.95 247.76 L1011.52 250.62 L1012.09 253.63 L1011.63 256.65 L1010.17 259.58 L1007.76 262.31 L1004.49 264.72 L952.42 296.35 L948.38 298.38 L943.76 299.92 L938.75 300.9 L933.53 301.3 L928.32 301.09 L923.31 300.29 L918.69 298.92 L914.65 297.04 L861.05 266.45 L857.8 264.18 L855.41 261.56 L853.95 258.7 L853.49 255.71 L854.05 252.7 L855.59 249.8 L858.05 247.1 L861.36 244.72 Z" stroke-width="0.9" fill="#fff"/>
<path d="M913.2 207.71 L917.17 205.75 L921.69 204.26 L926.6 203.3 L931.7 202.9 L936.8 203.08 L941.72 203.84 L946.25 205.13 L950.24 206.93 L1004.09 236.7 L1007.43 238.96 L1009.93 241.56 L1011.5 244.42 L1012.07 247.41 L1011.61 250.43 L1010.16 253.35 L1007.75 256.07 L1004.48 258.48 L952.46 290.05 L948.43 292.07 L943.81 293.61 L938.81 294.59 L933.6 294.99 L928.39 294.78 L923.38 293.98 L918.77 292.61 L914.73 290.74 L861.19 260.24 L857.95 257.97 L855.55 255.36 L854.1 252.51 L853.64 249.53 L854.19 246.53 L855.73 243.63 L858.2 240.94 L861.5 238.56 Z" stroke-width="0.9" fill="#fff"/>
<path d="M913.28 201.62 L917.25 199.67 L921.76 198.19 L926.67 197.23 L931.76 196.83 L936.86 197.01 L941.77 197.76 L946.3 199.05 L950.28 200.84 L1004.08 230.53 L1007.41 232.78 L1009.91 235.38 L1011.48 238.23 L1012.04 241.21 L1011.59 244.22 L1010.14 247.14 L1007.73 249.85 L1004.46 252.26 L952.51 283.76 L948.47 285.78 L943.87 287.31 L938.86 288.29 L933.66 288.69 L928.46 288.48 L923.46 287.68 L918.85 286.32 L914.82 284.46 L861.33 254.05 L858.09 251.78 L855.7 249.18 L854.25 246.33 L853.79 243.36 L854.34 240.37 L855.88 237.47 L858.34 234.79 L861.64 232.42 Z" stroke-width="1" fill="#fff"/>
<path d="M954.1 283.18 L954.03 294.99" stroke-width="0.8"/>
<path d="M1003.78 253.06 L1003.8 264.75" stroke-width="0.8"/>
<path d="M913.21 283.94 L913.05 295.73" stroke-width="0.8"/>
<path d="M864.13 256.03 L863.87 267.67" stroke-width="0.8"/>
<path d="M870.22 243.47 L870.73 244.06 L870.55 244.72 L869.73 245.2 L868.6 245.33 L867.59 245.05 L867.07 244.46 L867.26 243.8 L868.08 243.32 L869.21 243.19 Z" stroke-width="0.8"/>
<path d="M935.41 204.19 L935.93 204.77 L935.75 205.42 L934.95 205.9 L933.82 206.02 L932.81 205.75 L932.29 205.17 L932.47 204.52 L933.27 204.04 L934.39 203.92 Z" stroke-width="0.8"/>
<path d="M935.74 280.47 L936.26 281.07 L936.08 281.74 L935.27 282.24 L934.12 282.36 L933.09 282.07 L932.56 281.48 L932.74 280.81 L933.56 280.31 L934.7 280.18 Z" stroke-width="0.8"/>
<path d="M1001.34 240.78 L1001.88 241.37 L1001.71 242.03 L1000.9 242.52 L999.76 242.65 L998.73 242.36 L998.2 241.78 L998.37 241.11 L999.17 240.63 L1000.31 240.5 Z" stroke-width="0.8"/>
<path d="M977.19 217.27 L981.42 219.87 L985.16 222.73 L988.35 225.81 L990.96 229.09 L992.96 232.51 L994.33 236.06 L995.04 239.68 L995.1 243.34 L994.5 247 L993.23 250.62 L991.33 254.16 L988.8 257.58 L985.67 260.83 L981.98 263.89 L977.77 266.72 L973.08 269.29 L967.96 271.57 L962.48 273.52 L956.69 275.14 L950.65 276.4 L944.45 277.29 L938.14 277.8 L931.79 277.92 L925.48 277.65 L919.28 276.99 L913.26 275.96 L907.48 274.56 L902.01 272.81 L896.91 270.74 L892.23 268.35 L888.03 265.69 L884.35 262.78 L881.23 259.66 L878.7 256.35 L876.79 252.9 L875.53 249.35 L874.91 245.73 L874.95 242.08 L875.64 238.44 L876.98 234.85 L878.95 231.36 L881.53 227.99 L884.68 224.79 L888.38 221.79 L892.58 219.02 L897.24 216.51 L902.3 214.28 L907.71 212.37 L913.42 210.78 L919.36 209.54 L925.47 208.67 L931.68 208.16 L937.93 208.03 L944.14 208.27 L950.26 208.9 L956.22 209.88 L961.96 211.23 L967.4 212.92 L972.49 214.94 Z" stroke-width="1" fill="#fff"/>
<clipPath id="opc"><path d="M977.19 217.27 L981.42 219.87 L985.16 222.73 L988.35 225.81 L990.96 229.09 L992.96 232.51 L994.33 236.06 L995.04 239.68 L995.1 243.34 L994.5 247 L993.23 250.62 L991.33 254.16 L988.8 257.58 L985.67 260.83 L981.98 263.89 L977.77 266.72 L973.08 269.29 L967.96 271.57 L962.48 273.52 L956.69 275.14 L950.65 276.4 L944.45 277.29 L938.14 277.8 L931.79 277.92 L925.48 277.65 L919.28 276.99 L913.26 275.96 L907.48 274.56 L902.01 272.81 L896.91 270.74 L892.23 268.35 L888.03 265.69 L884.35 262.78 L881.23 259.66 L878.7 256.35 L876.79 252.9 L875.53 249.35 L874.91 245.73 L874.95 242.08 L875.64 238.44 L876.98 234.85 L878.95 231.36 L881.53 227.99 L884.68 224.79 L888.38 221.79 L892.58 219.02 L897.24 216.51 L902.3 214.28 L907.71 212.37 L913.42 210.78 L919.36 209.54 L925.47 208.67 L931.68 208.16 L937.93 208.03 L944.14 208.27 L950.26 208.9 L956.22 209.88 L961.96 211.23 L967.4 212.92 L972.49 214.94 Z"/></clipPath>
<g clip-path="url(#opc)">
<path d="M977.17 223.4 L981.41 226.01 L985.15 228.88 L988.34 231.97 L990.96 235.25 L992.96 238.69 L994.33 242.24 L995.05 245.87 L995.1 249.54 L994.5 253.21 L993.24 256.84 L991.33 260.39 L988.8 263.81 L985.67 267.07 L981.97 270.14 L977.75 272.98 L973.06 275.55 L967.93 277.83 L962.44 279.79 L956.65 281.41 L950.61 282.68 L944.39 283.56 L938.08 284.07 L931.72 284.19 L925.41 283.92 L919.2 283.26 L913.17 282.22 L907.39 280.82 L901.91 279.07 L896.8 276.98 L892.12 274.59 L887.92 271.92 L884.23 269.01 L881.11 265.87 L878.58 262.56 L876.67 259.1 L875.4 255.54 L874.78 251.9 L874.82 248.25 L875.52 244.6 L876.86 241.01 L878.83 237.51 L881.41 234.13 L884.57 230.92 L888.27 227.91 L892.47 225.14 L897.13 222.62 L902.2 220.39 L907.62 218.47 L913.34 216.88 L919.28 215.65 L925.4 214.77 L931.61 214.26 L937.87 214.13 L944.09 214.38 L950.22 215 L956.19 216 L961.92 217.35 L967.37 219.04 L972.47 221.07 Z" stroke-width="0.9"/>
<path d="M975.45 227.51 L979.52 230.02 L983.1 232.77 L986.17 235.74 L988.68 238.89 L990.6 242.19 L991.91 245.61 L992.59 249.1 L992.65 252.62 L992.06 256.15 L990.85 259.63 L989.02 263.03 L986.59 266.32 L983.58 269.46 L980.04 272.4 L975.99 275.12 L971.48 277.59 L966.56 279.78 L961.3 281.66 L955.73 283.22 L949.94 284.43 L943.98 285.28 L937.91 285.77 L931.82 285.88 L925.76 285.62 L919.8 284.99 L914.02 283.99 L908.46 282.65 L903.21 280.96 L898.31 278.96 L893.81 276.67 L889.77 274.11 L886.24 271.3 L883.24 268.29 L880.81 265.11 L878.97 261.79 L877.75 258.37 L877.16 254.88 L877.2 251.36 L877.86 247.86 L879.15 244.41 L881.04 241.04 L883.51 237.8 L886.54 234.72 L890.1 231.83 L894.13 229.16 L898.61 226.74 L903.47 224.6 L908.67 222.76 L914.16 221.23 L919.87 220.04 L925.74 219.2 L931.71 218.72 L937.72 218.59 L943.69 218.83 L949.58 219.43 L955.3 220.39 L960.81 221.69 L966.04 223.32 L970.94 225.26 Z" stroke-width="0.8"/>
<path d="M928.07 229.01 L930.28 228.03 L932.89 227.48 L935.63 227.43 L938.24 227.87 L940.47 228.75 L982.61 252.24 L984.25 253.51 L985.13 255.02 L985.15 256.63 L984.32 258.18 L982.7 259.52 L941.09 284.73 L938.84 285.72 L936.2 286.28 L933.42 286.33 L930.78 285.87 L928.53 284.96 L886.54 261.13 L884.93 259.86 L884.09 258.35 L884.11 256.74 L884.97 255.2 L886.6 253.87 Z" stroke-width="0.9"/>
<line x1="884" y1="256" x2="906" y2="243.5" stroke-width="0.8"/>
<line x1="888.2" y1="258.6" x2="910.2" y2="246.1" stroke-width="0.8"/>
<line x1="892.4" y1="261.2" x2="914.4" y2="248.7" stroke-width="0.8"/>
<line x1="896.6" y1="263.8" x2="918.6" y2="251.3" stroke-width="0.8"/>
<line x1="900.8" y1="266.4" x2="922.8" y2="253.9" stroke-width="0.8"/>
<line x1="905" y1="269" x2="927" y2="256.5" stroke-width="0.8"/>
<path d="M884.7 234.8 L904 225.2 L905 227.5 L885.7 237.2 Z" stroke-width="0.8"/>
<path d="M966.3 228.6 L977 234.3 L976 236.6 L965.3 230.9 Z" stroke-width="0.8"/>
<path d="M884 258 Q890 249 902 251" stroke-width="1.6" stroke="#1a1a1a"/>
<path d="M885.5 261 Q892 252 903 254" stroke-width="1.2" stroke="#1a1a1a"/>
<path d="M887 263.5 Q894 256 904 257" stroke-width="0.9" stroke="#333"/>
<ellipse cx="967.4" cy="256.9" rx="10" ry="6" stroke-width="1.6" stroke="#1a1a1a"/>
<ellipse cx="967.4" cy="258.5" rx="7.5" ry="4.2" stroke-width="1"/>
<ellipse cx="956" cy="266" rx="5" ry="3" stroke-width="1.6" stroke="#1a1a1a"/>
<ellipse cx="956" cy="266" rx="2.5" ry="1.5" stroke-width="0.9" fill="#444"/>
<path d="M958 270 Q966 268 972 262" stroke-width="1.1"/>
</g>
<path d="M961.92 204.82 L961.96 197.22 L962.36 195.89 L963.14 194.62 L964.3 193.44 L965.79 192.38 L967.57 191.48 L969.58 190.77 L971.76 190.27 L974.06 189.98 L976.39 189.93 L978.69 190.12 L980.89 190.53 L982.92 191.15 L984.71 191.97 L986.23 192.96 L987.41 194.1 L988.23 195.34 L988.65 196.65 L988.67 197.99 L988.67 205.61 L988.28 206.94 L987.5 208.22 L986.34 209.41 L984.85 210.48 L983.07 211.38 L981.05 212.1 L978.85 212.61 L976.55 212.89 L974.2 212.94 L971.9 212.75 L969.69 212.34 L967.66 211.7 L965.85 210.88 L964.34 209.87 L963.16 208.73 L962.35 207.49 L961.93 206.17 Z" stroke-width="1" fill="#fff"/>
<path d="M984.71 191.97 L986.23 192.96 L987.41 194.1 L988.23 195.34 L988.65 196.65 L988.67 197.99 L988.29 199.32 L987.5 200.6 L986.35 201.79 L984.86 202.85 L983.08 203.75 L981.06 204.47 L978.87 204.98 L976.57 205.26 L974.23 205.31 L971.92 205.12 L969.72 204.71 L967.69 204.08 L965.89 203.25 L964.38 202.26 L963.2 201.12 L962.39 199.87 L961.97 198.56 L961.96 197.22 L962.36 195.89 L963.14 194.62 L964.3 193.44 L965.79 192.38 L967.57 191.48 L969.58 190.77 L971.76 190.27 L974.06 189.98 L976.39 189.93 L978.69 190.12 L980.89 190.53 L982.92 191.15 Z" stroke-width="1" fill="#fff"/>
<path d="M963.51 197.27 L963.54 191.2 L963.89 190.03 L964.58 188.9 L965.6 187.86 L966.92 186.93 L968.49 186.13 L970.27 185.51 L972.2 185.06 L974.22 184.81 L976.28 184.77 L978.31 184.93 L980.25 185.29 L982.05 185.84 L983.63 186.56 L984.97 187.44 L986.02 188.44 L986.74 189.53 L987.11 190.69 L987.13 191.87 L987.12 197.95 L986.78 199.12 L986.09 200.25 L985.07 201.31 L983.75 202.24 L982.18 203.04 L980.39 203.67 L978.46 204.12 L976.42 204.37 L974.35 204.41 L972.32 204.25 L970.37 203.88 L968.57 203.33 L966.98 202.6 L965.65 201.72 L964.61 200.71 L963.89 199.61 L963.52 198.45 Z" stroke-width="1" fill="#fff"/>
<path d="M983.63 186.56 L984.97 187.44 L986.02 188.44 L986.74 189.53 L987.11 190.69 L987.13 191.87 L986.79 193.05 L986.1 194.17 L985.08 195.22 L983.76 196.16 L982.19 196.95 L980.41 197.59 L978.47 198.03 L976.44 198.28 L974.37 198.33 L972.34 198.16 L970.39 197.8 L968.6 197.25 L967.01 196.52 L965.68 195.64 L964.63 194.64 L963.92 193.54 L963.55 192.38 L963.54 191.2 L963.89 190.03 L964.58 188.9 L965.6 187.86 L966.92 186.93 L968.49 186.13 L970.27 185.51 L972.2 185.06 L974.22 184.81 L976.28 184.77 L978.31 184.93 L980.25 185.29 L982.05 185.84 Z" stroke-width="1" fill="#fff"/>
<path d="M981.8 187.66 L983.28 188.72 L984.21 189.98 L984.55 191.34 L984.25 192.71 L983.34 194.01 L981.89 195.14 L979.99 196.02 L977.77 196.59 L975.39 196.83 L973 196.7 L970.77 196.21 L968.85 195.41 L967.38 194.35 L966.44 193.1 L966.12 191.74 L966.42 190.36 L967.33 189.07 L968.78 187.95 L970.68 187.07 L972.89 186.49 L975.27 186.26 L977.65 186.39 L979.88 186.87 Z" stroke-width="1"/>
<path d="M967.5 188.5 Q974 184.5 981.5 187.5" stroke-width="1.3" stroke="#111"/>
<path d="M968 193.5 Q975 196.5 982 193" stroke-width="1.3" stroke="#111"/>
<path d="M969.5 192.5 L980.5 188" stroke-width="2.8" stroke="#222"/>
<path d="M987.12 215.6 L987.13 203.38 L987.46 202.26 L988.12 201.18 L989.09 200.19 L990.34 199.29 L991.83 198.54 L993.53 197.94 L995.37 197.51 L997.3 197.27 L999.27 197.23 L1001.21 197.39 L1003.07 197.73 L1004.78 198.26 L1006.3 198.95 L1007.58 199.79 L1008.59 200.75 L1009.28 201.8 L1009.64 202.9 L1009.66 204.04 L1009.7 216.27 L1009.38 217.4 L1008.72 218.48 L1007.75 219.49 L1006.5 220.38 L1005 221.15 L1003.3 221.75 L1001.44 222.18 L999.5 222.42 L997.52 222.46 L995.57 222.3 L993.71 221.95 L991.99 221.42 L990.47 220.71 L989.19 219.87 L988.19 218.9 L987.5 217.85 L987.14 216.74 Z" stroke-width="1" fill="#fff"/>
<path d="M1009.67 204.8 L1009.7 215.5" stroke-width="0.9"/>
<path d="M1009.34 205.92 L1009.38 216.63" stroke-width="0.9"/>
<path d="M1008.69 207 L1008.72 217.71" stroke-width="0.9"/>
<path d="M1007.72 208 L1007.75 218.72" stroke-width="0.9"/>
<path d="M1006.47 208.9 L1006.5 219.62" stroke-width="0.9"/>
<path d="M1004.97 209.66 L1005 220.38" stroke-width="0.9"/>
<path d="M1003.27 210.26 L1003.29 220.99" stroke-width="0.9"/>
<path d="M1001.43 210.69 L1001.44 221.41" stroke-width="0.9"/>
<path d="M999.49 210.93 L999.5 221.65" stroke-width="0.9"/>
<path d="M997.51 210.97 L997.52 221.69" stroke-width="0.9"/>
<path d="M995.57 210.81 L995.57 221.53" stroke-width="0.9"/>
<path d="M993.71 210.46 L993.71 221.18" stroke-width="0.9"/>
<path d="M991.99 209.93 L991.99 220.65" stroke-width="0.9"/>
<path d="M990.47 209.23 L990.47 219.95" stroke-width="0.9"/>
<path d="M989.19 208.39 L989.19 219.1" stroke-width="0.9"/>
<path d="M988.19 207.43 L988.19 218.14" stroke-width="0.9"/>
<path d="M987.5 206.38 L987.5 217.08" stroke-width="0.9"/>
<path d="M987.15 205.27 L987.14 215.97" stroke-width="0.9"/>
<path d="M987.13 204.14 L987.12 214.83" stroke-width="0.9"/>
<path d="M1006.3 198.95 L1007.58 199.79 L1008.59 200.75 L1009.28 201.8 L1009.64 202.9 L1009.66 204.04 L1009.34 205.16 L1008.69 206.24 L1007.72 207.24 L1006.47 208.13 L1004.97 208.9 L1003.27 209.5 L1001.42 209.93 L999.49 210.16 L997.51 210.2 L995.57 210.05 L993.71 209.7 L991.99 209.17 L990.47 208.47 L989.19 207.63 L988.19 206.67 L987.51 205.62 L987.15 204.51 L987.13 203.38 L987.46 202.26 L988.12 201.18 L989.09 200.19 L990.34 199.29 L991.83 198.54 L993.53 197.94 L995.37 197.51 L997.3 197.27 L999.27 197.23 L1001.21 197.39 L1003.07 197.73 L1004.78 198.26 Z" stroke-width="1" fill="#fff"/>
<path d="M1021 300 L1041 354 L1049.5 351 L1028.5 295 Z" stroke-width="0.9" fill="#fff"/>
<path d="M1021 300 L1028.5 295" stroke-width="0.85" stroke="#222"/>
<path d="M1021.8 302.16 L1029.34 297.24" stroke-width="0.85" stroke="#222"/>
<path d="M1022.6 304.32 L1030.18 299.48" stroke-width="0.85" stroke="#222"/>
<path d="M1023.4 306.48 L1031.02 301.72" stroke-width="0.85" stroke="#222"/>
<path d="M1024.2 308.64 L1031.86 303.96" stroke-width="0.85" stroke="#222"/>
<path d="M1025 310.8 L1032.7 306.2" stroke-width="0.85" stroke="#222"/>
<path d="M1025.8 312.96 L1033.54 308.44" stroke-width="0.85" stroke="#222"/>
<path d="M1026.6 315.12 L1034.38 310.68" stroke-width="0.85" stroke="#222"/>
<path d="M1027.4 317.28 L1035.22 312.92" stroke-width="0.85" stroke="#222"/>
<path d="M1028.2 319.44 L1036.06 315.16" stroke-width="0.85" stroke="#222"/>
<path d="M1029 321.6 L1036.9 317.4" stroke-width="0.85" stroke="#222"/>
<path d="M1029.8 323.76 L1037.74 319.64" stroke-width="0.85" stroke="#222"/>
<path d="M1030.6 325.92 L1038.58 321.88" stroke-width="0.85" stroke="#222"/>
<path d="M1031.4 328.08 L1039.42 324.12" stroke-width="0.85" stroke="#222"/>
<path d="M1032.2 330.24 L1040.26 326.36" stroke-width="0.85" stroke="#222"/>
<path d="M1033 332.4 L1041.1 328.6" stroke-width="0.85" stroke="#222"/>
<path d="M1033.8 334.56 L1041.94 330.84" stroke-width="0.85" stroke="#222"/>
<path d="M1034.6 336.72 L1042.78 333.08" stroke-width="0.85" stroke="#222"/>
<path d="M1035.4 338.88 L1043.62 335.32" stroke-width="0.85" stroke="#222"/>
<path d="M1036.2 341.04 L1044.46 337.56" stroke-width="0.85" stroke="#222"/>
<path d="M1037 343.2 L1045.3 339.8" stroke-width="0.85" stroke="#222"/>
<path d="M1037.8 345.36 L1046.14 342.04" stroke-width="0.85" stroke="#222"/>
<path d="M1038.6 347.52 L1046.98 344.28" stroke-width="0.85" stroke="#222"/>
<path d="M1039.4 349.68 L1047.82 346.52" stroke-width="0.85" stroke="#222"/>
<path d="M1040.2 351.84 L1048.66 348.76" stroke-width="0.85" stroke="#222"/>
<path d="M1041 354 L1049.5 351" stroke-width="0.85" stroke="#222"/>
<path d="M976 372.5 L1031 363.5 L1035 371.5 L978 380.5 Z" stroke-width="0.9" fill="#fff"/>
<path d="M976 372.5 L978 380.5" stroke-width="0.85" stroke="#222"/>
<path d="M978.29 372.12 L980.38 380.12" stroke-width="0.85" stroke="#222"/>
<path d="M980.58 371.75 L982.75 379.75" stroke-width="0.85" stroke="#222"/>
<path d="M982.88 371.38 L985.12 379.38" stroke-width="0.85" stroke="#222"/>
<path d="M985.17 371 L987.5 379" stroke-width="0.85" stroke="#222"/>
<path d="M987.46 370.62 L989.88 378.62" stroke-width="0.85" stroke="#222"/>
<path d="M989.75 370.25 L992.25 378.25" stroke-width="0.85" stroke="#222"/>
<path d="M992.04 369.88 L994.62 377.88" stroke-width="0.85" stroke="#222"/>
<path d="M994.33 369.5 L997 377.5" stroke-width="0.85" stroke="#222"/>
<path d="M996.62 369.12 L999.38 377.12" stroke-width="0.85" stroke="#222"/>
<path d="M998.92 368.75 L1001.75 376.75" stroke-width="0.85" stroke="#222"/>
<path d="M1001.21 368.38 L1004.12 376.38" stroke-width="0.85" stroke="#222"/>
<path d="M1003.5 368 L1006.5 376" stroke-width="0.85" stroke="#222"/>
<path d="M1005.79 367.62 L1008.88 375.62" stroke-width="0.85" stroke="#222"/>
<path d="M1008.08 367.25 L1011.25 375.25" stroke-width="0.85" stroke="#222"/>
<path d="M1010.38 366.88 L1013.62 374.88" stroke-width="0.85" stroke="#222"/>
<path d="M1012.67 366.5 L1016 374.5" stroke-width="0.85" stroke="#222"/>
<path d="M1014.96 366.12 L1018.38 374.12" stroke-width="0.85" stroke="#222"/>
<path d="M1017.25 365.75 L1020.75 373.75" stroke-width="0.85" stroke="#222"/>
<path d="M1019.54 365.38 L1023.12 373.38" stroke-width="0.85" stroke="#222"/>
<path d="M1021.83 365 L1025.5 373" stroke-width="0.85" stroke="#222"/>
<path d="M1024.12 364.62 L1027.88 372.62" stroke-width="0.85" stroke="#222"/>
<path d="M1026.42 364.25 L1030.25 372.25" stroke-width="0.85" stroke="#222"/>
<path d="M1028.71 363.88 L1032.62 371.88" stroke-width="0.85" stroke="#222"/>
<path d="M1031 363.5 L1035 371.5" stroke-width="0.85" stroke="#222"/>
<path d="M1027.19 358.04 L1027.32 356.38 L1027.7 354.63 L1028.34 352.83 L1029.21 351.08 L1030.26 349.42 L1031.46 347.93 L1032.77 346.67 L1034.13 345.67 L1035.5 344.98 L1036.81 344.63 L1038.02 344.63 L1039.09 344.98 L1050.62 351.51 L1051.5 352.19 L1052.16 353.19 L1052.57 354.45 L1052.72 355.94 L1052.61 357.6 L1052.22 359.36 L1051.59 361.16 L1050.73 362.92 L1049.68 364.58 L1048.48 366.08 L1047.17 367.36 L1045.8 368.36 L1044.43 369.05 L1043.11 369.41 L1041.89 369.41 L1040.82 369.06 L1029.28 362.48 L1028.4 361.79 L1027.74 360.8 L1027.33 359.53 Z" stroke-width="1" fill="#fff"/>
<path d="M1052.72 355.94 L1041.18 349.39" stroke-width="1.1"/>
<path d="M1052.22 359.36 L1040.68 352.8" stroke-width="1.1"/>
<path d="M1050.73 362.92 L1039.18 356.35" stroke-width="1.1"/>
<path d="M1048.48 366.08 L1036.93 359.5" stroke-width="1.1"/>
<path d="M1045.8 368.36 L1034.25 361.78" stroke-width="1.1"/>
<path d="M1043.11 369.41 L1031.56 362.82" stroke-width="1.1"/>
<path d="M1040.82 369.06 L1029.28 362.48" stroke-width="1.1"/>
<path d="M1039.28 367.38 L1027.74 360.8" stroke-width="1.1"/>
<path d="M1038.72 364.61 L1027.19 358.04" stroke-width="1.1"/>
<path d="M1039.23 361.19 L1027.7 354.63" stroke-width="1.1"/>
<path d="M1040.73 357.63 L1029.21 351.08" stroke-width="1.1"/>
<path d="M1042.98 354.48 L1031.46 347.93" stroke-width="1.1"/>
<path d="M1045.65 352.21 L1034.13 345.67" stroke-width="1.1"/>
<path d="M1048.33 351.17 L1036.81 344.63" stroke-width="1.1"/>
<path d="M1050.62 351.51 L1039.09 344.98" stroke-width="1.1"/>
<path d="M1052.16 353.19 L1040.63 346.65" stroke-width="1.1"/>
<path d="M1052.72 355.94 L1052.61 357.6 L1052.22 359.36 L1051.59 361.16 L1050.73 362.92 L1049.68 364.58 L1048.48 366.08 L1047.17 367.36 L1045.8 368.36 L1044.43 369.05 L1043.11 369.41 L1041.89 369.41 L1040.82 369.06 L1039.94 368.38 L1039.28 367.38 L1038.87 366.11 L1038.72 364.61 L1038.84 362.95 L1039.23 361.19 L1039.87 359.39 L1040.73 357.63 L1041.78 355.97 L1042.98 354.48 L1044.29 353.21 L1045.65 352.21 L1047.02 351.52 L1048.33 351.17 L1049.55 351.16 L1050.62 351.51 L1051.5 352.19 L1052.16 353.19 L1052.57 354.45 Z" stroke-width="1" fill="#fff"/>
<path d="M1048.25 358.71 L1048.01 360.13 L1047.32 361.57 L1046.31 362.76 L1045.19 363.46 L1044.18 363.52 L1043.47 362.94 L1043.21 361.84 L1043.44 360.42 L1044.13 358.97 L1045.14 357.79 L1046.26 357.09 L1047.28 357.03 L1047.99 357.61 Z" stroke-width="1"/>
<path d="M938.61 347.22 L938.74 343.96 L939.06 340.59 L939.58 337.15 L940.29 333.64 L941.18 330.08 L942.26 326.48 L943.51 322.88 L944.93 319.27 L946.52 315.69 L948.26 312.14 L950.14 308.65 L952.17 305.24 L954.32 301.91 L956.58 298.68 L958.96 295.58 L961.42 292.6 L963.97 289.78 L966.58 287.12 L969.26 284.63 L971.97 282.33 L974.72 280.23 L977.49 278.33 L980.26 276.65 L983.02 275.19 L985.76 273.96 L988.47 272.97 L991.12 272.22 L993.72 271.71 L996.25 271.44 L998.69 271.43 L1001.03 271.66 L1003.27 272.14 L1005.39 272.86 L1007.38 273.82 L1016.3 278.8 L1018.16 280 L1019.87 281.44 L1021.43 283.1 L1022.83 284.97 L1024.05 287.05 L1025.11 289.34 L1025.98 291.81 L1026.67 294.45 L1027.17 297.27 L1027.47 300.23 L1027.59 303.33 L1027.51 306.55 L1027.24 309.87 L1026.78 313.29 L1026.12 316.78 L1025.28 320.33 L1024.26 323.92 L1023.05 327.53 L1021.67 331.15 L1020.13 334.76 L1018.42 338.34 L1016.56 341.86 L1014.56 345.33 L1012.43 348.71 L1010.17 351.99 L1007.8 355.16 L1005.33 358.2 L1002.77 361.09 L1000.13 363.82 L997.43 366.37 L994.68 368.74 L991.9 370.91 L989.09 372.87 L986.28 374.61 L983.47 376.11 L980.68 377.38 L977.92 378.41 L975.21 379.19 L972.56 379.72 L969.99 379.99 L967.5 380 L965.11 379.76 L962.84 379.26 L960.68 378.51 L958.66 377.51 L949.68 372.3 L947.81 371.06 L946.09 369.59 L944.54 367.88 L943.15 365.95 L941.94 363.81 L940.91 361.47 L940.06 358.94 L939.41 356.24 L938.95 353.37 L938.68 350.36 Z" stroke-width="1" fill="#fff"/>
<path d="M1027.59 303.33 L1027.51 306.55 L1027.24 309.87 L1026.78 313.29 L1026.12 316.78 L1025.28 320.33 L1024.26 323.92 L1023.05 327.53 L1021.67 331.15 L1020.13 334.76 L1018.42 338.34 L1016.56 341.86 L1014.56 345.33 L1012.43 348.71 L1010.17 351.99 L1007.8 355.16 L1005.33 358.2 L1002.77 361.09 L1000.13 363.82 L997.43 366.37 L994.68 368.74 L991.9 370.91 L989.09 372.87 L986.28 374.61 L983.47 376.11 L980.68 377.38 L977.92 378.41 L975.21 379.19 L972.56 379.72 L969.99 379.99 L967.5 380 L965.11 379.76 L962.84 379.26 L960.68 378.51 L958.66 377.51 L956.79 376.26 L955.06 374.78 L953.5 373.07 L952.11 371.14 L950.89 368.99 L949.86 366.65 L949.01 364.12 L948.35 361.41 L947.88 358.53 L947.61 355.51 L947.54 352.36 L947.66 349.09 L947.98 345.72 L948.49 342.27 L949.19 338.75 L950.08 335.18 L951.16 331.58 L952.4 327.96 L953.82 324.35 L955.41 320.76 L957.14 317.21 L959.03 313.71 L961.05 310.28 L963.2 306.95 L965.46 303.72 L967.83 300.6 L970.3 297.63 L972.84 294.8 L975.46 292.13 L978.13 289.64 L980.85 287.33 L983.6 285.22 L986.37 283.32 L989.14 281.64 L991.9 280.17 L994.64 278.94 L997.35 277.95 L1000.01 277.19 L1002.61 276.68 L1005.14 276.42 L1007.59 276.4 L1009.94 276.63 L1012.18 277.11 L1014.3 277.84 L1016.3 278.8 L1018.16 280 L1019.87 281.44 L1021.43 283.1 L1022.83 284.97 L1024.05 287.05 L1025.11 289.34 L1025.98 291.81 L1026.67 294.45 L1027.17 297.27 L1027.47 300.23 Z" stroke-width="1" fill="#fff"/>
<path d="M1024.67 305.11 L1026.74 305.6 L1024.58 308.48 L1026.52 309.22 L1024.26 311.97 L1026.06 312.96 L1023.71 315.56 L1025.37 316.8 L1022.94 319.23 L1024.44 320.71 L1021.95 322.95 L1023.28 324.66 L1020.75 326.71 L1021.91 328.65 L1019.35 330.48 L1020.32 332.63 L1017.74 334.24 L1018.53 336.59 L1015.96 337.97 L1016.54 340.49 L1013.99 341.63 L1014.37 344.33 L1011.86 345.22 L1012.04 348.06 L1009.57 348.7 L1009.55 351.68 L1007.15 352.05 L1006.93 355.15 L1004.61 355.26 L1004.18 358.46 L1001.96 358.3 L1001.33 361.57 L999.22 361.15 L998.39 364.49 L996.4 363.8 L995.38 367.17 L993.53 366.23 L992.32 369.62 L990.62 368.42 L989.23 371.8 L987.69 370.36 L986.13 373.71 L984.75 372.04 L983.04 375.34 L981.84 373.44 L979.98 376.67 L978.96 374.56 L976.96 377.7 L976.13 375.38 L974.01 378.42 L973.38 375.91 L971.14 378.83 L970.72 376.15 L968.38 378.91 L968.16 376.08 L965.73 378.68 L965.72 375.71 L963.23 378.13 L963.42 375.04 L960.87 377.27 L961.27 374.08 L958.69 376.1 L959.29 372.83 L956.69 374.63 L957.48 371.3 L954.88 372.87 L955.86 369.51 L953.27 370.84 L954.44 367.45 L951.88 368.53 L953.23 365.15 L950.71 365.98 L952.24 362.62 L949.78 363.19 L951.46 359.88 L949.08 360.18 L950.91 356.94 L948.62 356.98 L950.59 353.82 L948.4 353.59 L950.5 350.55 L948.43 350.06 L950.64 347.14 L948.7 346.39 L951.01 343.61 L949.21 342.61 L951.6 339.99 L949.95 338.74 L952.42 336.29 L950.93 334.81 L953.45 332.55 L952.14 330.84 L954.69 328.79 L953.56 326.85 L956.14 325.02 L955.19 322.88 L957.78 321.27 L957.02 318.94 L959.59 317.57 L959.04 315.07 L961.59 313.94 L961.23 311.27 L963.73 310.39 L963.57 307.58 L966.03 306.96 L966.07 304.02 L968.45 303.66 L968.69 300.61 L970.99 300.5 L971.43 297.37 L973.63 297.52 L974.27 294.32 L976.35 294.73 L977.18 291.48 L979.15 292.14 L980.16 288.86 L981.99 289.77 L983.18 286.48 L984.86 287.64 L986.23 284.36 L987.75 285.75 L989.28 282.5 L990.64 284.12 L992.32 280.92 L993.51 282.76 L995.33 279.63 L996.34 281.68 L998.3 278.63 L999.12 280.87 L1001.2 277.93 L1001.83 280.36 L1004.02 277.54 L1004.45 280.13 L1006.73 277.45 L1006.97 280.19 L1009.33 277.67 L1009.37 280.55 L1011.8 278.2 L1011.64 281.19 L1014.13 279.03 L1013.77 282.12 L1016.29 280.16 L1015.73 283.33 L1018.28 281.58 L1017.53 284.81 L1020.08 283.29 L1019.14 286.56 L1021.69 285.27 L1020.56 288.56 L1023.08 287.51 L1021.79 290.8 L1024.27 289.99 L1022.8 293.27 L1025.23 292.71 L1023.6 295.95 L1025.96 295.65 L1024.18 298.83 L1026.46 298.79 L1024.54 301.89 L1026.72 302.11 Z" stroke-width="1.15" stroke="#1e1e1e"/>
<path d="M996.88 365.55 L996.37 366.89 L995.35 367.51 L994.84 366.81 L995.35 365.48 L996.37 364.85 Z" stroke-width="0.95" fill="#fff" stroke="#1a1a1a"/>
<path d="M994.57 367.47 L994.06 368.8 L993.04 369.43 L992.53 368.73 L993.04 367.4 L994.06 366.77 Z" stroke-width="0.95" fill="#fff" stroke="#1a1a1a"/>
<path d="M992.23 369.23 L991.72 370.57 L990.7 371.2 L990.19 370.49 L990.7 369.16 L991.72 368.53 Z" stroke-width="0.95" fill="#fff" stroke="#1a1a1a"/>
<path d="M989.88 370.85 L989.37 372.18 L988.35 372.81 L987.84 372.11 L988.35 370.78 L989.37 370.15 Z" stroke-width="0.95" fill="#fff" stroke="#1a1a1a"/>
<path d="M987.53 372.3 L987.02 373.63 L985.99 374.26 L985.48 373.56 L986 372.23 L987.02 371.6 Z" stroke-width="0.95" fill="#fff" stroke="#1a1a1a"/>
<path d="M985.18 373.59 L984.67 374.92 L983.64 375.55 L983.13 374.85 L983.65 373.52 L984.67 372.88 Z" stroke-width="0.95" fill="#fff" stroke="#1a1a1a"/>
<path d="M982.84 374.7 L982.33 376.04 L981.3 376.67 L980.79 375.97 L981.31 374.63 L982.33 374 Z" stroke-width="0.95" fill="#fff" stroke="#1a1a1a"/>
<path d="M980.52 375.65 L980.01 376.98 L978.98 377.61 L978.47 376.91 L978.99 375.57 L980.01 374.94 Z" stroke-width="0.95" fill="#fff" stroke="#1a1a1a"/>
<path d="M978.23 376.41 L977.72 377.74 L976.69 378.38 L976.18 377.67 L976.7 376.34 L977.72 375.71 Z" stroke-width="0.95" fill="#fff" stroke="#1a1a1a"/>
<path d="M975.98 376.99 L975.47 378.33 L974.44 378.96 L973.93 378.25 L974.45 376.92 L975.47 376.29 Z" stroke-width="0.95" fill="#fff" stroke="#1a1a1a"/>
<path d="M973.78 377.39 L973.26 378.73 L972.24 379.36 L971.73 378.65 L972.24 377.32 L973.27 376.69 Z" stroke-width="0.95" fill="#fff" stroke="#1a1a1a"/>
<path d="M971.63 377.6 L971.11 378.94 L970.09 379.57 L969.58 378.87 L970.1 377.53 L971.12 376.9 Z" stroke-width="0.95" fill="#fff" stroke="#1a1a1a"/>
<path d="M969.54 377.63 L969.03 378.97 L968 379.6 L967.49 378.9 L968.01 377.56 L969.03 376.93 Z" stroke-width="0.95" fill="#fff" stroke="#1a1a1a"/>
<path d="M967.53 377.48 L967.01 378.81 L965.99 379.44 L965.48 378.74 L965.99 377.4 L967.02 376.77 Z" stroke-width="0.95" fill="#fff" stroke="#1a1a1a"/>
<path d="M965.59 377.13 L965.07 378.47 L964.05 379.1 L963.54 378.4 L964.06 377.06 L965.08 376.43 Z" stroke-width="0.95" fill="#fff" stroke="#1a1a1a"/>
<path d="M963.74 376.61 L963.22 377.94 L962.2 378.57 L961.69 377.87 L962.21 376.53 L963.23 375.9 Z" stroke-width="0.95" fill="#fff" stroke="#1a1a1a"/>
<path d="M961.98 375.9 L961.46 377.23 L960.44 377.86 L959.93 377.16 L960.45 375.83 L961.47 375.19 Z" stroke-width="0.95" fill="#fff" stroke="#1a1a1a"/>
<path d="M960.32 375.01 L959.8 376.34 L958.78 376.98 L958.27 376.27 L958.79 374.94 L959.81 374.31 Z" stroke-width="0.95" fill="#fff" stroke="#1a1a1a"/>
<path d="M958.77 373.95 L958.25 375.28 L957.22 375.91 L956.71 375.21 L957.23 373.87 L958.26 373.24 Z" stroke-width="0.95" fill="#fff" stroke="#1a1a1a"/>
<path d="M957.32 372.71 L956.8 374.04 L955.78 374.68 L955.27 373.97 L955.79 372.64 L956.81 372.01 Z" stroke-width="0.95" fill="#fff" stroke="#1a1a1a"/>
<path d="M955.99 371.31 L955.47 372.64 L954.45 373.27 L953.94 372.57 L954.46 371.24 L955.49 370.61 Z" stroke-width="0.95" fill="#fff" stroke="#1a1a1a"/>
<path d="M954.79 369.75 L954.27 371.08 L953.24 371.71 L952.74 371.01 L953.26 369.67 L954.28 369.04 Z" stroke-width="0.95" fill="#fff" stroke="#1a1a1a"/>
<path d="M953.7 368.03 L953.19 369.36 L952.16 369.99 L951.65 369.29 L952.17 367.95 L953.2 367.33 Z" stroke-width="0.95" fill="#fff" stroke="#1a1a1a"/>
<path d="M952.75 366.16 L952.23 367.49 L951.21 368.12 L950.7 367.42 L951.22 366.09 L952.25 365.46 Z" stroke-width="0.95" fill="#fff" stroke="#1a1a1a"/>
<path d="M951.93 364.15 L951.41 365.48 L950.39 366.11 L949.88 365.41 L950.4 364.08 L951.43 363.45 Z" stroke-width="0.95" fill="#fff" stroke="#1a1a1a"/>
<path d="M951.25 362 L950.73 363.33 L949.7 363.96 L949.2 363.26 L949.72 361.93 L950.74 361.3 Z" stroke-width="0.95" fill="#fff" stroke="#1a1a1a"/>
<path d="M950.7 359.73 L950.18 361.06 L949.16 361.69 L948.65 360.99 L949.17 359.66 L950.2 359.03 Z" stroke-width="0.95" fill="#fff" stroke="#1a1a1a"/>
<path d="M950.3 357.34 L949.78 358.67 L948.75 359.3 L948.25 358.6 L948.77 357.27 L949.79 356.64 Z" stroke-width="0.95" fill="#fff" stroke="#1a1a1a"/>
<path d="M950.03 354.85 L949.51 356.17 L948.49 356.8 L947.99 356.1 L948.5 354.77 L949.53 354.15 Z" stroke-width="0.95" fill="#fff" stroke="#1a1a1a"/>
<path d="M949.91 352.25 L949.39 353.57 L948.37 354.2 L947.86 353.5 L948.38 352.18 L949.4 351.55 Z" stroke-width="0.95" fill="#fff" stroke="#1a1a1a"/>
<path d="M949.93 349.56 L949.41 350.88 L948.39 351.51 L947.88 350.81 L948.4 349.49 L949.42 348.87 Z" stroke-width="0.95" fill="#fff" stroke="#1a1a1a"/>
<path d="M950.09 346.8 L949.57 348.12 L948.55 348.74 L948.05 348.05 L948.56 346.73 L949.59 346.1 Z" stroke-width="0.95" fill="#fff" stroke="#1a1a1a"/>
<path d="M950.39 343.96 L949.87 345.28 L948.85 345.91 L948.35 345.21 L948.87 343.89 L949.89 343.27 Z" stroke-width="0.95" fill="#fff" stroke="#1a1a1a"/>
<path d="M950.83 341.07 L950.32 342.39 L949.3 343.01 L948.79 342.31 L949.31 341 L950.33 340.37 Z" stroke-width="0.95" fill="#fff" stroke="#1a1a1a"/>
<path d="M951.41 338.12 L950.9 339.44 L949.88 340.07 L949.38 339.37 L949.89 338.05 L950.91 337.43 Z" stroke-width="0.95" fill="#fff" stroke="#1a1a1a"/>
<path d="M952.13 335.14 L951.61 336.46 L950.6 337.08 L950.09 336.39 L950.61 335.07 L951.63 334.45 Z" stroke-width="0.95" fill="#fff" stroke="#1a1a1a"/>
<path d="M952.98 332.14 L952.46 333.45 L951.45 334.08 L950.94 333.38 L951.46 332.07 L952.48 331.45 Z" stroke-width="0.95" fill="#fff" stroke="#1a1a1a"/>
<path d="M953.96 329.12 L953.44 330.43 L952.43 331.05 L951.92 330.36 L952.44 329.05 L953.46 328.43 Z" stroke-width="0.95" fill="#fff" stroke="#1a1a1a"/>
<path d="M955.06 326.09 L954.55 327.4 L953.53 328.03 L953.03 327.33 L953.54 326.02 L954.56 325.4 Z" stroke-width="0.95" fill="#fff" stroke="#1a1a1a"/>
<path d="M956.29 323.07 L955.78 324.39 L954.76 325.01 L954.26 324.32 L954.77 323 L955.79 322.38 Z" stroke-width="0.95" fill="#fff" stroke="#1a1a1a"/>
<path d="M957.63 320.07 L957.12 321.38 L956.1 322 L955.6 321.31 L956.12 320 L957.13 319.38 Z" stroke-width="0.95" fill="#fff" stroke="#1a1a1a"/>
<path d="M959.09 317.1 L958.57 318.41 L957.56 319.03 L957.06 318.34 L957.57 317.03 L958.59 316.41 Z" stroke-width="0.95" fill="#fff" stroke="#1a1a1a"/>
<path d="M960.65 314.17 L960.14 315.48 L959.12 316.1 L958.62 315.41 L959.13 314.1 L960.15 313.48 Z" stroke-width="0.95" fill="#fff" stroke="#1a1a1a"/>
<path d="M962.31 311.29 L961.8 312.59 L960.79 313.21 L960.28 312.52 L960.8 311.22 L961.81 310.6 Z" stroke-width="0.95" fill="#fff" stroke="#1a1a1a"/>
<path d="M964.07 308.47 L963.56 309.77 L962.54 310.39 L962.04 309.7 L962.55 308.4 L963.57 307.78 Z" stroke-width="0.95" fill="#fff" stroke="#1a1a1a"/>
<path d="M965.91 305.71 L965.4 307.02 L964.39 307.63 L963.89 306.95 L964.4 305.64 L965.41 305.03 Z" stroke-width="0.95" fill="#fff" stroke="#1a1a1a"/>
<path d="M967.84 303.04 L967.33 304.34 L966.32 304.96 L965.81 304.28 L966.33 302.97 L967.34 302.36 Z" stroke-width="0.95" fill="#fff" stroke="#1a1a1a"/>
<path d="M969.84 300.46 L969.33 301.76 L968.32 302.38 L967.82 301.69 L968.33 300.39 L969.34 299.78 Z" stroke-width="0.95" fill="#fff" stroke="#1a1a1a"/>
<path d="M971.91 297.98 L971.4 299.28 L970.39 299.89 L969.88 299.21 L970.39 297.91 L971.4 297.29 Z" stroke-width="0.95" fill="#fff" stroke="#1a1a1a"/>
<path d="M974.03 295.6 L973.53 296.9 L972.51 297.52 L972.01 296.83 L972.52 295.53 L973.53 294.92 Z" stroke-width="0.95" fill="#fff" stroke="#1a1a1a"/>
<path d="M976.21 293.35 L975.7 294.64 L974.69 295.26 L974.19 294.57 L974.7 293.28 L975.71 292.66 Z" stroke-width="0.95" fill="#fff" stroke="#1a1a1a"/>
<path d="M978.43 291.21 L977.93 292.51 L976.92 293.12 L976.42 292.44 L976.92 291.14 L977.93 290.53 Z" stroke-width="0.95" fill="#fff" stroke="#1a1a1a"/>
<path d="M980.69 289.21 L980.19 290.5 L979.18 291.12 L978.67 290.44 L979.18 289.14 L980.19 288.53 Z" stroke-width="0.95" fill="#fff" stroke="#1a1a1a"/>
<path d="M982.98 287.34 L982.47 288.64 L981.46 289.25 L980.96 288.57 L981.47 287.28 L982.47 286.66 Z" stroke-width="0.95" fill="#fff" stroke="#1a1a1a"/>
<path d="M985.28 285.62 L984.78 286.92 L983.77 287.53 L983.27 286.85 L983.77 285.56 L984.78 284.94 Z" stroke-width="0.95" fill="#fff" stroke="#1a1a1a"/>
<path d="M987.6 284.06 L987.09 285.35 L986.09 285.96 L985.58 285.28 L986.09 283.99 L987.1 283.38 Z" stroke-width="0.95" fill="#fff" stroke="#1a1a1a"/>
<path d="M989.92 282.65 L989.41 283.94 L988.41 284.55 L987.9 283.87 L988.41 282.58 L989.42 281.97 Z" stroke-width="0.95" fill="#fff" stroke="#1a1a1a"/>
<path d="M992.23 281.4 L991.73 282.69 L990.72 283.3 L990.22 282.62 L990.72 281.33 L991.73 280.72 Z" stroke-width="0.95" fill="#fff" stroke="#1a1a1a"/>
<path d="M994.53 280.31 L994.03 281.61 L993.02 282.22 L992.52 281.54 L993.02 280.24 L994.03 279.63 Z" stroke-width="0.95" fill="#fff" stroke="#1a1a1a"/>
<path d="M996.81 279.4 L996.31 280.69 L995.3 281.3 L994.8 280.62 L995.3 279.33 L996.31 278.72 Z" stroke-width="0.95" fill="#fff" stroke="#1a1a1a"/>
<path d="M999.06 278.66 L998.56 279.95 L997.55 280.56 L997.05 279.88 L997.55 278.59 L998.56 277.98 Z" stroke-width="0.95" fill="#fff" stroke="#1a1a1a"/>
<path d="M1001.27 278.09 L1000.77 279.38 L999.77 280 L999.26 279.32 L999.76 278.03 L1000.77 277.41 Z" stroke-width="0.95" fill="#fff" stroke="#1a1a1a"/>
<path d="M1003.44 277.71 L1002.94 279 L1001.93 279.61 L1001.43 278.93 L1001.93 277.64 L1002.93 277.03 Z" stroke-width="0.95" fill="#fff" stroke="#1a1a1a"/>
<path d="M1005.55 277.5 L1005.05 278.79 L1004.05 279.4 L1003.54 278.72 L1004.04 277.43 L1005.05 276.82 Z" stroke-width="0.95" fill="#fff" stroke="#1a1a1a"/>
<path d="M1007.6 277.47 L1007.1 278.76 L1006.1 279.37 L1005.59 278.69 L1006.09 277.4 L1007.1 276.79 Z" stroke-width="0.95" fill="#fff" stroke="#1a1a1a"/>
<path d="M1009.59 277.62 L1009.09 278.91 L1008.08 279.52 L1007.58 278.84 L1008.08 277.55 L1009.08 276.94 Z" stroke-width="0.95" fill="#fff" stroke="#1a1a1a"/>
<path d="M1011.49 277.95 L1011 279.24 L1009.99 279.85 L1009.49 279.17 L1009.98 277.88 L1010.99 277.27 Z" stroke-width="0.95" fill="#fff" stroke="#1a1a1a"/>
<path d="M1013.32 278.46 L1012.82 279.75 L1011.82 280.36 L1011.31 279.68 L1011.81 278.39 L1012.81 277.78 Z" stroke-width="0.95" fill="#fff" stroke="#1a1a1a"/>
<path d="M1015.06 279.14 L1014.56 280.43 L1013.56 281.04 L1013.05 280.36 L1013.55 279.07 L1014.55 278.46 Z" stroke-width="0.95" fill="#fff" stroke="#1a1a1a"/>
<path d="M1016.7 280 L1016.2 281.29 L1015.2 281.9 L1014.69 281.22 L1015.19 279.93 L1016.19 279.32 Z" stroke-width="0.95" fill="#fff" stroke="#1a1a1a"/>
<path d="M1018.24 281.03 L1017.74 282.32 L1016.74 282.93 L1016.23 282.25 L1016.73 280.96 L1017.74 280.35 Z" stroke-width="0.95" fill="#fff" stroke="#1a1a1a"/>
<path d="M1019.68 282.22 L1019.18 283.52 L1018.18 284.13 L1017.67 283.45 L1018.17 282.15 L1019.17 281.54 Z" stroke-width="0.95" fill="#fff" stroke="#1a1a1a"/>
<path d="M1021 283.58 L1020.51 284.88 L1019.5 285.49 L1018.99 284.81 L1019.49 283.51 L1020.5 282.9 Z" stroke-width="0.95" fill="#fff" stroke="#1a1a1a"/>
<path d="M1022.21 285.1 L1021.71 286.39 L1020.71 287.01 L1020.2 286.33 L1020.7 285.03 L1021.7 284.42 Z" stroke-width="0.95" fill="#fff" stroke="#1a1a1a"/>
<path d="M1023.3 286.77 L1022.8 288.07 L1021.8 288.68 L1021.29 288 L1021.79 286.7 L1022.79 286.09 Z" stroke-width="0.95" fill="#fff" stroke="#1a1a1a"/>
<path d="M1024.26 288.59 L1023.76 289.89 L1022.76 290.5 L1022.25 289.82 L1022.75 288.52 L1023.75 287.91 Z" stroke-width="0.95" fill="#fff" stroke="#1a1a1a"/>
<path d="M1025.1 290.55 L1024.6 291.85 L1023.59 292.46 L1023.09 291.78 L1023.58 290.48 L1024.59 289.87 Z" stroke-width="0.95" fill="#fff" stroke="#1a1a1a"/>
<path d="M1025.8 292.64 L1025.3 293.94 L1024.3 294.56 L1023.79 293.87 L1024.29 292.57 L1025.29 291.96 Z" stroke-width="0.95" fill="#fff" stroke="#1a1a1a"/>
<path d="M984.02 320.21 L983.79 321.66 L983.14 323.17 L982.16 324.51 L981.01 325.48 L979.86 325.92 L978.88 325.78 L978.23 325.07 L978.01 323.89 L978.24 322.44 L978.89 320.93 L979.87 319.59 L981.02 318.63 L982.17 318.19 L983.15 318.33 L983.8 319.04 Z" stroke-width="1.7" fill="#fff"/>
<path d="M982.55 321.11 L982.35 322.11 L981.78 323.1 L981.01 323.81 L980.24 324.04 L979.68 323.75 L979.48 322.99 L979.68 321.99 L980.25 321.01 L981.02 320.3 L981.79 320.07 L982.35 320.36 Z" stroke-width="0.9" fill="#555"/>
<path d="M997.01 312.27 L996.78 313.72 L996.13 315.22 L995.16 316.56 L994.01 317.52 L992.86 317.97 L991.89 317.82 L991.24 317.11 L991.01 315.94 L991.24 314.49 L991.89 312.99 L992.86 311.65 L994.01 310.69 L995.16 310.25 L996.13 310.4 L996.78 311.1 Z" stroke-width="1.7" fill="#fff"/>
<path d="M995.54 313.17 L995.34 314.17 L994.78 315.15 L994.01 315.85 L993.24 316.09 L992.68 315.79 L992.47 315.04 L992.68 314.05 L993.24 313.06 L994.01 312.36 L994.78 312.12 L995.34 312.42 Z" stroke-width="0.9" fill="#555"/>
<path d="M980.22 335.7 L979.99 337.16 L979.33 338.67 L978.35 340.02 L977.19 340.99 L976.04 341.44 L975.06 341.29 L974.41 340.57 L974.19 339.4 L974.42 337.94 L975.08 336.42 L976.06 335.07 L977.21 334.11 L978.36 333.66 L979.34 333.81 L979.99 334.52 Z" stroke-width="1.7" fill="#fff"/>
<path d="M978.75 336.6 L978.54 337.61 L977.97 338.6 L977.2 339.31 L976.43 339.55 L975.86 339.25 L975.66 338.49 L975.87 337.49 L976.44 336.49 L977.21 335.79 L977.98 335.55 L978.54 335.85 Z" stroke-width="0.9" fill="#555"/>
<path d="M1000.51 323.26 L1000.29 324.71 L999.64 326.22 L998.66 327.57 L997.51 328.53 L996.36 328.98 L995.38 328.83 L994.73 328.12 L994.5 326.94 L994.73 325.49 L995.38 323.98 L996.36 322.64 L997.51 321.67 L998.66 321.23 L999.63 321.38 L1000.28 322.09 Z" stroke-width="1.7" fill="#fff"/>
<path d="M999.05 324.16 L998.84 325.16 L998.28 326.15 L997.51 326.86 L996.74 327.09 L996.18 326.8 L995.97 326.04 L996.18 325.04 L996.74 324.05 L997.51 323.35 L998.28 323.11 L998.84 323.41 Z" stroke-width="0.9" fill="#555"/>
<path d="M990.58 337.82 L990.35 339.28 L989.7 340.8 L988.72 342.15 L987.57 343.12 L986.41 343.57 L985.43 343.42 L984.78 342.7 L984.55 341.52 L984.78 340.06 L985.44 338.54 L986.42 337.2 L987.57 336.23 L988.72 335.78 L989.7 335.93 L990.35 336.65 Z" stroke-width="1.7" fill="#fff"/>
<path d="M989.11 338.73 L988.9 339.73 L988.34 340.73 L987.57 341.44 L986.8 341.67 L986.23 341.37 L986.03 340.62 L986.23 339.61 L986.8 338.62 L987.57 337.91 L988.34 337.67 L988.91 337.97 Z" stroke-width="0.9" fill="#555"/>
<path d="M838.5 329 L855.5 384 L864.5 380 L847.5 326 Z" stroke-width="0.9" fill="#fff"/>
<path d="M838.5 329 L847.5 326" stroke-width="0.85" stroke="#222"/>
<path d="M839.18 331.2 L848.18 328.16" stroke-width="0.85" stroke="#222"/>
<path d="M839.86 333.4 L848.86 330.32" stroke-width="0.85" stroke="#222"/>
<path d="M840.54 335.6 L849.54 332.48" stroke-width="0.85" stroke="#222"/>
<path d="M841.22 337.8 L850.22 334.64" stroke-width="0.85" stroke="#222"/>
<path d="M841.9 340 L850.9 336.8" stroke-width="0.85" stroke="#222"/>
<path d="M842.58 342.2 L851.58 338.96" stroke-width="0.85" stroke="#222"/>
<path d="M843.26 344.4 L852.26 341.12" stroke-width="0.85" stroke="#222"/>
<path d="M843.94 346.6 L852.94 343.28" stroke-width="0.85" stroke="#222"/>
<path d="M844.62 348.8 L853.62 345.44" stroke-width="0.85" stroke="#222"/>
<path d="M845.3 351 L854.3 347.6" stroke-width="0.85" stroke="#222"/>
<path d="M845.98 353.2 L854.98 349.76" stroke-width="0.85" stroke="#222"/>
<path d="M846.66 355.4 L855.66 351.92" stroke-width="0.85" stroke="#222"/>
<path d="M847.34 357.6 L856.34 354.08" stroke-width="0.85" stroke="#222"/>
<path d="M848.02 359.8 L857.02 356.24" stroke-width="0.85" stroke="#222"/>
<path d="M848.7 362 L857.7 358.4" stroke-width="0.85" stroke="#222"/>
<path d="M849.38 364.2 L858.38 360.56" stroke-width="0.85" stroke="#222"/>
<path d="M850.06 366.4 L859.06 362.72" stroke-width="0.85" stroke="#222"/>
<path d="M850.74 368.6 L859.74 364.88" stroke-width="0.85" stroke="#222"/>
<path d="M851.42 370.8 L860.42 367.04" stroke-width="0.85" stroke="#222"/>
<path d="M852.1 373 L861.1 369.2" stroke-width="0.85" stroke="#222"/>
<path d="M852.78 375.2 L861.78 371.36" stroke-width="0.85" stroke="#222"/>
<path d="M853.46 377.4 L862.46 373.52" stroke-width="0.85" stroke="#222"/>
<path d="M854.14 379.6 L863.14 375.68" stroke-width="0.85" stroke="#222"/>
<path d="M854.82 381.8 L863.82 377.84" stroke-width="0.85" stroke="#222"/>
<path d="M855.5 384 L864.5 380" stroke-width="0.85" stroke="#222"/>
<path d="M868.75 397.5 L903.75 377.5 L902.25 372.5 L867.25 392.5 Z" stroke-width="0.9" fill="#fff"/>
<path d="M868.75 397.5 L867.25 392.5" stroke-width="0.85" stroke="#222"/>
<path d="M870.81 396.32 L869.31 391.32" stroke-width="0.85" stroke="#222"/>
<path d="M872.87 395.15 L871.37 390.15" stroke-width="0.85" stroke="#222"/>
<path d="M874.93 393.97 L873.43 388.97" stroke-width="0.85" stroke="#222"/>
<path d="M876.99 392.79 L875.49 387.79" stroke-width="0.85" stroke="#222"/>
<path d="M879.04 391.62 L877.54 386.62" stroke-width="0.85" stroke="#222"/>
<path d="M881.1 390.44 L879.6 385.44" stroke-width="0.85" stroke="#222"/>
<path d="M883.16 389.26 L881.66 384.26" stroke-width="0.85" stroke="#222"/>
<path d="M885.22 388.09 L883.72 383.09" stroke-width="0.85" stroke="#222"/>
<path d="M887.28 386.91 L885.78 381.91" stroke-width="0.85" stroke="#222"/>
<path d="M889.34 385.74 L887.84 380.74" stroke-width="0.85" stroke="#222"/>
<path d="M891.4 384.56 L889.9 379.56" stroke-width="0.85" stroke="#222"/>
<path d="M893.46 383.38 L891.96 378.38" stroke-width="0.85" stroke="#222"/>
<path d="M895.51 382.21 L894.01 377.21" stroke-width="0.85" stroke="#222"/>
<path d="M897.57 381.03 L896.07 376.03" stroke-width="0.85" stroke="#222"/>
<path d="M899.63 379.85 L898.13 374.85" stroke-width="0.85" stroke="#222"/>
<path d="M901.69 378.68 L900.19 373.68" stroke-width="0.85" stroke="#222"/>
<path d="M903.75 377.5 L902.25 372.5" stroke-width="0.85" stroke="#222"/>
<path d="M853.55 386.25 L853.7 384.9 L854.09 383.75 L854.71 382.83 L855.51 382.19 L866.89 375.25 L867.86 374.91 L868.96 374.88 L870.15 375.16 L871.39 375.74 L872.61 376.6 L873.79 377.71 L874.86 379.03 L875.8 380.49 L876.57 382.06 L877.13 383.66 L877.46 385.24 L877.55 386.74 L877.4 388.09 L877.02 389.25 L876.41 390.17 L875.6 390.81 L864.2 397.79 L863.22 398.13 L862.11 398.16 L860.92 397.87 L859.69 397.29 L858.46 396.42 L857.28 395.3 L856.21 393.98 L855.27 392.5 L854.52 390.93 L853.96 389.33 L853.64 387.75 Z" stroke-width="1" fill="#fff"/>
<path d="M866.16 393.71 L877.55 386.74" stroke-width="1.1"/>
<path d="M865.62 396.22 L877.02 389.25" stroke-width="1.1"/>
<path d="M864.2 397.79 L875.6 390.81" stroke-width="1.1"/>
<path d="M862.11 398.16 L873.52 391.18" stroke-width="1.1"/>
<path d="M859.69 397.29 L871.09 390.31" stroke-width="1.1"/>
<path d="M857.28 395.3 L868.68 388.33" stroke-width="1.1"/>
<path d="M855.27 392.5 L866.67 385.54" stroke-width="1.1"/>
<path d="M853.96 389.33 L865.35 382.37" stroke-width="1.1"/>
<path d="M853.55 386.25 L864.93 379.31" stroke-width="1.1"/>
<path d="M854.09 383.75 L865.47 376.81" stroke-width="1.1"/>
<path d="M855.51 382.19 L866.89 375.25" stroke-width="1.1"/>
<path d="M857.59 381.82 L868.96 374.88" stroke-width="1.1"/>
<path d="M860.01 382.68 L871.39 375.74" stroke-width="1.1"/>
<path d="M862.41 384.66 L873.79 377.71" stroke-width="1.1"/>
<path d="M864.42 387.45 L875.8 380.49" stroke-width="1.1"/>
<path d="M865.74 390.62 L877.13 383.66" stroke-width="1.1"/>
<path d="M866.16 393.71 L866.01 395.06 L865.62 396.22 L865.01 397.14 L864.2 397.79 L863.22 398.13 L862.11 398.16 L860.92 397.87 L859.69 397.29 L858.46 396.42 L857.28 395.3 L856.21 393.98 L855.27 392.5 L854.52 390.93 L853.96 389.33 L853.64 387.75 L853.55 386.25 L853.7 384.9 L854.09 383.75 L854.71 382.83 L855.51 382.19 L856.49 381.85 L857.59 381.82 L858.78 382.1 L860.01 382.68 L861.24 383.55 L862.41 384.66 L863.49 385.98 L864.42 387.45 L865.18 389.02 L865.74 390.62 L866.07 392.21 Z" stroke-width="1" fill="#fff"/>
<path d="M862.23 391.38 L861.97 392.44 L861.29 393.01 L860.32 392.98 L859.26 392.35 L858.32 391.25 L857.68 389.9 L857.47 388.57 L857.73 387.51 L858.41 386.94 L859.38 386.97 L860.44 387.6 L861.38 388.7 L862.02 390.05 Z" stroke-width="1"/>
<path d="M838.95 305.35 L839.13 302.27 L839.5 299.31 L840.05 296.5 L840.8 293.85 L841.72 291.36 L842.82 289.05 L844.09 286.93 L845.53 285.02 L847.13 283.31 L848.88 281.82 L850.76 280.56 L859.01 275.61 L861.03 274.58 L863.17 273.78 L865.43 273.22 L867.8 272.9 L870.25 272.82 L872.79 272.99 L875.39 273.4 L878.05 274.05 L880.76 274.93 L883.5 276.06 L886.25 277.41 L889.01 278.98 L891.76 280.77 L894.49 282.76 L897.19 284.96 L899.84 287.34 L902.42 289.9 L904.94 292.62 L907.37 295.5 L909.71 298.51 L911.93 301.65 L914.04 304.9 L916.02 308.24 L917.86 311.66 L919.55 315.14 L921.08 318.66 L922.45 322.21 L923.64 325.78 L924.66 329.33 L925.49 332.86 L926.14 336.35 L926.59 339.77 L926.85 343.12 L926.91 346.38 L926.78 349.52 L926.45 352.54 L925.92 355.42 L925.2 358.14 L924.3 360.7 L923.21 363.07 L921.93 365.25 L920.49 367.22 L918.88 368.97 L917.11 370.5 L915.19 371.8 L906.82 376.93 L904.76 377.99 L902.57 378.81 L900.26 379.37 L897.84 379.69 L895.33 379.75 L892.74 379.56 L890.08 379.12 L887.36 378.42 L884.6 377.49 L881.82 376.31 L879.02 374.89 L876.22 373.25 L873.43 371.39 L870.67 369.31 L867.95 367.04 L865.29 364.59 L862.7 361.95 L860.18 359.16 L857.76 356.22 L855.44 353.14 L853.24 349.95 L851.17 346.66 L849.23 343.28 L847.44 339.83 L845.8 336.33 L844.32 332.8 L843.01 329.25 L841.88 325.7 L840.92 322.17 L840.15 318.67 L839.56 315.22 L839.17 311.84 L838.96 308.55 Z" stroke-width="1" fill="#fff"/>
<path d="M918.59 351.46 L918.45 354.61 L918.11 357.64 L917.58 360.52 L916.86 363.25 L915.95 365.81 L914.85 368.18 L913.58 370.36 L912.13 372.34 L910.51 374.09 L908.74 375.63 L906.82 376.93 L904.76 377.99 L902.57 378.81 L900.26 379.37 L897.84 379.69 L895.33 379.75 L892.74 379.56 L890.08 379.12 L887.36 378.42 L884.6 377.49 L881.82 376.31 L879.02 374.89 L876.22 373.25 L873.43 371.39 L870.67 369.31 L867.95 367.04 L865.29 364.59 L862.7 361.95 L860.18 359.16 L857.76 356.22 L855.44 353.14 L853.24 349.95 L851.17 346.66 L849.23 343.28 L847.44 339.83 L845.8 336.33 L844.32 332.8 L843.01 329.25 L841.88 325.7 L840.92 322.17 L840.15 318.67 L839.56 315.22 L839.17 311.84 L838.96 308.55 L838.95 305.35 L839.13 302.27 L839.5 299.31 L840.05 296.5 L840.8 293.85 L841.72 291.36 L842.82 289.05 L844.09 286.93 L845.53 285.02 L847.13 283.31 L848.88 281.82 L850.76 280.56 L852.79 279.52 L854.93 278.72 L857.2 278.16 L859.56 277.84 L862.02 277.77 L864.55 277.94 L867.16 278.35 L869.82 279 L872.52 279.89 L875.26 281.01 L878.01 282.37 L880.77 283.94 L883.52 285.73 L886.25 287.73 L888.94 289.93 L891.59 292.32 L894.17 294.88 L896.68 297.61 L899.11 300.49 L901.44 303.51 L903.67 306.66 L905.77 309.91 L907.74 313.26 L909.58 316.68 L911.26 320.17 L912.79 323.7 L914.15 327.26 L915.34 330.83 L916.36 334.39 L917.19 337.92 L917.83 341.41 L918.27 344.85 L918.53 348.2 Z" stroke-width="1" fill="#fff"/>
<path d="M915.62 349.75 L917.69 352.72 L915.47 353.02 L917.4 356.11 L915.08 356.15 L916.87 359.32 L914.46 359.1 L916.1 362.35 L913.62 361.86 L915.09 365.16 L912.56 364.42 L913.86 367.75 L911.29 366.76 L912.41 370.1 L909.81 368.85 L910.75 372.18 L908.14 370.7 L908.88 374 L906.29 372.28 L906.82 375.52 L904.26 373.59 L904.59 376.76 L902.07 374.61 L902.2 377.69 L899.73 375.35 L899.65 378.32 L897.26 375.79 L896.98 378.63 L894.67 375.94 L894.19 378.63 L891.99 375.79 L891.31 378.31 L889.22 375.35 L888.34 377.69 L886.39 374.61 L885.32 376.76 L883.51 373.59 L882.26 375.52 L880.6 372.28 L879.18 374 L877.68 370.71 L876.09 372.19 L874.77 368.87 L873.03 370.11 L871.89 366.78 L870 367.77 L869.04 364.45 L867.03 365.19 L866.27 361.9 L864.13 362.39 L863.57 359.15 L861.33 359.38 L860.96 356.21 L858.63 356.18 L858.47 353.1 L856.07 352.81 L856.11 349.84 L853.64 349.29 L853.89 346.46 L851.38 345.65 L851.82 342.96 L849.28 341.91 L849.92 339.38 L847.37 338.09 L848.2 335.74 L845.65 334.22 L846.67 332.06 L844.14 330.32 L845.33 328.35 L842.84 326.4 L844.21 324.66 L841.76 322.51 L843.29 320.99 L840.91 318.66 L842.59 317.37 L840.29 314.87 L842.12 313.82 L839.91 311.17 L841.87 310.36 L839.76 307.57 L841.84 307.02 L839.85 304.11 L842.03 303.81 L840.18 300.8 L842.46 300.76 L840.74 297.67 L843.1 297.87 L841.53 294.72 L843.95 295.18 L842.55 291.98 L845.02 292.69 L843.78 289.46 L846.29 290.42 L845.23 287.19 L847.76 288.38 L846.88 285.16 L849.41 286.58 L848.72 283.4 L851.24 285.04 L850.75 281.91 L853.24 283.77 L852.94 280.71 L855.39 282.76 L855.29 279.79 L857.69 282.04 L857.78 279.18 L860.11 281.6 L860.4 278.86 L862.64 281.44 L863.13 278.84 L865.27 281.57 L865.95 279.13 L867.98 281.98 L868.85 279.71 L870.76 282.68 L871.81 280.6 L873.59 283.65 L874.82 281.77 L876.45 284.9 L877.85 283.23 L879.33 286.42 L880.89 284.97 L882.2 288.19 L883.92 286.97 L885.05 290.21 L886.91 289.23 L887.87 292.47 L889.86 291.73 L890.63 294.95 L892.75 294.46 L893.32 297.63 L895.54 297.4 L895.93 300.51 L898.24 300.53 L898.43 303.56 L900.82 303.84 L900.81 306.77 L903.27 307.31 L903.05 310.11 L905.57 310.9 L905.15 313.58 L907.71 314.61 L907.09 317.13 L909.67 318.41 L908.86 320.76 L911.44 322.28 L910.44 324.45 L913.01 326.19 L911.82 328.16 L914.36 330.12 L913 331.88 L915.5 334.04 L913.97 335.58 L916.42 337.93 L914.72 339.24 L917.09 341.77 L915.25 342.83 L917.53 345.53 L915.55 346.35 L917.73 349.19 Z" stroke-width="1.15" stroke="#1e1e1e"/>
<path d="M918.23 352.61 L917.71 353.32 L916.69 352.73 L916.19 351.43 L916.71 350.71 L917.73 351.31 Z" stroke-width="0.95" fill="#fff" stroke="#1a1a1a"/>
<path d="M918.06 355.21 L917.53 355.92 L916.51 355.33 L916.01 354.02 L916.54 353.31 L917.56 353.9 Z" stroke-width="0.95" fill="#fff" stroke="#1a1a1a"/>
<path d="M917.74 357.71 L917.21 358.43 L916.19 357.84 L915.69 356.53 L916.22 355.81 L917.24 356.41 Z" stroke-width="0.95" fill="#fff" stroke="#1a1a1a"/>
<path d="M917.28 360.12 L916.76 360.83 L915.73 360.24 L915.23 358.93 L915.76 358.21 L916.78 358.81 Z" stroke-width="0.95" fill="#fff" stroke="#1a1a1a"/>
<path d="M916.68 362.4 L916.16 363.12 L915.13 362.52 L914.63 361.21 L915.16 360.5 L916.18 361.09 Z" stroke-width="0.95" fill="#fff" stroke="#1a1a1a"/>
<path d="M915.95 364.57 L915.42 365.28 L914.4 364.69 L913.9 363.38 L914.42 362.66 L915.45 363.26 Z" stroke-width="0.95" fill="#fff" stroke="#1a1a1a"/>
<path d="M915.08 366.6 L914.55 367.32 L913.53 366.72 L913.03 365.41 L913.55 364.69 L914.58 365.29 Z" stroke-width="0.95" fill="#fff" stroke="#1a1a1a"/>
<path d="M914.08 368.5 L913.55 369.21 L912.53 368.62 L912.03 367.31 L912.55 366.59 L913.58 367.19 Z" stroke-width="0.95" fill="#fff" stroke="#1a1a1a"/>
<path d="M912.95 370.25 L912.42 370.97 L911.4 370.37 L910.9 369.06 L911.42 368.34 L912.45 368.94 Z" stroke-width="0.95" fill="#fff" stroke="#1a1a1a"/>
<path d="M911.69 371.85 L911.17 372.57 L910.14 371.97 L909.65 370.66 L910.17 369.94 L911.2 370.54 Z" stroke-width="0.95" fill="#fff" stroke="#1a1a1a"/>
<path d="M910.32 373.29 L909.8 374.01 L908.77 373.41 L908.27 372.1 L908.8 371.38 L909.83 371.98 Z" stroke-width="0.95" fill="#fff" stroke="#1a1a1a"/>
<path d="M908.84 374.57 L908.31 375.29 L907.29 374.69 L906.79 373.37 L907.32 372.66 L908.34 373.26 Z" stroke-width="0.95" fill="#fff" stroke="#1a1a1a"/>
<path d="M907.24 375.68 L906.72 376.4 L905.69 375.8 L905.2 374.48 L905.72 373.77 L906.75 374.37 Z" stroke-width="0.95" fill="#fff" stroke="#1a1a1a"/>
<path d="M905.55 376.62 L905.02 377.34 L904 376.74 L903.5 375.42 L904.03 374.71 L905.05 375.3 Z" stroke-width="0.95" fill="#fff" stroke="#1a1a1a"/>
<path d="M842.35 319.21 L841.82 319.91 L840.82 319.33 L840.35 318.05 L840.88 317.35 L841.87 317.93 Z" stroke-width="0.95" fill="#fff" stroke="#1a1a1a"/>
<path d="M841.86 316.33 L841.34 317.03 L840.34 316.45 L839.87 315.17 L840.39 314.47 L841.39 315.05 Z" stroke-width="0.95" fill="#fff" stroke="#1a1a1a"/>
<path d="M841.52 313.49 L840.99 314.19 L839.99 313.62 L839.52 312.33 L840.05 311.63 L841.04 312.21 Z" stroke-width="0.95" fill="#fff" stroke="#1a1a1a"/>
<path d="M841.31 310.72 L840.78 311.42 L839.78 310.84 L839.31 309.56 L839.84 308.86 L840.83 309.44 Z" stroke-width="0.95" fill="#fff" stroke="#1a1a1a"/>
<path d="M841.24 308.01 L840.71 308.71 L839.71 308.13 L839.24 306.85 L839.77 306.15 L840.76 306.73 Z" stroke-width="0.95" fill="#fff" stroke="#1a1a1a"/>
<path d="M841.3 305.38 L840.78 306.08 L839.78 305.5 L839.31 304.22 L839.84 303.52 L840.83 304.1 Z" stroke-width="0.95" fill="#fff" stroke="#1a1a1a"/>
<path d="M841.51 302.83 L840.99 303.53 L839.99 302.96 L839.52 301.68 L840.04 300.98 L841.04 301.56 Z" stroke-width="0.95" fill="#fff" stroke="#1a1a1a"/>
<path d="M841.86 300.39 L841.33 301.09 L840.34 300.51 L839.86 299.24 L840.39 298.54 L841.38 299.11 Z" stroke-width="0.95" fill="#fff" stroke="#1a1a1a"/>
<path d="M842.34 298.05 L841.81 298.74 L840.82 298.17 L840.35 296.9 L840.87 296.2 L841.86 296.77 Z" stroke-width="0.95" fill="#fff" stroke="#1a1a1a"/>
<path d="M842.95 295.82 L842.43 296.52 L841.43 295.94 L840.96 294.67 L841.48 293.97 L842.48 294.55 Z" stroke-width="0.95" fill="#fff" stroke="#1a1a1a"/>
<path d="M843.7 293.71 L843.17 294.41 L842.18 293.83 L841.71 292.56 L842.23 291.87 L843.23 292.44 Z" stroke-width="0.95" fill="#fff" stroke="#1a1a1a"/>
<path d="M844.57 291.73 L844.05 292.43 L843.06 291.85 L842.58 290.58 L843.11 289.89 L844.1 290.46 Z" stroke-width="0.95" fill="#fff" stroke="#1a1a1a"/>
<path d="M845.57 289.89 L845.05 290.58 L844.06 290.01 L843.59 288.74 L844.11 288.05 L845.1 288.62 Z" stroke-width="0.95" fill="#fff" stroke="#1a1a1a"/>
<path d="M846.7 288.19 L846.18 288.88 L845.18 288.31 L844.71 287.04 L845.23 286.34 L846.23 286.92 Z" stroke-width="0.95" fill="#fff" stroke="#1a1a1a"/>
<path d="M847.94 286.63 L847.42 287.33 L846.42 286.75 L845.95 285.49 L846.47 284.79 L847.47 285.36 Z" stroke-width="0.95" fill="#fff" stroke="#1a1a1a"/>
<path d="M849.3 285.23 L848.77 285.93 L847.78 285.35 L847.31 284.09 L847.83 283.39 L848.82 283.96 Z" stroke-width="0.95" fill="#fff" stroke="#1a1a1a"/>
<path d="M850.76 283.99 L850.24 284.68 L849.24 284.11 L848.77 282.84 L849.29 282.15 L850.29 282.72 Z" stroke-width="0.95" fill="#fff" stroke="#1a1a1a"/>
<path d="M852.33 282.91 L851.81 283.6 L850.81 283.03 L850.34 281.76 L850.86 281.07 L851.86 281.64 Z" stroke-width="0.95" fill="#fff" stroke="#1a1a1a"/>
<path d="M854 281.99 L853.47 282.69 L852.48 282.11 L852 280.85 L852.53 280.15 L853.52 280.72 Z" stroke-width="0.95" fill="#fff" stroke="#1a1a1a"/>
<path d="M855.75 281.24 L855.23 281.94 L854.24 281.37 L853.76 280.1 L854.28 279.41 L855.28 279.98 Z" stroke-width="0.95" fill="#fff" stroke="#1a1a1a"/>
<path d="M857.6 280.67 L857.08 281.37 L856.08 280.8 L855.61 279.53 L856.13 278.83 L857.12 279.41 Z" stroke-width="0.95" fill="#fff" stroke="#1a1a1a"/>
<path d="M859.52 280.27 L859 280.97 L858 280.4 L857.53 279.13 L858.05 278.44 L859.05 279.01 Z" stroke-width="0.95" fill="#fff" stroke="#1a1a1a"/>
<path d="M861.52 280.05 L861 280.74 L860 280.17 L859.52 278.91 L860.04 278.21 L861.04 278.78 Z" stroke-width="0.95" fill="#fff" stroke="#1a1a1a"/>
<path d="M863.58 280 L863.06 280.7 L862.06 280.12 L861.58 278.86 L862.1 278.16 L863.1 278.73 Z" stroke-width="0.95" fill="#fff" stroke="#1a1a1a"/>
<path d="M865.7 280.13 L865.18 280.82 L864.18 280.25 L863.7 278.99 L864.22 278.29 L865.22 278.86 Z" stroke-width="0.95" fill="#fff" stroke="#1a1a1a"/>
<path d="M867.87 280.43 L867.35 281.13 L866.35 280.56 L865.87 279.29 L866.39 278.6 L867.39 279.17 Z" stroke-width="0.95" fill="#fff" stroke="#1a1a1a"/>
<path d="M870.08 280.91 L869.56 281.61 L868.56 281.04 L868.08 279.77 L868.6 279.08 L869.6 279.65 Z" stroke-width="0.95" fill="#fff" stroke="#1a1a1a"/>
<path d="M872.33 281.57 L871.81 282.26 L870.81 281.69 L870.33 280.43 L870.85 279.73 L871.85 280.3 Z" stroke-width="0.95" fill="#fff" stroke="#1a1a1a"/>
<path d="M874.61 282.39 L874.09 283.09 L873.09 282.52 L872.61 281.25 L873.13 280.55 L874.13 281.13 Z" stroke-width="0.95" fill="#fff" stroke="#1a1a1a"/>
<path d="M876.9 283.39 L876.38 284.08 L875.38 283.51 L874.9 282.24 L875.42 281.55 L876.42 282.12 Z" stroke-width="0.95" fill="#fff" stroke="#1a1a1a"/>
<path d="M879.21 284.55 L878.69 285.24 L877.69 284.67 L877.2 283.4 L877.73 282.7 L878.73 283.28 Z" stroke-width="0.95" fill="#fff" stroke="#1a1a1a"/>
<path d="M881.52 285.87 L881 286.56 L879.99 285.99 L879.51 284.72 L880.03 284.02 L881.03 284.6 Z" stroke-width="0.95" fill="#fff" stroke="#1a1a1a"/>
<path d="M883.82 287.34 L883.3 288.04 L882.3 287.47 L881.81 286.2 L882.33 285.5 L883.34 286.07 Z" stroke-width="0.95" fill="#fff" stroke="#1a1a1a"/>
<path d="M886.11 288.97 L885.59 289.67 L884.59 289.1 L884.1 287.82 L884.62 287.13 L885.63 287.7 Z" stroke-width="0.95" fill="#fff" stroke="#1a1a1a"/>
<path d="M888.38 290.75 L887.86 291.45 L886.85 290.87 L886.37 289.6 L886.89 288.9 L887.89 289.47 Z" stroke-width="0.95" fill="#fff" stroke="#1a1a1a"/>
<path d="M890.62 292.66 L890.1 293.36 L889.09 292.79 L888.6 291.51 L889.12 290.81 L890.13 291.39 Z" stroke-width="0.95" fill="#fff" stroke="#1a1a1a"/>
<path d="M892.82 294.71 L892.3 295.41 L891.29 294.83 L890.8 293.56 L891.32 292.86 L892.33 293.44 Z" stroke-width="0.95" fill="#fff" stroke="#1a1a1a"/>
<path d="M894.97 296.88 L894.45 297.59 L893.44 297.01 L892.95 295.73 L893.47 295.03 L894.48 295.61 Z" stroke-width="0.95" fill="#fff" stroke="#1a1a1a"/>
<path d="M897.07 299.18 L896.55 299.88 L895.54 299.3 L895.05 298.02 L895.57 297.32 L896.58 297.9 Z" stroke-width="0.95" fill="#fff" stroke="#1a1a1a"/>
<path d="M899.11 301.58 L898.59 302.28 L897.58 301.7 L897.09 300.42 L897.61 299.72 L898.62 300.3 Z" stroke-width="0.95" fill="#fff" stroke="#1a1a1a"/>
<path d="M901.08 304.08 L900.56 304.79 L899.55 304.21 L899.06 302.93 L899.58 302.23 L900.59 302.8 Z" stroke-width="0.95" fill="#fff" stroke="#1a1a1a"/>
<path d="M902.97 306.68 L902.45 307.38 L901.44 306.81 L900.95 305.52 L901.47 304.82 L902.48 305.4 Z" stroke-width="0.95" fill="#fff" stroke="#1a1a1a"/>
<path d="M904.78 309.36 L904.26 310.07 L903.25 309.49 L902.76 308.2 L903.28 307.5 L904.29 308.08 Z" stroke-width="0.95" fill="#fff" stroke="#1a1a1a"/>
<path d="M906.5 312.12 L905.98 312.82 L904.96 312.24 L904.47 310.96 L904.99 310.25 L906.01 310.83 Z" stroke-width="0.95" fill="#fff" stroke="#1a1a1a"/>
<path d="M908.12 314.94 L907.6 315.64 L906.59 315.06 L906.1 313.77 L906.62 313.07 L907.63 313.65 Z" stroke-width="0.95" fill="#fff" stroke="#1a1a1a"/>
<path d="M909.64 317.81 L909.12 318.52 L908.11 317.93 L907.61 316.65 L908.14 315.94 L909.15 316.52 Z" stroke-width="0.95" fill="#fff" stroke="#1a1a1a"/>
<path d="M911.06 320.73 L910.53 321.44 L909.52 320.85 L909.03 319.56 L909.55 318.86 L910.56 319.44 Z" stroke-width="0.95" fill="#fff" stroke="#1a1a1a"/>
<path d="M912.35 323.68 L911.83 324.39 L910.82 323.8 L910.32 322.51 L910.84 321.8 L911.86 322.39 Z" stroke-width="0.95" fill="#fff" stroke="#1a1a1a"/>
<path d="M913.54 326.65 L913.01 327.36 L912 326.77 L911.5 325.48 L912.02 324.77 L913.04 325.36 Z" stroke-width="0.95" fill="#fff" stroke="#1a1a1a"/>
<path d="M914.59 329.64 L914.07 330.34 L913.05 329.76 L912.56 328.46 L913.08 327.76 L914.1 328.34 Z" stroke-width="0.95" fill="#fff" stroke="#1a1a1a"/>
<path d="M915.52 332.62 L915 333.33 L913.98 332.74 L913.49 331.45 L914.01 330.74 L915.03 331.33 Z" stroke-width="0.95" fill="#fff" stroke="#1a1a1a"/>
<path d="M916.32 335.6 L915.8 336.3 L914.78 335.72 L914.29 334.42 L914.81 333.71 L915.83 334.3 Z" stroke-width="0.95" fill="#fff" stroke="#1a1a1a"/>
<path d="M916.99 338.55 L916.47 339.26 L915.45 338.67 L914.95 337.37 L915.47 336.66 L916.49 337.25 Z" stroke-width="0.95" fill="#fff" stroke="#1a1a1a"/>
<path d="M917.52 341.47 L917 342.18 L915.97 341.59 L915.48 340.29 L916 339.58 L917.02 340.17 Z" stroke-width="0.95" fill="#fff" stroke="#1a1a1a"/>
<path d="M917.91 344.35 L917.39 345.06 L916.36 344.47 L915.87 343.17 L916.39 342.45 L917.41 343.04 Z" stroke-width="0.95" fill="#fff" stroke="#1a1a1a"/>
<path d="M918.16 347.17 L917.63 347.88 L916.61 347.29 L916.12 345.99 L916.64 345.28 L917.66 345.87 Z" stroke-width="0.95" fill="#fff" stroke="#1a1a1a"/>
<path d="M918.27 349.93 L917.74 350.64 L916.72 350.05 L916.22 348.74 L916.75 348.03 L917.77 348.62 Z" stroke-width="0.95" fill="#fff" stroke="#1a1a1a"/>
<path d="M881.85 319.43 L881.59 320.6 L880.92 321.33 L879.94 321.51 L878.79 321.11 L877.65 320.19 L876.7 318.89 L876.07 317.41 L875.87 315.98 L876.12 314.81 L876.79 314.08 L877.77 313.9 L878.92 314.3 L880.06 315.21 L881.02 316.51 L881.64 317.99 Z" stroke-width="1.7" fill="#fff"/>
<path d="M880.38 318.58 L880.16 319.34 L879.59 319.65 L878.82 319.44 L878.06 318.77 L877.52 317.81 L877.33 316.82 L877.55 316.07 L878.12 315.75 L878.89 315.96 L879.65 316.63 L880.2 317.59 Z" stroke-width="0.9" fill="#555"/>
<path d="M871.96 321.73 L871.71 322.91 L871.04 323.64 L870.05 323.82 L868.9 323.42 L867.77 322.5 L866.82 321.2 L866.19 319.72 L865.99 318.28 L866.25 317.11 L866.92 316.38 L867.9 316.2 L869.05 316.6 L870.18 317.52 L871.14 318.82 L871.76 320.3 Z" stroke-width="1.7" fill="#fff"/>
<path d="M870.5 320.89 L870.28 321.64 L869.71 321.96 L868.94 321.75 L868.18 321.08 L867.64 320.11 L867.45 319.12 L867.67 318.37 L868.24 318.06 L869.01 318.26 L869.77 318.94 L870.32 319.9 Z" stroke-width="0.9" fill="#555"/>
<path d="M891.6 333.1 L891.35 334.28 L890.68 335.01 L889.69 335.19 L888.54 334.79 L887.39 333.86 L886.43 332.55 L885.8 331.07 L885.6 329.63 L885.85 328.45 L886.52 327.71 L887.51 327.53 L888.66 327.94 L889.8 328.86 L890.76 330.17 L891.39 331.66 Z" stroke-width="1.7" fill="#fff"/>
<path d="M890.13 332.25 L889.91 333.01 L889.34 333.32 L888.57 333.11 L887.8 332.43 L887.25 331.47 L887.06 330.47 L887.28 329.72 L887.86 329.4 L888.63 329.61 L889.39 330.29 L889.94 331.25 Z" stroke-width="0.9" fill="#555"/>
<path d="M875.37 337.23 L875.12 338.41 L874.45 339.15 L873.46 339.33 L872.31 338.92 L871.17 337.99 L870.21 336.69 L869.59 335.2 L869.39 333.75 L869.64 332.58 L870.31 331.84 L871.3 331.66 L872.45 332.07 L873.59 332.99 L874.55 334.3 L875.17 335.79 Z" stroke-width="1.7" fill="#fff"/>
<path d="M873.91 336.38 L873.69 337.14 L873.11 337.46 L872.34 337.25 L871.58 336.57 L871.04 335.6 L870.85 334.6 L871.07 333.85 L871.65 333.53 L872.42 333.74 L873.18 334.42 L873.72 335.39 Z" stroke-width="0.9" fill="#555"/>
<path d="M887.45 344.24 L887.2 345.43 L886.53 346.17 L885.54 346.35 L884.38 345.94 L883.24 345.01 L882.27 343.7 L881.64 342.2 L881.44 340.75 L881.69 339.57 L882.37 338.84 L883.35 338.66 L884.51 339.06 L885.65 339.99 L886.61 341.3 L887.24 342.8 Z" stroke-width="1.7" fill="#fff"/>
<path d="M885.98 343.39 L885.76 344.15 L885.18 344.47 L884.41 344.26 L883.65 343.58 L883.1 342.6 L882.91 341.61 L883.13 340.85 L883.7 340.53 L884.48 340.74 L885.24 341.42 L885.79 342.39 Z" stroke-width="0.9" fill="#555"/>
<path d="M909.7 270.8 L917 226.3 L933.3 233.7 L948.9 226.3 L955.7 271.5 L932 274.3 Z" stroke-width="1" fill="#fff"/>
<line x1="933.3" y1="233.7" x2="932" y2="274.3" stroke-width="0.9"/>
<line x1="917" y1="226.3" x2="915" y2="271.5" stroke-width="0.6"/>
<line x1="948.9" y1="226.3" x2="951" y2="271.5" stroke-width="0.6"/>
<line x1="927" y1="235" x2="925.5" y2="273.5" stroke-width="0.6"/>
<line x1="939" y1="235" x2="938.5" y2="273.5" stroke-width="0.6"/>
<ellipse cx="922.1" cy="247.8" rx="2.8" ry="3.6" stroke-width="1.5" transform="rotate(-20 922.1 247.8)"/>
<ellipse cx="922.1" cy="247.8" rx="1.2" ry="1.6" stroke-width="0.8"/>
<ellipse cx="942.5" cy="239.3" rx="2.8" ry="3.6" stroke-width="1.5" transform="rotate(20 942.5 239.3)"/>
<ellipse cx="942.5" cy="239.3" rx="1.2" ry="1.6" stroke-width="0.8"/>
<path d="M919.3 208 L919.3 227.5 L933.3 234 L947.4 227.5 L947.4 208" stroke-width="1" fill="#fff"/>
<line x1="933.3" y1="212" x2="933.3" y2="233.5" stroke-width="0.8"/>
<path d="M916.3 166.3 L916.3 200.5 L918 204 L925 207.5 L934 208.8 L943 207.5 L950 204 L951.8 200.5 L951.8 166.3" stroke-width="1" fill="#fff"/>
<path d="M916.5 168.6 Q934 179.1 951.6 168.6" stroke-width="1.1" stroke="#1a1a1a"/>
<path d="M916.5 170.15 Q934 180.65 951.6 170.15" stroke-width="1.1" stroke="#1a1a1a"/>
<path d="M916.5 171.7 Q934 182.2 951.6 171.7" stroke-width="1.1" stroke="#1a1a1a"/>
<path d="M916.5 173.25 Q934 183.75 951.6 173.25" stroke-width="1.1" stroke="#1a1a1a"/>
<path d="M916.5 174.8 Q934 185.3 951.6 174.8" stroke-width="1.1" stroke="#1a1a1a"/>
<path d="M916.5 176.35 Q934 186.85 951.6 176.35" stroke-width="1.1" stroke="#1a1a1a"/>
<path d="M916.5 177.9 Q934 188.4 951.6 177.9" stroke-width="1.1" stroke="#1a1a1a"/>
<path d="M916.5 179.45 Q934 189.95 951.6 179.45" stroke-width="1.1" stroke="#1a1a1a"/>
<path d="M916.5 181 Q934 191.5 951.6 181" stroke-width="1.1" stroke="#1a1a1a"/>
<path d="M916.5 182.55 Q934 193.05 951.6 182.55" stroke-width="1.1" stroke="#1a1a1a"/>
<path d="M916.5 186.2 Q934 196.8 951.6 186.2" stroke-width="0.9"/>
<path d="M916.5 189.6 Q934 200.2 951.6 189.6" stroke-width="0.9"/>
<path d="M916.5 191.2 Q934 201.8 951.6 191.2" stroke-width="0.7"/>
<ellipse cx="934" cy="165.8" rx="17.75" ry="8.4" stroke-width="1.2" fill="#fff" stroke="#222"/>
<ellipse cx="934" cy="166.3" rx="13.2" ry="6" stroke-width="1.2" stroke="#222"/>
<line x1="928.38" y1="166.3" x2="921.5" y2="166.3" stroke-width="1.6" stroke="#222"/>
<line x1="939.62" y1="166.3" x2="946.5" y2="166.3" stroke-width="1.6" stroke="#222"/>
<line x1="934" y1="163.69" x2="934" y2="160.5" stroke-width="1.6" stroke="#222"/>
<line x1="934" y1="168.91" x2="934" y2="172.1" stroke-width="1.6" stroke="#222"/>
<line x1="930.04" y1="164.41" x2="925.2" y2="162.1" stroke-width="1.6" stroke="#222"/>
<line x1="937.96" y1="164.41" x2="942.8" y2="162.1" stroke-width="1.6" stroke="#222"/>
<line x1="930.04" y1="168.19" x2="925.2" y2="170.5" stroke-width="1.6" stroke="#222"/>
<line x1="937.96" y1="168.19" x2="942.8" y2="170.5" stroke-width="1.6" stroke="#222"/>
<ellipse cx="934" cy="167" rx="5.2" ry="2.8" stroke-width="1.6" fill="#fff" stroke="#111"/>
<ellipse cx="922.2" cy="200.3" rx="3.3" ry="4.3" stroke-width="1.5"/>
<ellipse cx="922.2" cy="200.3" rx="1.6" ry="2.2" stroke-width="0.8"/>
<ellipse cx="945.4" cy="200.3" rx="3.3" ry="4.3" stroke-width="1.5"/>
<ellipse cx="945.4" cy="200.3" rx="1.6" ry="2.2" stroke-width="0.8"/>
</g>
</svg>
</body></html>
